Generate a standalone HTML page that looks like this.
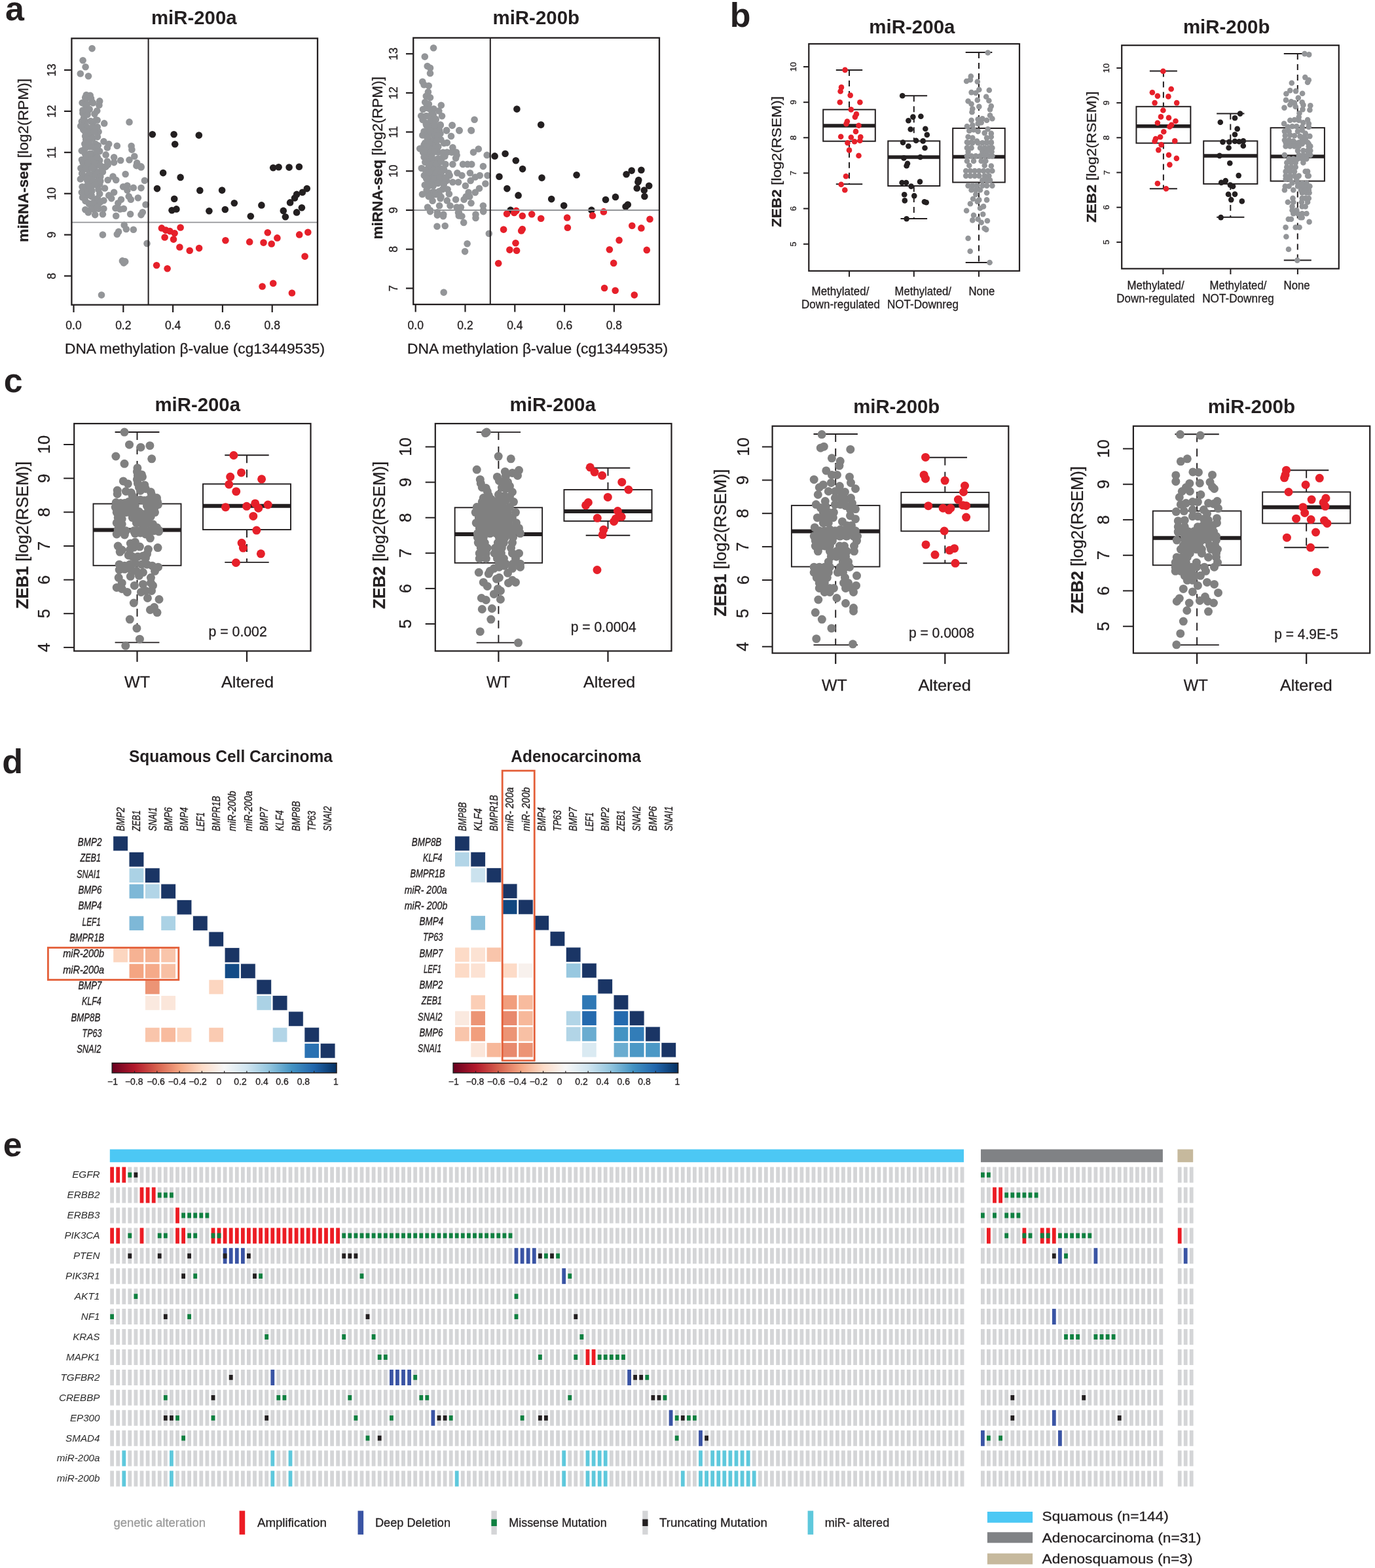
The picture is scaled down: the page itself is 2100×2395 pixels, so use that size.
<!DOCTYPE html>
<html><head><meta charset="utf-8"><title>Figure</title>
<style>html,body{margin:0;padding:0;background:#fff;}svg{display:block;}text{font-family:"Liberation Sans", Arial, Helvetica, sans-serif;}</style>
</head><body>
<svg width="2100" height="2395" viewBox="0 0 2100 2395" fill="#231f20">
<defs><linearGradient id="rdbu" x1="0" x2="1" y1="0" y2="0"><stop offset="0.00" stop-color="#67001f"/><stop offset="0.10" stop-color="#b2182b"/><stop offset="0.20" stop-color="#d6604d"/><stop offset="0.30" stop-color="#f4a582"/><stop offset="0.40" stop-color="#fddbc7"/><stop offset="0.50" stop-color="#f7f7f7"/><stop offset="0.60" stop-color="#d1e5f0"/><stop offset="0.70" stop-color="#92c5de"/><stop offset="0.80" stop-color="#4393c3"/><stop offset="0.90" stop-color="#2166ac"/><stop offset="1.00" stop-color="#053061"/></linearGradient></defs>
<rect width="2100" height="2395" fill="#fff"/>
<text x="8.0" y="31.0" font-size="52" font-weight="bold">a</text>
<text x="231.0" y="36.8" font-size="29.5" font-weight="bold" textLength="130.6" lengthAdjust="spacingAndGlyphs">miR-200a</text>
<g fill="#939598"><circle cx="140.6" cy="74.1" r="5.3"/><circle cx="126.6" cy="92.2" r="5.3"/><circle cx="130.6" cy="102.2" r="5.3"/><circle cx="122.8" cy="112.5" r="5.3"/><circle cx="135.0" cy="116.2" r="5.3"/><circle cx="137.7" cy="145.8" r="5.3"/><circle cx="131.1" cy="150.9" r="5.3"/><circle cx="125.6" cy="157.1" r="5.3"/><circle cx="130.3" cy="159.8" r="5.3"/><circle cx="140.5" cy="155.5" r="5.3"/><circle cx="152.2" cy="154.4" r="5.3"/><circle cx="151.4" cy="160.6" r="5.3"/><circle cx="130.3" cy="168.4" r="5.3"/><circle cx="126.4" cy="173.1" r="5.3"/><circle cx="133.4" cy="171.6" r="5.3"/><circle cx="128.0" cy="180.2" r="5.3"/><circle cx="129.5" cy="184.8" r="5.3"/><circle cx="146.7" cy="183.3" r="5.3"/><circle cx="142.0" cy="187.2" r="5.3"/><circle cx="159.2" cy="188.4" r="5.3"/><circle cx="197.5" cy="186.4" r="5.3"/><circle cx="131.1" cy="191.9" r="5.3"/><circle cx="127.2" cy="198.1" r="5.3"/><circle cx="133.4" cy="196.6" r="5.3"/><circle cx="139.7" cy="195.0" r="5.3"/><circle cx="144.4" cy="196.6" r="5.3"/><circle cx="150.6" cy="201.2" r="5.3"/><circle cx="133.4" cy="205.9" r="5.3"/><circle cx="139.7" cy="204.4" r="5.3"/><circle cx="131.1" cy="213.0" r="5.3"/><circle cx="141.2" cy="211.4" r="5.3"/><circle cx="158.4" cy="216.1" r="5.3"/><circle cx="166.2" cy="220.0" r="5.3"/><circle cx="163.9" cy="225.5" r="5.3"/><circle cx="178.8" cy="222.7" r="5.3"/><circle cx="200.6" cy="223.1" r="5.3"/><circle cx="201.4" cy="228.6" r="5.3"/><circle cx="124.8" cy="230.2" r="5.3"/><circle cx="130.3" cy="226.2" r="5.3"/><circle cx="136.6" cy="223.9" r="5.3"/><circle cx="142.8" cy="223.1" r="5.3"/><circle cx="149.8" cy="222.3" r="5.3"/><circle cx="161.6" cy="236.4" r="5.3"/><circle cx="174.1" cy="240.3" r="5.3"/><circle cx="184.2" cy="245.0" r="5.3"/><circle cx="197.5" cy="244.2" r="5.3"/><circle cx="205.3" cy="238.8" r="5.3"/><circle cx="209.2" cy="248.9" r="5.3"/><circle cx="215.5" cy="254.4" r="5.3"/><circle cx="132.7" cy="235.6" r="5.3"/><circle cx="139.7" cy="234.8" r="5.3"/><circle cx="147.5" cy="234.1" r="5.3"/><circle cx="152.2" cy="230.9" r="5.3"/><circle cx="130.3" cy="241.9" r="5.3"/><circle cx="138.1" cy="241.9" r="5.3"/><circle cx="145.9" cy="241.9" r="5.3"/><circle cx="152.2" cy="245.0" r="5.3"/><circle cx="163.9" cy="246.6" r="5.3"/><circle cx="174.1" cy="248.1" r="5.3"/><circle cx="131.9" cy="249.7" r="5.3"/><circle cx="139.7" cy="249.7" r="5.3"/><circle cx="146.7" cy="248.9" r="5.3"/><circle cx="125.6" cy="255.9" r="5.3"/><circle cx="135.0" cy="257.5" r="5.3"/><circle cx="144.4" cy="257.5" r="5.3"/><circle cx="161.6" cy="254.4" r="5.3"/><circle cx="156.1" cy="259.1" r="5.3"/><circle cx="124.8" cy="257.0" r="5.3"/><circle cx="131.9" cy="254.7" r="5.3"/><circle cx="139.7" cy="253.1" r="5.3"/><circle cx="146.7" cy="252.3" r="5.3"/><circle cx="151.4" cy="251.6" r="5.3"/><circle cx="160.8" cy="254.7" r="5.3"/><circle cx="164.7" cy="251.6" r="5.3"/><circle cx="156.9" cy="262.5" r="5.3"/><circle cx="144.4" cy="260.9" r="5.3"/><circle cx="130.3" cy="269.5" r="5.3"/><circle cx="138.1" cy="268.8" r="5.3"/><circle cx="145.9" cy="267.2" r="5.3"/><circle cx="133.4" cy="275.8" r="5.3"/><circle cx="141.2" cy="275.0" r="5.3"/><circle cx="150.6" cy="274.2" r="5.3"/><circle cx="191.6" cy="266.0" r="5.3"/><circle cx="208.4" cy="253.1" r="5.3"/><circle cx="215.5" cy="255.5" r="5.3"/><circle cx="220.9" cy="275.8" r="5.3"/><circle cx="164.7" cy="275.0" r="5.3"/><circle cx="172.5" cy="269.5" r="5.3"/><circle cx="177.2" cy="275.0" r="5.3"/><circle cx="131.9" cy="284.4" r="5.3"/><circle cx="139.7" cy="282.8" r="5.3"/><circle cx="152.2" cy="281.2" r="5.3"/><circle cx="160.0" cy="287.5" r="5.3"/><circle cx="188.1" cy="285.2" r="5.3"/><circle cx="194.4" cy="283.6" r="5.3"/><circle cx="203.8" cy="286.7" r="5.3"/><circle cx="215.5" cy="287.1" r="5.3"/><circle cx="194.4" cy="290.6" r="5.3"/><circle cx="131.9" cy="290.6" r="5.3"/><circle cx="139.7" cy="290.6" r="5.3"/><circle cx="152.2" cy="296.1" r="5.3"/><circle cx="174.1" cy="293.8" r="5.3"/><circle cx="166.2" cy="298.4" r="5.3"/><circle cx="170.2" cy="303.1" r="5.3"/><circle cx="196.7" cy="300.0" r="5.3"/><circle cx="199.8" cy="304.7" r="5.3"/><circle cx="210.8" cy="302.3" r="5.3"/><circle cx="185.0" cy="304.7" r="5.3"/><circle cx="180.3" cy="310.2" r="5.3"/><circle cx="222.5" cy="312.5" r="5.3"/><circle cx="131.9" cy="298.4" r="5.3"/><circle cx="139.7" cy="298.4" r="5.3"/><circle cx="147.5" cy="304.7" r="5.3"/><circle cx="158.4" cy="306.2" r="5.3"/><circle cx="135.8" cy="310.9" r="5.3"/><circle cx="142.8" cy="309.4" r="5.3"/><circle cx="150.6" cy="310.9" r="5.3"/><circle cx="130.3" cy="320.3" r="5.3"/><circle cx="143.6" cy="320.3" r="5.3"/><circle cx="150.6" cy="318.8" r="5.3"/><circle cx="158.4" cy="318.8" r="5.3"/><circle cx="145.2" cy="328.1" r="5.3"/><circle cx="156.9" cy="327.3" r="5.3"/><circle cx="176.4" cy="318.0" r="5.3"/><circle cx="183.4" cy="319.5" r="5.3"/><circle cx="188.9" cy="318.8" r="5.3"/><circle cx="177.2" cy="329.7" r="5.3"/><circle cx="199.1" cy="327.0" r="5.3"/><circle cx="215.5" cy="328.1" r="5.3"/><circle cx="217.8" cy="324.2" r="5.3"/><circle cx="189.7" cy="343.8" r="5.3"/><circle cx="192.8" cy="350.0" r="5.3"/><circle cx="181.1" cy="353.9" r="5.3"/><circle cx="178.8" cy="357.8" r="5.3"/><circle cx="203.8" cy="350.8" r="5.3"/><circle cx="156.9" cy="358.6" r="5.3"/><circle cx="224.5" cy="371.9" r="5.3"/><circle cx="186.9" cy="398.4" r="5.3"/><circle cx="189.0" cy="401.6" r="5.3"/><circle cx="191.2" cy="399.4" r="5.3"/><circle cx="155.0" cy="450.6" r="5.3"/></g>
<g fill="#939598"><circle cx="131.8" cy="145.1" r="5.3"/><circle cx="130.2" cy="148.9" r="5.3"/><circle cx="139.0" cy="150.3" r="5.3"/><circle cx="133.0" cy="159.1" r="5.3"/><circle cx="142.0" cy="157.3" r="5.3"/><circle cx="126.4" cy="168.5" r="5.3"/><circle cx="136.7" cy="166.9" r="5.3"/><circle cx="148.2" cy="169.2" r="5.3"/><circle cx="133.6" cy="175.1" r="5.3"/><circle cx="144.5" cy="174.1" r="5.3"/><circle cx="124.9" cy="185.5" r="5.3"/><circle cx="138.5" cy="185.0" r="5.3"/><circle cx="148.6" cy="183.5" r="5.3"/><circle cx="123.2" cy="192.6" r="5.3"/><circle cx="134.2" cy="195.4" r="5.3"/><circle cx="141.6" cy="193.8" r="5.3"/><circle cx="148.7" cy="194.0" r="5.3"/><circle cx="129.3" cy="199.9" r="5.3"/><circle cx="136.3" cy="202.1" r="5.3"/><circle cx="143.8" cy="200.9" r="5.3"/><circle cx="130.1" cy="207.9" r="5.3"/><circle cx="141.1" cy="211.5" r="5.3"/><circle cx="148.9" cy="209.1" r="5.3"/><circle cx="129.3" cy="219.7" r="5.3"/><circle cx="135.7" cy="217.2" r="5.3"/><circle cx="145.7" cy="219.8" r="5.3"/><circle cx="130.7" cy="225.8" r="5.3"/><circle cx="142.3" cy="224.6" r="5.3"/><circle cx="148.4" cy="225.5" r="5.3"/><circle cx="130.1" cy="235.3" r="5.3"/><circle cx="137.1" cy="234.9" r="5.3"/><circle cx="147.5" cy="231.6" r="5.3"/><circle cx="124.9" cy="244.1" r="5.3"/><circle cx="131.6" cy="241.9" r="5.3"/><circle cx="139.5" cy="243.2" r="5.3"/><circle cx="148.8" cy="240.0" r="5.3"/><circle cx="126.6" cy="248.2" r="5.3"/><circle cx="134.2" cy="248.7" r="5.3"/><circle cx="144.2" cy="249.9" r="5.3"/><circle cx="153.3" cy="252.8" r="5.3"/><circle cx="123.4" cy="257.0" r="5.3"/><circle cx="130.8" cy="258.1" r="5.3"/><circle cx="141.0" cy="256.8" r="5.3"/><circle cx="153.2" cy="261.8" r="5.3"/><circle cx="125.1" cy="265.0" r="5.3"/><circle cx="136.1" cy="265.9" r="5.3"/><circle cx="148.4" cy="265.3" r="5.3"/><circle cx="153.3" cy="269.8" r="5.3"/><circle cx="122.9" cy="273.5" r="5.3"/><circle cx="132.5" cy="272.8" r="5.3"/><circle cx="141.9" cy="278.2" r="5.3"/><circle cx="153.3" cy="276.6" r="5.3"/><circle cx="125.6" cy="285.3" r="5.3"/><circle cx="137.2" cy="285.4" r="5.3"/><circle cx="145.5" cy="282.2" r="5.3"/><circle cx="124.8" cy="293.8" r="5.3"/><circle cx="134.1" cy="293.4" r="5.3"/><circle cx="140.2" cy="292.1" r="5.3"/><circle cx="150.4" cy="289.4" r="5.3"/><circle cx="126.1" cy="301.4" r="5.3"/><circle cx="139.6" cy="300.0" r="5.3"/><circle cx="149.0" cy="303.1" r="5.3"/><circle cx="130.5" cy="306.9" r="5.3"/><circle cx="142.5" cy="310.8" r="5.3"/><circle cx="153.2" cy="308.4" r="5.3"/><circle cx="139.3" cy="318.4" r="5.3"/><circle cx="147.9" cy="316.7" r="5.3"/><circle cx="134.9" cy="324.5" r="5.3"/></g>
<g fill="#231f20"><circle cx="232.8" cy="205.3" r="5.3"/><circle cx="265.6" cy="205.3" r="5.3"/><circle cx="303.8" cy="206.6" r="5.3"/><circle cx="267.2" cy="220.3" r="5.3"/><circle cx="249.1" cy="264.1" r="5.3"/><circle cx="275.6" cy="270.9" r="5.3"/><circle cx="240.0" cy="288.1" r="5.3"/><circle cx="305.3" cy="290.9" r="5.3"/><circle cx="339.1" cy="290.6" r="5.3"/><circle cx="266.2" cy="303.8" r="5.3"/><circle cx="262.5" cy="321.2" r="5.3"/><circle cx="269.4" cy="319.4" r="5.3"/><circle cx="319.4" cy="322.2" r="5.3"/><circle cx="343.8" cy="320.0" r="5.3"/><circle cx="357.8" cy="310.3" r="5.3"/><circle cx="382.8" cy="330.3" r="5.3"/><circle cx="399.4" cy="313.4" r="5.3"/><circle cx="417.2" cy="256.2" r="5.3"/><circle cx="425.6" cy="255.3" r="5.3"/><circle cx="441.6" cy="255.6" r="5.3"/><circle cx="456.9" cy="254.7" r="5.3"/><circle cx="432.8" cy="321.9" r="5.3"/><circle cx="435.9" cy="331.2" r="5.3"/><circle cx="443.1" cy="309.4" r="5.3"/><circle cx="450.0" cy="302.5" r="5.3"/><circle cx="453.1" cy="296.9" r="5.3"/><circle cx="461.9" cy="293.8" r="5.3"/><circle cx="468.8" cy="288.1" r="5.3"/><circle cx="460.9" cy="317.2" r="5.3"/><circle cx="453.1" cy="324.4" r="5.3"/></g>
<g fill="#e6202a"><circle cx="246.9" cy="348.4" r="5.3"/><circle cx="253.1" cy="351.6" r="5.3"/><circle cx="259.4" cy="353.1" r="5.3"/><circle cx="251.6" cy="362.5" r="5.3"/><circle cx="266.6" cy="356.2" r="5.3"/><circle cx="265.0" cy="365.6" r="5.3"/><circle cx="275.6" cy="347.5" r="5.3"/><circle cx="274.4" cy="377.5" r="5.3"/><circle cx="289.7" cy="382.8" r="5.3"/><circle cx="304.1" cy="379.1" r="5.3"/><circle cx="239.1" cy="405.3" r="5.3"/><circle cx="255.6" cy="410.3" r="5.3"/><circle cx="344.4" cy="367.2" r="5.3"/><circle cx="381.2" cy="369.4" r="5.3"/><circle cx="402.5" cy="370.6" r="5.3"/><circle cx="408.8" cy="355.3" r="5.3"/><circle cx="414.7" cy="372.5" r="5.3"/><circle cx="423.4" cy="363.4" r="5.3"/><circle cx="457.2" cy="358.4" r="5.3"/><circle cx="470.3" cy="354.7" r="5.3"/><circle cx="465.6" cy="391.6" r="5.3"/><circle cx="400.6" cy="437.5" r="5.3"/><circle cx="417.2" cy="432.8" r="5.3"/><circle cx="445.9" cy="447.5" r="5.3"/></g>
<line x1="109.4" y1="339.7" x2="485.0" y2="339.7" stroke="#939598" stroke-width="1.8" stroke-linecap="butt"/>
<line x1="226.6" y1="58.6" x2="226.6" y2="465.6" stroke="#231f20" stroke-width="2.0" stroke-linecap="butt"/>
<rect x="109.40" y="58.60" width="375.60" height="407.00" fill="none" stroke="#231f20" stroke-width="2.3"/>
<line x1="98.0" y1="421.5" x2="109.4" y2="421.5" stroke="#231f20" stroke-width="2.2" stroke-linecap="butt"/>
<text x="84.8" y="421.5" font-size="17.5" text-anchor="middle" stroke="#231f20" stroke-width="0.3" transform="rotate(-90 84.8 421.5)">8</text>
<line x1="98.0" y1="358.6" x2="109.4" y2="358.6" stroke="#231f20" stroke-width="2.2" stroke-linecap="butt"/>
<text x="84.8" y="358.6" font-size="17.5" text-anchor="middle" stroke="#231f20" stroke-width="0.3" transform="rotate(-90 84.8 358.6)">9</text>
<line x1="98.0" y1="295.7" x2="109.4" y2="295.7" stroke="#231f20" stroke-width="2.2" stroke-linecap="butt"/>
<text x="84.8" y="295.7" font-size="17.5" text-anchor="middle" stroke="#231f20" stroke-width="0.3" transform="rotate(-90 84.8 295.7)">10</text>
<line x1="98.0" y1="232.8" x2="109.4" y2="232.8" stroke="#231f20" stroke-width="2.2" stroke-linecap="butt"/>
<text x="84.8" y="232.8" font-size="17.5" text-anchor="middle" stroke="#231f20" stroke-width="0.3" transform="rotate(-90 84.8 232.8)">11</text>
<line x1="98.0" y1="169.9" x2="109.4" y2="169.9" stroke="#231f20" stroke-width="2.2" stroke-linecap="butt"/>
<text x="84.8" y="169.9" font-size="17.5" text-anchor="middle" stroke="#231f20" stroke-width="0.3" transform="rotate(-90 84.8 169.9)">12</text>
<line x1="98.0" y1="107.0" x2="109.4" y2="107.0" stroke="#231f20" stroke-width="2.2" stroke-linecap="butt"/>
<text x="84.8" y="107.0" font-size="17.5" text-anchor="middle" stroke="#231f20" stroke-width="0.3" transform="rotate(-90 84.8 107.0)">13</text>
<line x1="112.5" y1="465.6" x2="112.5" y2="477.0" stroke="#231f20" stroke-width="2.2" stroke-linecap="butt"/>
<text x="112.5" y="503.0" font-size="17.5" text-anchor="middle" stroke="#231f20" stroke-width="0.3">0.0</text>
<line x1="188.3" y1="465.6" x2="188.3" y2="477.0" stroke="#231f20" stroke-width="2.2" stroke-linecap="butt"/>
<text x="188.3" y="503.0" font-size="17.5" text-anchor="middle" stroke="#231f20" stroke-width="0.3">0.2</text>
<line x1="264.1" y1="465.6" x2="264.1" y2="477.0" stroke="#231f20" stroke-width="2.2" stroke-linecap="butt"/>
<text x="264.1" y="503.0" font-size="17.5" text-anchor="middle" stroke="#231f20" stroke-width="0.3">0.4</text>
<line x1="339.9" y1="465.6" x2="339.9" y2="477.0" stroke="#231f20" stroke-width="2.2" stroke-linecap="butt"/>
<text x="339.9" y="503.0" font-size="17.5" text-anchor="middle" stroke="#231f20" stroke-width="0.3">0.6</text>
<line x1="415.7" y1="465.6" x2="415.7" y2="477.0" stroke="#231f20" stroke-width="2.2" stroke-linecap="butt"/>
<text x="415.7" y="503.0" font-size="17.5" text-anchor="middle" stroke="#231f20" stroke-width="0.3">0.8</text>
<text x="99.0" y="540.0" font-size="21.8" stroke="#231f20" stroke-width="0.3" textLength="397.0" lengthAdjust="spacingAndGlyphs">DNA methylation β-value (cg13449535)</text>
<text x="43.0" y="369.8" font-size="21.8" stroke="#231f20" stroke-width="0.3" textLength="249.8" lengthAdjust="spacingAndGlyphs" transform="rotate(-90 43.0 369.8)"><tspan font-weight="bold">miRNA-seq</tspan> [log2(RPM)]</text>
<text x="752.5" y="36.8" font-size="29.5" font-weight="bold" textLength="132.5" lengthAdjust="spacingAndGlyphs">miR-200b</text>
<g fill="#939598"><circle cx="662.1" cy="73.3" r="5.3"/><circle cx="648.8" cy="86.6" r="5.3"/><circle cx="652.7" cy="101.0" r="5.3"/><circle cx="657.0" cy="103.8" r="5.3"/><circle cx="657.0" cy="112.0" r="5.3"/><circle cx="645.3" cy="124.8" r="5.3"/><circle cx="647.6" cy="129.5" r="5.3"/><circle cx="654.7" cy="131.1" r="5.3"/><circle cx="653.9" cy="140.5" r="5.3"/><circle cx="650.8" cy="146.7" r="5.3"/><circle cx="657.0" cy="149.1" r="5.3"/><circle cx="649.2" cy="156.1" r="5.3"/><circle cx="650.8" cy="164.7" r="5.3"/><circle cx="673.8" cy="160.8" r="5.3"/><circle cx="662.5" cy="166.2" r="5.3"/><circle cx="670.3" cy="169.4" r="5.3"/><circle cx="659.3" cy="174.1" r="5.3"/><circle cx="675.0" cy="177.2" r="5.3"/><circle cx="650.4" cy="177.2" r="5.3"/><circle cx="665.6" cy="181.9" r="5.3"/><circle cx="650.8" cy="188.1" r="5.3"/><circle cx="672.6" cy="190.5" r="5.3"/><circle cx="690.6" cy="191.2" r="5.3"/><circle cx="724.6" cy="182.7" r="5.3"/><circle cx="701.5" cy="199.1" r="5.3"/><circle cx="682.0" cy="199.1" r="5.3"/><circle cx="719.5" cy="199.1" r="5.3"/><circle cx="655.4" cy="195.9" r="5.3"/><circle cx="663.2" cy="194.4" r="5.3"/><circle cx="671.1" cy="199.1" r="5.3"/><circle cx="651.5" cy="191.6" r="5.3"/><circle cx="657.8" cy="191.6" r="5.3"/><circle cx="664.8" cy="191.6" r="5.3"/><circle cx="672.6" cy="191.6" r="5.3"/><circle cx="690.6" cy="191.6" r="5.3"/><circle cx="701.5" cy="199.4" r="5.3"/><circle cx="719.9" cy="199.4" r="5.3"/><circle cx="682.0" cy="199.4" r="5.3"/><circle cx="653.1" cy="204.1" r="5.3"/><circle cx="659.3" cy="204.1" r="5.3"/><circle cx="665.6" cy="204.1" r="5.3"/><circle cx="672.6" cy="204.1" r="5.3"/><circle cx="689.0" cy="208.0" r="5.3"/><circle cx="655.4" cy="213.4" r="5.3"/><circle cx="661.7" cy="213.4" r="5.3"/><circle cx="667.9" cy="213.4" r="5.3"/><circle cx="673.4" cy="213.4" r="5.3"/><circle cx="682.8" cy="218.1" r="5.3"/><circle cx="647.6" cy="221.2" r="5.3"/><circle cx="653.9" cy="221.2" r="5.3"/><circle cx="660.1" cy="221.2" r="5.3"/><circle cx="666.4" cy="221.2" r="5.3"/><circle cx="691.4" cy="225.2" r="5.3"/><circle cx="647.6" cy="227.5" r="5.3"/><circle cx="657.0" cy="227.5" r="5.3"/><circle cx="663.2" cy="227.5" r="5.3"/><circle cx="730.8" cy="227.5" r="5.3"/><circle cx="646.1" cy="232.6" r="5.3"/><circle cx="652.3" cy="232.6" r="5.3"/><circle cx="669.5" cy="232.6" r="5.3"/><circle cx="682.8" cy="232.6" r="5.3"/><circle cx="689.8" cy="232.6" r="5.3"/><circle cx="696.8" cy="232.6" r="5.3"/><circle cx="723.0" cy="232.6" r="5.3"/><circle cx="697.6" cy="236.9" r="5.3"/><circle cx="743.7" cy="236.9" r="5.3"/><circle cx="647.6" cy="240.0" r="5.3"/><circle cx="655.4" cy="240.0" r="5.3"/><circle cx="675.0" cy="241.6" r="5.3"/><circle cx="696.1" cy="241.6" r="5.3"/><circle cx="657.0" cy="244.7" r="5.3"/><circle cx="663.2" cy="244.7" r="5.3"/><circle cx="655.4" cy="250.9" r="5.3"/><circle cx="661.7" cy="250.9" r="5.3"/><circle cx="667.9" cy="250.9" r="5.3"/><circle cx="680.4" cy="250.9" r="5.3"/><circle cx="691.4" cy="250.9" r="5.3"/><circle cx="707.0" cy="250.9" r="5.3"/><circle cx="714.0" cy="250.9" r="5.3"/><circle cx="720.3" cy="250.9" r="5.3"/><circle cx="737.9" cy="254.1" r="5.3"/><circle cx="653.9" cy="257.2" r="5.3"/><circle cx="660.1" cy="257.2" r="5.3"/><circle cx="666.4" cy="257.2" r="5.3"/><circle cx="672.6" cy="257.2" r="5.3"/><circle cx="654.7" cy="264.2" r="5.3"/><circle cx="660.9" cy="264.2" r="5.3"/><circle cx="672.6" cy="264.2" r="5.3"/><circle cx="685.1" cy="264.2" r="5.3"/><circle cx="698.4" cy="264.2" r="5.3"/><circle cx="717.9" cy="264.2" r="5.3"/><circle cx="686.7" cy="268.1" r="5.3"/><circle cx="705.4" cy="268.1" r="5.3"/><circle cx="732.8" cy="268.1" r="5.3"/><circle cx="744.5" cy="268.1" r="5.3"/><circle cx="653.9" cy="270.5" r="5.3"/><circle cx="660.1" cy="270.5" r="5.3"/><circle cx="666.4" cy="270.5" r="5.3"/><circle cx="672.6" cy="270.5" r="5.3"/><circle cx="725.8" cy="270.5" r="5.3"/><circle cx="682.0" cy="275.9" r="5.3"/><circle cx="718.7" cy="275.9" r="5.3"/><circle cx="653.9" cy="278.3" r="5.3"/><circle cx="660.1" cy="278.3" r="5.3"/><circle cx="666.4" cy="278.3" r="5.3"/><circle cx="675.8" cy="278.3" r="5.3"/><circle cx="691.4" cy="278.3" r="5.3"/><circle cx="700.0" cy="278.3" r="5.3"/><circle cx="741.4" cy="280.6" r="5.3"/><circle cx="655.4" cy="283.8" r="5.3"/><circle cx="661.7" cy="283.8" r="5.3"/><circle cx="710.9" cy="283.8" r="5.3"/><circle cx="732.0" cy="287.7" r="5.3"/><circle cx="675.8" cy="289.2" r="5.3"/><circle cx="683.6" cy="289.2" r="5.3"/><circle cx="653.1" cy="293.9" r="5.3"/><circle cx="660.1" cy="293.9" r="5.3"/><circle cx="669.5" cy="293.9" r="5.3"/><circle cx="715.6" cy="293.9" r="5.3"/><circle cx="725.8" cy="293.9" r="5.3"/><circle cx="685.9" cy="296.2" r="5.3"/><circle cx="660.9" cy="297.8" r="5.3"/><circle cx="671.1" cy="297.8" r="5.3"/><circle cx="711.7" cy="300.2" r="5.3"/><circle cx="717.2" cy="300.2" r="5.3"/><circle cx="672.6" cy="303.3" r="5.3"/><circle cx="696.1" cy="304.8" r="5.3"/><circle cx="708.6" cy="304.8" r="5.3"/><circle cx="682.8" cy="306.4" r="5.3"/><circle cx="719.5" cy="310.3" r="5.3"/><circle cx="671.1" cy="314.2" r="5.3"/><circle cx="687.5" cy="314.2" r="5.3"/><circle cx="737.9" cy="314.2" r="5.3"/><circle cx="653.1" cy="316.6" r="5.3"/><circle cx="697.6" cy="316.6" r="5.3"/><circle cx="703.9" cy="316.6" r="5.3"/><circle cx="657.0" cy="321.2" r="5.3"/><circle cx="738.2" cy="321.2" r="5.3"/><circle cx="667.9" cy="324.4" r="5.3"/><circle cx="700.8" cy="324.4" r="5.3"/><circle cx="677.3" cy="327.5" r="5.3"/><circle cx="726.5" cy="327.5" r="5.3"/><circle cx="657.0" cy="323.1" r="5.3"/><circle cx="667.9" cy="328.6" r="5.3"/><circle cx="676.9" cy="330.2" r="5.3"/><circle cx="700.0" cy="324.7" r="5.3"/><circle cx="700.8" cy="329.4" r="5.3"/><circle cx="705.4" cy="330.2" r="5.3"/><circle cx="726.5" cy="332.9" r="5.3"/><circle cx="738.2" cy="323.1" r="5.3"/><circle cx="708.2" cy="339.9" r="5.3"/><circle cx="667.5" cy="345.8" r="5.3"/><circle cx="679.7" cy="345.0" r="5.3"/><circle cx="746.8" cy="356.7" r="5.3"/><circle cx="713.6" cy="372.3" r="5.3"/><circle cx="710.1" cy="384.1" r="5.3"/><circle cx="677.7" cy="446.6" r="5.3"/></g>
<g fill="#939598"><circle cx="654.9" cy="159.1" r="5.3"/><circle cx="646.0" cy="167.0" r="5.3"/><circle cx="655.6" cy="166.1" r="5.3"/><circle cx="643.2" cy="177.1" r="5.3"/><circle cx="651.8" cy="177.2" r="5.3"/><circle cx="661.8" cy="175.0" r="5.3"/><circle cx="645.6" cy="182.9" r="5.3"/><circle cx="658.3" cy="183.4" r="5.3"/><circle cx="665.5" cy="183.2" r="5.3"/><circle cx="650.8" cy="190.1" r="5.3"/><circle cx="663.3" cy="191.4" r="5.3"/><circle cx="647.6" cy="200.7" r="5.3"/><circle cx="656.7" cy="199.8" r="5.3"/><circle cx="666.4" cy="202.1" r="5.3"/><circle cx="645.3" cy="206.5" r="5.3"/><circle cx="652.6" cy="210.4" r="5.3"/><circle cx="663.7" cy="205.8" r="5.3"/><circle cx="669.1" cy="207.5" r="5.3"/><circle cx="649.1" cy="218.4" r="5.3"/><circle cx="655.0" cy="217.4" r="5.3"/><circle cx="667.4" cy="214.1" r="5.3"/><circle cx="678.2" cy="218.8" r="5.3"/><circle cx="641.2" cy="227.0" r="5.3"/><circle cx="651.7" cy="224.3" r="5.3"/><circle cx="664.5" cy="226.3" r="5.3"/><circle cx="669.3" cy="224.0" r="5.3"/><circle cx="648.8" cy="229.9" r="5.3"/><circle cx="657.3" cy="232.3" r="5.3"/><circle cx="663.8" cy="231.7" r="5.3"/><circle cx="676.7" cy="232.7" r="5.3"/><circle cx="653.9" cy="243.6" r="5.3"/><circle cx="659.5" cy="239.6" r="5.3"/><circle cx="668.6" cy="242.5" r="5.3"/><circle cx="679.4" cy="238.8" r="5.3"/><circle cx="649.3" cy="247.8" r="5.3"/><circle cx="655.0" cy="251.6" r="5.3"/><circle cx="666.9" cy="250.3" r="5.3"/><circle cx="673.7" cy="246.7" r="5.3"/><circle cx="643.8" cy="257.0" r="5.3"/><circle cx="649.8" cy="259.9" r="5.3"/><circle cx="662.5" cy="259.2" r="5.3"/><circle cx="668.9" cy="259.5" r="5.3"/><circle cx="678.3" cy="259.5" r="5.3"/><circle cx="647.8" cy="268.1" r="5.3"/><circle cx="655.7" cy="263.6" r="5.3"/><circle cx="666.7" cy="264.2" r="5.3"/><circle cx="673.8" cy="263.8" r="5.3"/><circle cx="651.2" cy="272.9" r="5.3"/><circle cx="663.2" cy="272.8" r="5.3"/><circle cx="671.3" cy="272.1" r="5.3"/><circle cx="679.9" cy="271.2" r="5.3"/><circle cx="648.8" cy="282.5" r="5.3"/><circle cx="655.2" cy="282.1" r="5.3"/><circle cx="669.0" cy="280.0" r="5.3"/><circle cx="677.8" cy="281.9" r="5.3"/><circle cx="651.6" cy="290.5" r="5.3"/><circle cx="662.8" cy="293.3" r="5.3"/><circle cx="670.4" cy="292.4" r="5.3"/><circle cx="645.0" cy="296.7" r="5.3"/><circle cx="654.6" cy="300.1" r="5.3"/><circle cx="665.1" cy="296.9" r="5.3"/><circle cx="673.6" cy="300.7" r="5.3"/><circle cx="660.6" cy="306.8" r="5.3"/></g>
<g fill="#231f20"><circle cx="789.4" cy="166.6" r="5.3"/><circle cx="826.2" cy="190.6" r="5.3"/><circle cx="755.6" cy="238.4" r="5.3"/><circle cx="771.6" cy="234.7" r="5.3"/><circle cx="787.8" cy="245.3" r="5.3"/><circle cx="798.1" cy="258.1" r="5.3"/><circle cx="762.5" cy="269.7" r="5.3"/><circle cx="827.5" cy="271.6" r="5.3"/><circle cx="880.6" cy="267.2" r="5.3"/><circle cx="774.4" cy="288.1" r="5.3"/><circle cx="791.6" cy="298.4" r="5.3"/><circle cx="842.2" cy="304.1" r="5.3"/><circle cx="861.2" cy="314.1" r="5.3"/><circle cx="779.7" cy="320.9" r="5.3"/><circle cx="903.4" cy="320.9" r="5.3"/><circle cx="925.0" cy="305.0" r="5.3"/><circle cx="940.0" cy="300.9" r="5.3"/><circle cx="956.6" cy="266.2" r="5.3"/><circle cx="964.7" cy="260.6" r="5.3"/><circle cx="979.4" cy="259.7" r="5.3"/><circle cx="975.3" cy="275.0" r="5.3"/><circle cx="974.4" cy="278.1" r="5.3"/><circle cx="972.8" cy="287.5" r="5.3"/><circle cx="983.8" cy="290.6" r="5.3"/><circle cx="984.4" cy="300.0" r="5.3"/><circle cx="991.2" cy="283.8" r="5.3"/><circle cx="955.6" cy="315.6" r="5.3"/><circle cx="958.8" cy="312.5" r="5.3"/></g>
<g fill="#e6202a"><circle cx="774.1" cy="326.6" r="5.3"/><circle cx="788.4" cy="321.9" r="5.3"/><circle cx="785.3" cy="325.0" r="5.3"/><circle cx="797.8" cy="329.7" r="5.3"/><circle cx="812.2" cy="327.2" r="5.3"/><circle cx="826.2" cy="333.8" r="5.3"/><circle cx="769.1" cy="350.6" r="5.3"/><circle cx="797.8" cy="350.0" r="5.3"/><circle cx="796.2" cy="352.5" r="5.3"/><circle cx="787.5" cy="371.2" r="5.3"/><circle cx="778.4" cy="381.6" r="5.3"/><circle cx="789.1" cy="382.8" r="5.3"/><circle cx="761.2" cy="402.2" r="5.3"/><circle cx="866.2" cy="332.5" r="5.3"/><circle cx="866.9" cy="347.8" r="5.3"/><circle cx="905.0" cy="329.4" r="5.3"/><circle cx="921.9" cy="323.4" r="5.3"/><circle cx="992.5" cy="334.7" r="5.3"/><circle cx="965.3" cy="344.7" r="5.3"/><circle cx="979.4" cy="348.4" r="5.3"/><circle cx="945.6" cy="366.9" r="5.3"/><circle cx="930.9" cy="381.2" r="5.3"/><circle cx="987.8" cy="381.9" r="5.3"/><circle cx="937.2" cy="401.9" r="5.3"/><circle cx="923.1" cy="440.0" r="5.3"/><circle cx="939.7" cy="443.8" r="5.3"/><circle cx="968.8" cy="450.6" r="5.3"/></g>
<line x1="631.2" y1="321.0" x2="1007.0" y2="321.0" stroke="#939598" stroke-width="1.8" stroke-linecap="butt"/>
<line x1="748.8" y1="57.8" x2="748.8" y2="465.0" stroke="#231f20" stroke-width="2.0" stroke-linecap="butt"/>
<rect x="631.25" y="57.80" width="375.75" height="407.20" fill="none" stroke="#231f20" stroke-width="2.3"/>
<line x1="620.0" y1="440.4" x2="631.2" y2="440.4" stroke="#231f20" stroke-width="2.2" stroke-linecap="butt"/>
<text x="607.0" y="440.4" font-size="17.5" text-anchor="middle" stroke="#231f20" stroke-width="0.3" transform="rotate(-90 607.0 440.4)">7</text>
<line x1="620.0" y1="380.7" x2="631.2" y2="380.7" stroke="#231f20" stroke-width="2.2" stroke-linecap="butt"/>
<text x="607.0" y="380.7" font-size="17.5" text-anchor="middle" stroke="#231f20" stroke-width="0.3" transform="rotate(-90 607.0 380.7)">8</text>
<line x1="620.0" y1="321.0" x2="631.2" y2="321.0" stroke="#231f20" stroke-width="2.2" stroke-linecap="butt"/>
<text x="607.0" y="321.0" font-size="17.5" text-anchor="middle" stroke="#231f20" stroke-width="0.3" transform="rotate(-90 607.0 321.0)">9</text>
<line x1="620.0" y1="261.3" x2="631.2" y2="261.3" stroke="#231f20" stroke-width="2.2" stroke-linecap="butt"/>
<text x="607.0" y="261.3" font-size="17.5" text-anchor="middle" stroke="#231f20" stroke-width="0.3" transform="rotate(-90 607.0 261.3)">10</text>
<line x1="620.0" y1="201.6" x2="631.2" y2="201.6" stroke="#231f20" stroke-width="2.2" stroke-linecap="butt"/>
<text x="607.0" y="201.6" font-size="17.5" text-anchor="middle" stroke="#231f20" stroke-width="0.3" transform="rotate(-90 607.0 201.6)">11</text>
<line x1="620.0" y1="141.9" x2="631.2" y2="141.9" stroke="#231f20" stroke-width="2.2" stroke-linecap="butt"/>
<text x="607.0" y="141.9" font-size="17.5" text-anchor="middle" stroke="#231f20" stroke-width="0.3" transform="rotate(-90 607.0 141.9)">12</text>
<line x1="620.0" y1="82.2" x2="631.2" y2="82.2" stroke="#231f20" stroke-width="2.2" stroke-linecap="butt"/>
<text x="607.0" y="82.2" font-size="17.5" text-anchor="middle" stroke="#231f20" stroke-width="0.3" transform="rotate(-90 607.0 82.2)">13</text>
<line x1="634.7" y1="465.0" x2="634.7" y2="476.5" stroke="#231f20" stroke-width="2.2" stroke-linecap="butt"/>
<text x="634.7" y="503.0" font-size="17.5" text-anchor="middle" stroke="#231f20" stroke-width="0.3">0.0</text>
<line x1="710.5" y1="465.0" x2="710.5" y2="476.5" stroke="#231f20" stroke-width="2.2" stroke-linecap="butt"/>
<text x="710.5" y="503.0" font-size="17.5" text-anchor="middle" stroke="#231f20" stroke-width="0.3">0.2</text>
<line x1="786.3" y1="465.0" x2="786.3" y2="476.5" stroke="#231f20" stroke-width="2.2" stroke-linecap="butt"/>
<text x="786.3" y="503.0" font-size="17.5" text-anchor="middle" stroke="#231f20" stroke-width="0.3">0.4</text>
<line x1="862.1" y1="465.0" x2="862.1" y2="476.5" stroke="#231f20" stroke-width="2.2" stroke-linecap="butt"/>
<text x="862.1" y="503.0" font-size="17.5" text-anchor="middle" stroke="#231f20" stroke-width="0.3">0.6</text>
<line x1="937.9" y1="465.0" x2="937.9" y2="476.5" stroke="#231f20" stroke-width="2.2" stroke-linecap="butt"/>
<text x="937.9" y="503.0" font-size="17.5" text-anchor="middle" stroke="#231f20" stroke-width="0.3">0.8</text>
<text x="622.0" y="540.0" font-size="21.8" stroke="#231f20" stroke-width="0.3" textLength="398.0" lengthAdjust="spacingAndGlyphs">DNA methylation β-value (cg13449535)</text>
<text x="584.0" y="365.6" font-size="21.8" stroke="#231f20" stroke-width="0.3" textLength="248.6" lengthAdjust="spacingAndGlyphs" transform="rotate(-90 584.0 365.6)"><tspan font-weight="bold">miRNA-seq</tspan> [log2(RPM)]</text>
<text x="1114.8" y="40.5" font-size="52" font-weight="bold">b</text>
<text x="1327.3" y="50.7" font-size="29.5" font-weight="bold" textLength="131.2" lengthAdjust="spacingAndGlyphs">miR-200a</text>
<line x1="1297.0" y1="106.9" x2="1297.0" y2="167.4" stroke="#231f20" stroke-width="2.0" stroke-linecap="butt" stroke-dasharray="9,7"/>
<line x1="1297.0" y1="215.7" x2="1297.0" y2="281.3" stroke="#231f20" stroke-width="2.0" stroke-linecap="butt" stroke-dasharray="9,7"/>
<line x1="1276.8" y1="106.9" x2="1317.2" y2="106.9" stroke="#231f20" stroke-width="2.0" stroke-linecap="butt"/>
<line x1="1276.8" y1="281.3" x2="1317.2" y2="281.3" stroke="#231f20" stroke-width="2.0" stroke-linecap="butt"/>
<rect x="1257.20" y="167.40" width="79.60" height="48.30" fill="white" stroke="#231f20" stroke-width="2.0"/>
<line x1="1257.2" y1="192.0" x2="1336.8" y2="192.0" stroke="#231f20" stroke-width="5.5" stroke-linecap="butt"/>
<line x1="1395.8" y1="146.2" x2="1395.8" y2="215.4" stroke="#231f20" stroke-width="2.0" stroke-linecap="butt" stroke-dasharray="9,7"/>
<line x1="1395.8" y1="284.0" x2="1395.8" y2="334.0" stroke="#231f20" stroke-width="2.0" stroke-linecap="butt" stroke-dasharray="9,7"/>
<line x1="1375.5" y1="146.2" x2="1416.1" y2="146.2" stroke="#231f20" stroke-width="2.0" stroke-linecap="butt"/>
<line x1="1375.5" y1="334.0" x2="1416.1" y2="334.0" stroke="#231f20" stroke-width="2.0" stroke-linecap="butt"/>
<rect x="1356.30" y="215.40" width="79.00" height="68.60" fill="white" stroke="#231f20" stroke-width="2.0"/>
<line x1="1356.3" y1="240.0" x2="1435.3" y2="240.0" stroke="#231f20" stroke-width="5.5" stroke-linecap="butt"/>
<line x1="1495.0" y1="80.0" x2="1495.0" y2="195.9" stroke="#231f20" stroke-width="2.0" stroke-linecap="butt" stroke-dasharray="9,7"/>
<line x1="1495.0" y1="278.5" x2="1495.0" y2="401.0" stroke="#231f20" stroke-width="2.0" stroke-linecap="butt" stroke-dasharray="9,7"/>
<line x1="1474.7" y1="80.0" x2="1515.3" y2="80.0" stroke="#231f20" stroke-width="2.0" stroke-linecap="butt"/>
<line x1="1474.7" y1="401.0" x2="1515.3" y2="401.0" stroke="#231f20" stroke-width="2.0" stroke-linecap="butt"/>
<rect x="1455.20" y="195.90" width="79.60" height="82.60" fill="white" stroke="#231f20" stroke-width="2.0"/>
<line x1="1455.2" y1="239.4" x2="1534.8" y2="239.4" stroke="#231f20" stroke-width="5.5" stroke-linecap="butt"/>
<g fill="#939598"><circle cx="1508.7" cy="80.5" r="4.3"/><circle cx="1482.8" cy="116.5" r="4.3"/><circle cx="1476.1" cy="124.0" r="4.3"/><circle cx="1481.9" cy="121.9" r="4.3"/><circle cx="1492.8" cy="124.8" r="4.3"/><circle cx="1510.8" cy="137.8" r="4.3"/><circle cx="1495.3" cy="137.0" r="4.3"/><circle cx="1483.6" cy="141.1" r="4.3"/><circle cx="1490.3" cy="142.0" r="4.3"/><circle cx="1478.6" cy="154.5" r="4.3"/><circle cx="1483.6" cy="158.7" r="4.3"/><circle cx="1485.3" cy="166.3" r="4.3"/><circle cx="1484.5" cy="171.3" r="4.3"/><circle cx="1492.8" cy="152.9" r="4.3"/><circle cx="1495.3" cy="162.9" r="4.3"/><circle cx="1506.2" cy="147.8" r="4.3"/><circle cx="1510.4" cy="153.7" r="4.3"/><circle cx="1513.8" cy="162.1" r="4.3"/><circle cx="1512.1" cy="167.1" r="4.3"/><circle cx="1512.1" cy="176.3" r="4.3"/><circle cx="1515.4" cy="181.3" r="4.3"/><circle cx="1483.6" cy="183.8" r="4.3"/><circle cx="1493.7" cy="182.2" r="4.3"/><circle cx="1500.4" cy="181.3" r="4.3"/><circle cx="1507.1" cy="183.8" r="4.3"/><circle cx="1476.9" cy="193.0" r="4.3"/><circle cx="1485.3" cy="191.4" r="4.3"/><circle cx="1493.7" cy="188.9" r="4.3"/><circle cx="1498.7" cy="187.2" r="4.3"/><circle cx="1480.3" cy="199.7" r="4.3"/><circle cx="1487.0" cy="198.1" r="4.3"/><circle cx="1493.7" cy="200.6" r="4.3"/><circle cx="1508.7" cy="197.2" r="4.3"/><circle cx="1503.7" cy="203.1" r="4.3"/><circle cx="1513.8" cy="203.9" r="4.3"/><circle cx="1478.6" cy="209.0" r="4.3"/><circle cx="1485.3" cy="210.6" r="4.3"/><circle cx="1507.1" cy="210.6" r="4.3"/><circle cx="1513.8" cy="209.0" r="4.3"/><circle cx="1476.9" cy="217.3" r="4.3"/><circle cx="1483.6" cy="217.3" r="4.3"/><circle cx="1492.0" cy="215.6" r="4.3"/><circle cx="1507.1" cy="217.3" r="4.3"/><circle cx="1513.8" cy="217.3" r="4.3"/><circle cx="1478.6" cy="218.3" r="4.3"/><circle cx="1485.3" cy="218.3" r="4.3"/><circle cx="1493.7" cy="218.3" r="4.3"/><circle cx="1500.4" cy="218.3" r="4.3"/><circle cx="1507.1" cy="218.3" r="4.3"/><circle cx="1513.8" cy="218.3" r="4.3"/><circle cx="1476.9" cy="225.9" r="4.3"/><circle cx="1483.6" cy="225.9" r="4.3"/><circle cx="1497.0" cy="225.9" r="4.3"/><circle cx="1503.7" cy="225.9" r="4.3"/><circle cx="1510.4" cy="225.9" r="4.3"/><circle cx="1515.4" cy="225.9" r="4.3"/><circle cx="1478.6" cy="231.7" r="4.3"/><circle cx="1500.4" cy="231.7" r="4.3"/><circle cx="1507.1" cy="231.7" r="4.3"/><circle cx="1514.6" cy="231.7" r="4.3"/><circle cx="1476.9" cy="238.4" r="4.3"/><circle cx="1483.6" cy="238.4" r="4.3"/><circle cx="1490.3" cy="238.4" r="4.3"/><circle cx="1497.0" cy="238.4" r="4.3"/><circle cx="1503.7" cy="238.4" r="4.3"/><circle cx="1510.4" cy="238.4" r="4.3"/><circle cx="1515.4" cy="238.4" r="4.3"/><circle cx="1476.9" cy="246.0" r="4.3"/><circle cx="1487.0" cy="246.0" r="4.3"/><circle cx="1498.7" cy="246.0" r="4.3"/><circle cx="1505.4" cy="246.0" r="4.3"/><circle cx="1513.8" cy="253.5" r="4.3"/><circle cx="1480.3" cy="252.7" r="4.3"/><circle cx="1503.7" cy="252.7" r="4.3"/><circle cx="1475.2" cy="261.0" r="4.3"/><circle cx="1481.9" cy="261.0" r="4.3"/><circle cx="1488.6" cy="261.0" r="4.3"/><circle cx="1495.3" cy="261.0" r="4.3"/><circle cx="1502.0" cy="261.0" r="4.3"/><circle cx="1508.7" cy="261.0" r="4.3"/><circle cx="1515.4" cy="261.0" r="4.3"/><circle cx="1475.2" cy="268.6" r="4.3"/><circle cx="1481.9" cy="268.6" r="4.3"/><circle cx="1488.6" cy="268.6" r="4.3"/><circle cx="1495.3" cy="268.6" r="4.3"/><circle cx="1503.7" cy="268.6" r="4.3"/><circle cx="1510.4" cy="268.6" r="4.3"/><circle cx="1500.4" cy="275.3" r="4.3"/><circle cx="1507.1" cy="275.3" r="4.3"/><circle cx="1512.1" cy="275.3" r="4.3"/><circle cx="1478.6" cy="283.6" r="4.3"/><circle cx="1485.3" cy="283.6" r="4.3"/><circle cx="1492.0" cy="283.6" r="4.3"/><circle cx="1500.4" cy="283.6" r="4.3"/><circle cx="1507.1" cy="283.6" r="4.3"/><circle cx="1515.4" cy="283.6" r="4.3"/><circle cx="1483.6" cy="290.3" r="4.3"/><circle cx="1490.3" cy="290.3" r="4.3"/><circle cx="1497.0" cy="290.3" r="4.3"/><circle cx="1507.1" cy="294.5" r="4.3"/><circle cx="1490.3" cy="297.0" r="4.3"/><circle cx="1486.1" cy="303.7" r="4.3"/><circle cx="1492.8" cy="307.9" r="4.3"/><circle cx="1495.3" cy="305.4" r="4.3"/><circle cx="1507.1" cy="305.4" r="4.3"/><circle cx="1481.9" cy="311.3" r="4.3"/><circle cx="1502.0" cy="315.4" r="4.3"/><circle cx="1497.0" cy="318.0" r="4.3"/><circle cx="1476.1" cy="321.7" r="4.3"/><circle cx="1487.0" cy="328.8" r="4.3"/><circle cx="1501.2" cy="327.2" r="4.3"/><circle cx="1485.3" cy="336.4" r="4.3"/><circle cx="1493.7" cy="334.7" r="4.3"/><circle cx="1498.7" cy="339.7" r="4.3"/><circle cx="1507.9" cy="337.2" r="4.3"/><circle cx="1503.7" cy="348.9" r="4.3"/><circle cx="1506.2" cy="350.6" r="4.3"/><circle cx="1478.6" cy="364.0" r="4.3"/><circle cx="1481.7" cy="383.7" r="4.3"/><circle cx="1511.5" cy="401.0" r="4.3"/></g>
<g fill="#e6202a"><circle cx="1290.6" cy="106.9" r="4.3"/><circle cx="1285.0" cy="133.4" r="4.3"/><circle cx="1283.6" cy="139.5" r="4.3"/><circle cx="1298.7" cy="145.6" r="4.3"/><circle cx="1282.8" cy="156.2" r="4.3"/><circle cx="1313.4" cy="156.2" r="4.3"/><circle cx="1299.8" cy="167.4" r="4.3"/><circle cx="1307.9" cy="174.4" r="4.3"/><circle cx="1305.9" cy="178.6" r="4.3"/><circle cx="1293.9" cy="185.5" r="4.3"/><circle cx="1292.5" cy="189.2" r="4.3"/><circle cx="1311.5" cy="191.7" r="4.3"/><circle cx="1307.0" cy="200.9" r="4.3"/><circle cx="1284.2" cy="208.7" r="4.3"/><circle cx="1299.8" cy="209.8" r="4.3"/><circle cx="1314.3" cy="209.3" r="4.3"/><circle cx="1305.1" cy="216.2" r="4.3"/><circle cx="1294.5" cy="218.2" r="4.3"/><circle cx="1313.4" cy="214.8" r="4.3"/><circle cx="1297.0" cy="229.4" r="4.3"/><circle cx="1311.5" cy="237.7" r="4.3"/><circle cx="1292.0" cy="269.3" r="4.3"/><circle cx="1284.7" cy="281.8" r="4.3"/><circle cx="1290.3" cy="290.2" r="4.3"/></g>
<g fill="#231f20"><circle cx="1378.2" cy="146.2" r="4.3"/><circle cx="1394.4" cy="178.6" r="4.3"/><circle cx="1387.4" cy="184.2" r="4.3"/><circle cx="1406.4" cy="177.7" r="4.3"/><circle cx="1390.7" cy="197.5" r="4.3"/><circle cx="1413.3" cy="196.7" r="4.3"/><circle cx="1415.8" cy="205.9" r="4.3"/><circle cx="1379.0" cy="217.6" r="4.3"/><circle cx="1387.4" cy="223.2" r="4.3"/><circle cx="1399.1" cy="214.8" r="4.3"/><circle cx="1409.7" cy="215.4" r="4.3"/><circle cx="1412.5" cy="226.0" r="4.3"/><circle cx="1405.5" cy="240.0" r="4.3"/><circle cx="1380.4" cy="241.4" r="4.3"/><circle cx="1386.0" cy="249.7" r="4.3"/><circle cx="1384.6" cy="253.3" r="4.3"/><circle cx="1377.6" cy="279.0" r="4.3"/><circle cx="1384.0" cy="279.0" r="4.3"/><circle cx="1391.6" cy="284.6" r="4.3"/><circle cx="1405.0" cy="277.6" r="4.3"/><circle cx="1381.2" cy="297.2" r="4.3"/><circle cx="1396.3" cy="299.1" r="4.3"/><circle cx="1381.8" cy="306.4" r="4.3"/><circle cx="1411.9" cy="308.3" r="4.3"/><circle cx="1414.7" cy="309.2" r="4.3"/><circle cx="1384.6" cy="334.3" r="4.3"/></g>
<rect x="1235.30" y="67.00" width="321.70" height="346.80" fill="none" stroke="#231f20" stroke-width="2.2"/>
<line x1="1227.0" y1="372.8" x2="1235.3" y2="372.8" stroke="#231f20" stroke-width="2.0" stroke-linecap="butt"/>
<text x="1215.8" y="372.8" font-size="13" text-anchor="middle" stroke="#231f20" stroke-width="0.3" transform="rotate(-90 1215.8 372.8)">5</text>
<line x1="1227.0" y1="318.6" x2="1235.3" y2="318.6" stroke="#231f20" stroke-width="2.0" stroke-linecap="butt"/>
<text x="1215.8" y="318.6" font-size="13" text-anchor="middle" stroke="#231f20" stroke-width="0.3" transform="rotate(-90 1215.8 318.6)">6</text>
<line x1="1227.0" y1="264.4" x2="1235.3" y2="264.4" stroke="#231f20" stroke-width="2.0" stroke-linecap="butt"/>
<text x="1215.8" y="264.4" font-size="13" text-anchor="middle" stroke="#231f20" stroke-width="0.3" transform="rotate(-90 1215.8 264.4)">7</text>
<line x1="1227.0" y1="210.3" x2="1235.3" y2="210.3" stroke="#231f20" stroke-width="2.0" stroke-linecap="butt"/>
<text x="1215.8" y="210.3" font-size="13" text-anchor="middle" stroke="#231f20" stroke-width="0.3" transform="rotate(-90 1215.8 210.3)">8</text>
<line x1="1227.0" y1="156.2" x2="1235.3" y2="156.2" stroke="#231f20" stroke-width="2.0" stroke-linecap="butt"/>
<text x="1215.8" y="156.2" font-size="13" text-anchor="middle" stroke="#231f20" stroke-width="0.3" transform="rotate(-90 1215.8 156.2)">9</text>
<line x1="1227.0" y1="102.0" x2="1235.3" y2="102.0" stroke="#231f20" stroke-width="2.0" stroke-linecap="butt"/>
<text x="1215.8" y="102.0" font-size="13" text-anchor="middle" stroke="#231f20" stroke-width="0.3" transform="rotate(-90 1215.8 102.0)">10</text>
<line x1="1297.0" y1="413.8" x2="1297.0" y2="422.7" stroke="#231f20" stroke-width="2.0" stroke-linecap="butt"/>
<line x1="1395.8" y1="413.8" x2="1395.8" y2="422.7" stroke="#231f20" stroke-width="2.0" stroke-linecap="butt"/>
<line x1="1495.0" y1="413.8" x2="1495.0" y2="422.7" stroke="#231f20" stroke-width="2.0" stroke-linecap="butt"/>
<text x="1239.5" y="450.7" font-size="17.5" stroke="#231f20" stroke-width="0.3" textLength="87.9" lengthAdjust="spacingAndGlyphs">Methylated/</text>
<text x="1224.0" y="470.7" font-size="17.5" stroke="#231f20" stroke-width="0.3" textLength="120.0" lengthAdjust="spacingAndGlyphs">Down-regulated</text>
<text x="1366.5" y="450.7" font-size="17.5" stroke="#231f20" stroke-width="0.3" textLength="86.5" lengthAdjust="spacingAndGlyphs">Methylated/</text>
<text x="1355.0" y="470.7" font-size="17.5" stroke="#231f20" stroke-width="0.3" textLength="109.0" lengthAdjust="spacingAndGlyphs">NOT-Downreg</text>
<text x="1479.5" y="450.7" font-size="17.5" stroke="#231f20" stroke-width="0.3" textLength="39.9" lengthAdjust="spacingAndGlyphs">None</text>
<text x="1192.5" y="347.0" font-size="21" stroke="#231f20" stroke-width="0.3" textLength="200.0" lengthAdjust="spacingAndGlyphs" transform="rotate(-90 1192.5 347.0)"><tspan font-weight="bold">ZEB2</tspan> [log2(RSEM)]</text>
<text x="1806.9" y="50.7" font-size="29.5" font-weight="bold" textLength="132.6" lengthAdjust="spacingAndGlyphs">miR-200b</text>
<line x1="1776.9" y1="108.4" x2="1776.9" y2="162.8" stroke="#231f20" stroke-width="2.0" stroke-linecap="butt" stroke-dasharray="9,7"/>
<line x1="1776.9" y1="218.6" x2="1776.9" y2="288.3" stroke="#231f20" stroke-width="2.0" stroke-linecap="butt" stroke-dasharray="9,7"/>
<line x1="1755.9" y1="108.4" x2="1797.9" y2="108.4" stroke="#231f20" stroke-width="2.0" stroke-linecap="butt"/>
<line x1="1755.9" y1="288.3" x2="1797.9" y2="288.3" stroke="#231f20" stroke-width="2.0" stroke-linecap="butt"/>
<rect x="1735.45" y="162.80" width="82.90" height="55.80" fill="white" stroke="#231f20" stroke-width="2.0"/>
<line x1="1735.5" y1="192.7" x2="1818.4" y2="192.7" stroke="#231f20" stroke-width="5.5" stroke-linecap="butt"/>
<line x1="1879.3" y1="173.6" x2="1879.3" y2="215.4" stroke="#231f20" stroke-width="2.0" stroke-linecap="butt" stroke-dasharray="9,7"/>
<line x1="1879.3" y1="280.9" x2="1879.3" y2="331.8" stroke="#231f20" stroke-width="2.0" stroke-linecap="butt" stroke-dasharray="9,7"/>
<line x1="1858.2" y1="173.6" x2="1900.4" y2="173.6" stroke="#231f20" stroke-width="2.0" stroke-linecap="butt"/>
<line x1="1858.2" y1="331.8" x2="1900.4" y2="331.8" stroke="#231f20" stroke-width="2.0" stroke-linecap="butt"/>
<rect x="1838.20" y="215.40" width="82.20" height="65.50" fill="white" stroke="#231f20" stroke-width="2.0"/>
<line x1="1838.2" y1="237.9" x2="1920.4" y2="237.9" stroke="#231f20" stroke-width="5.5" stroke-linecap="butt"/>
<line x1="1981.8" y1="82.0" x2="1981.8" y2="195.2" stroke="#231f20" stroke-width="2.0" stroke-linecap="butt" stroke-dasharray="9,7"/>
<line x1="1981.8" y1="276.6" x2="1981.8" y2="397.6" stroke="#231f20" stroke-width="2.0" stroke-linecap="butt" stroke-dasharray="9,7"/>
<line x1="1960.8" y1="82.0" x2="2002.8" y2="82.0" stroke="#231f20" stroke-width="2.0" stroke-linecap="butt"/>
<line x1="1960.8" y1="397.6" x2="2002.8" y2="397.6" stroke="#231f20" stroke-width="2.0" stroke-linecap="butt"/>
<rect x="1940.60" y="195.20" width="82.30" height="81.40" fill="white" stroke="#231f20" stroke-width="2.0"/>
<line x1="1940.6" y1="239.0" x2="2022.9" y2="239.0" stroke="#231f20" stroke-width="5.5" stroke-linecap="butt"/>
<g fill="#939598"><circle cx="1992.5" cy="82.1" r="4.3"/><circle cx="1999.2" cy="83.4" r="4.3"/><circle cx="1993.3" cy="118.1" r="4.3"/><circle cx="1998.8" cy="122.3" r="4.3"/><circle cx="1997.1" cy="125.7" r="4.3"/><circle cx="1972.8" cy="126.8" r="4.3"/><circle cx="1970.3" cy="138.2" r="4.3"/><circle cx="1964.4" cy="143.2" r="4.3"/><circle cx="1979.1" cy="139.1" r="4.3"/><circle cx="1989.1" cy="142.8" r="4.3"/><circle cx="1964.0" cy="152.9" r="4.3"/><circle cx="1972.0" cy="155.4" r="4.3"/><circle cx="1970.3" cy="160.0" r="4.3"/><circle cx="1977.0" cy="157.1" r="4.3"/><circle cx="1982.8" cy="149.5" r="4.3"/><circle cx="1988.7" cy="156.2" r="4.3"/><circle cx="1990.4" cy="160.4" r="4.3"/><circle cx="1978.7" cy="162.9" r="4.3"/><circle cx="1961.5" cy="164.6" r="4.3"/><circle cx="2001.3" cy="161.2" r="4.3"/><circle cx="2000.4" cy="167.9" r="4.3"/><circle cx="1989.5" cy="167.1" r="4.3"/><circle cx="1984.5" cy="173.0" r="4.3"/><circle cx="1983.7" cy="178.8" r="4.3"/><circle cx="1970.3" cy="183.8" r="4.3"/><circle cx="1977.0" cy="183.0" r="4.3"/><circle cx="1983.7" cy="183.8" r="4.3"/><circle cx="1997.1" cy="183.0" r="4.3"/><circle cx="1998.8" cy="188.9" r="4.3"/><circle cx="1961.1" cy="188.9" r="4.3"/><circle cx="1990.4" cy="187.2" r="4.3"/><circle cx="1966.9" cy="193.9" r="4.3"/><circle cx="1973.6" cy="193.0" r="4.3"/><circle cx="1980.3" cy="193.0" r="4.3"/><circle cx="1988.7" cy="193.9" r="4.3"/><circle cx="1998.8" cy="193.9" r="4.3"/><circle cx="1961.9" cy="200.6" r="4.3"/><circle cx="1968.6" cy="200.6" r="4.3"/><circle cx="1982.0" cy="200.6" r="4.3"/><circle cx="1988.7" cy="198.9" r="4.3"/><circle cx="1993.7" cy="203.9" r="4.3"/><circle cx="2000.4" cy="208.1" r="4.3"/><circle cx="1962.8" cy="207.3" r="4.3"/><circle cx="1970.3" cy="206.4" r="4.3"/><circle cx="1977.0" cy="207.3" r="4.3"/><circle cx="1985.4" cy="208.1" r="4.3"/><circle cx="1992.1" cy="209.0" r="4.3"/><circle cx="1961.9" cy="214.0" r="4.3"/><circle cx="1968.6" cy="214.0" r="4.3"/><circle cx="1975.3" cy="215.6" r="4.3"/><circle cx="1988.7" cy="214.0" r="4.3"/><circle cx="1993.7" cy="212.3" r="4.3"/><circle cx="1965.3" cy="219.8" r="4.3"/><circle cx="1972.0" cy="219.8" r="4.3"/><circle cx="1980.3" cy="219.8" r="4.3"/><circle cx="1988.7" cy="219.8" r="4.3"/><circle cx="1998.8" cy="219.8" r="4.3"/><circle cx="1963.6" cy="217.5" r="4.3"/><circle cx="1970.3" cy="217.5" r="4.3"/><circle cx="1977.0" cy="217.5" r="4.3"/><circle cx="1983.7" cy="217.5" r="4.3"/><circle cx="1990.4" cy="217.5" r="4.3"/><circle cx="1997.1" cy="217.5" r="4.3"/><circle cx="1963.6" cy="223.4" r="4.3"/><circle cx="1970.3" cy="223.4" r="4.3"/><circle cx="1977.0" cy="223.4" r="4.3"/><circle cx="1983.7" cy="223.4" r="4.3"/><circle cx="1998.8" cy="223.4" r="4.3"/><circle cx="2001.3" cy="223.4" r="4.3"/><circle cx="1982.0" cy="230.1" r="4.3"/><circle cx="1990.4" cy="230.1" r="4.3"/><circle cx="1997.1" cy="230.1" r="4.3"/><circle cx="2001.3" cy="230.1" r="4.3"/><circle cx="1961.9" cy="236.8" r="4.3"/><circle cx="1983.7" cy="236.8" r="4.3"/><circle cx="1990.4" cy="236.8" r="4.3"/><circle cx="1997.1" cy="236.8" r="4.3"/><circle cx="2001.3" cy="236.8" r="4.3"/><circle cx="1968.6" cy="242.6" r="4.3"/><circle cx="1975.3" cy="242.6" r="4.3"/><circle cx="1982.0" cy="242.6" r="4.3"/><circle cx="1988.7" cy="242.6" r="4.3"/><circle cx="1995.4" cy="242.6" r="4.3"/><circle cx="1965.3" cy="248.5" r="4.3"/><circle cx="1972.0" cy="248.5" r="4.3"/><circle cx="1978.7" cy="248.5" r="4.3"/><circle cx="1990.4" cy="248.5" r="4.3"/><circle cx="1965.3" cy="255.2" r="4.3"/><circle cx="1972.0" cy="255.2" r="4.3"/><circle cx="1978.7" cy="255.2" r="4.3"/><circle cx="1963.6" cy="261.9" r="4.3"/><circle cx="1970.3" cy="261.9" r="4.3"/><circle cx="1977.0" cy="261.9" r="4.3"/><circle cx="1993.7" cy="261.9" r="4.3"/><circle cx="1997.1" cy="261.9" r="4.3"/><circle cx="1963.6" cy="268.6" r="4.3"/><circle cx="1970.3" cy="268.6" r="4.3"/><circle cx="1977.0" cy="268.6" r="4.3"/><circle cx="1983.7" cy="268.6" r="4.3"/><circle cx="1997.1" cy="268.6" r="4.3"/><circle cx="1998.8" cy="268.6" r="4.3"/><circle cx="1963.6" cy="273.6" r="4.3"/><circle cx="1970.3" cy="273.6" r="4.3"/><circle cx="1980.3" cy="273.6" r="4.3"/><circle cx="1973.6" cy="279.5" r="4.3"/><circle cx="1982.0" cy="279.5" r="4.3"/><circle cx="1988.7" cy="279.5" r="4.3"/><circle cx="1995.4" cy="279.5" r="4.3"/><circle cx="1962.8" cy="284.5" r="4.3"/><circle cx="1968.6" cy="284.5" r="4.3"/><circle cx="1982.0" cy="284.5" r="4.3"/><circle cx="1988.7" cy="284.5" r="4.3"/><circle cx="1995.4" cy="284.5" r="4.3"/><circle cx="2000.4" cy="284.5" r="4.3"/><circle cx="1961.9" cy="290.3" r="4.3"/><circle cx="1975.3" cy="290.3" r="4.3"/><circle cx="1987.0" cy="290.3" r="4.3"/><circle cx="1993.7" cy="290.3" r="4.3"/><circle cx="1998.8" cy="290.3" r="4.3"/><circle cx="1988.7" cy="294.5" r="4.3"/><circle cx="1995.4" cy="294.5" r="4.3"/><circle cx="1999.6" cy="294.5" r="4.3"/><circle cx="1974.5" cy="302.9" r="4.3"/><circle cx="1988.7" cy="302.9" r="4.3"/><circle cx="1993.7" cy="302.9" r="4.3"/><circle cx="1998.8" cy="302.9" r="4.3"/><circle cx="1966.9" cy="308.8" r="4.3"/><circle cx="1975.3" cy="308.8" r="4.3"/><circle cx="1987.9" cy="308.8" r="4.3"/><circle cx="1997.1" cy="308.8" r="4.3"/><circle cx="1973.6" cy="315.4" r="4.3"/><circle cx="1988.7" cy="315.4" r="4.3"/><circle cx="1993.7" cy="315.4" r="4.3"/><circle cx="1973.6" cy="321.3" r="4.3"/><circle cx="1980.3" cy="321.3" r="4.3"/><circle cx="1975.3" cy="326.3" r="4.3"/><circle cx="1982.0" cy="326.3" r="4.3"/><circle cx="1988.7" cy="326.3" r="4.3"/><circle cx="1995.4" cy="326.3" r="4.3"/><circle cx="1986.2" cy="332.2" r="4.3"/><circle cx="1988.7" cy="332.2" r="4.3"/><circle cx="1967.8" cy="334.7" r="4.3"/><circle cx="1972.0" cy="334.7" r="4.3"/><circle cx="1999.6" cy="338.9" r="4.3"/><circle cx="1963.6" cy="347.3" r="4.3"/><circle cx="1978.7" cy="347.3" r="4.3"/><circle cx="1984.5" cy="347.3" r="4.3"/><circle cx="1964.4" cy="361.5" r="4.3"/><circle cx="1968.0" cy="380.8" r="4.3"/><circle cx="1981.3" cy="397.6" r="4.3"/></g>
<g fill="#e6202a"><circle cx="1776.4" cy="108.7" r="4.3"/><circle cx="1759.9" cy="141.2" r="4.3"/><circle cx="1788.7" cy="136.0" r="4.3"/><circle cx="1767.9" cy="146.6" r="4.3"/><circle cx="1784.4" cy="147.4" r="4.3"/><circle cx="1763.6" cy="157.1" r="4.3"/><circle cx="1797.2" cy="157.1" r="4.3"/><circle cx="1776.4" cy="168.5" r="4.3"/><circle cx="1773.0" cy="178.4" r="4.3"/><circle cx="1785.0" cy="179.9" r="4.3"/><circle cx="1767.9" cy="187.8" r="4.3"/><circle cx="1795.5" cy="185.0" r="4.3"/><circle cx="1789.2" cy="190.7" r="4.3"/><circle cx="1786.4" cy="193.5" r="4.3"/><circle cx="1777.3" cy="201.2" r="4.3"/><circle cx="1765.0" cy="212.0" r="4.3"/><circle cx="1772.1" cy="209.2" r="4.3"/><circle cx="1763.6" cy="215.7" r="4.3"/><circle cx="1794.3" cy="215.4" r="4.3"/><circle cx="1773.6" cy="221.1" r="4.3"/><circle cx="1769.3" cy="229.1" r="4.3"/><circle cx="1785.0" cy="236.8" r="4.3"/><circle cx="1796.9" cy="241.9" r="4.3"/><circle cx="1786.4" cy="251.6" r="4.3"/><circle cx="1767.9" cy="280.3" r="4.3"/><circle cx="1781.0" cy="288.3" r="4.3"/></g>
<g fill="#231f20"><circle cx="1894.0" cy="173.6" r="4.3"/><circle cx="1886.0" cy="180.2" r="4.3"/><circle cx="1863.8" cy="186.7" r="4.3"/><circle cx="1889.7" cy="196.9" r="4.3"/><circle cx="1886.0" cy="205.5" r="4.3"/><circle cx="1867.5" cy="216.9" r="4.3"/><circle cx="1877.4" cy="216.9" r="4.3"/><circle cx="1886.0" cy="215.7" r="4.3"/><circle cx="1898.8" cy="215.4" r="4.3"/><circle cx="1892.5" cy="216.3" r="4.3"/><circle cx="1898.8" cy="222.8" r="4.3"/><circle cx="1876.6" cy="225.7" r="4.3"/><circle cx="1862.6" cy="237.9" r="4.3"/><circle cx="1878.3" cy="249.3" r="4.3"/><circle cx="1891.7" cy="268.1" r="4.3"/><circle cx="1865.2" cy="278.9" r="4.3"/><circle cx="1871.8" cy="276.1" r="4.3"/><circle cx="1878.9" cy="282.6" r="4.3"/><circle cx="1883.1" cy="284.6" r="4.3"/><circle cx="1876.0" cy="296.8" r="4.3"/><circle cx="1886.0" cy="296.6" r="4.3"/><circle cx="1880.3" cy="305.1" r="4.3"/><circle cx="1896.8" cy="307.4" r="4.3"/><circle cx="1864.6" cy="332.1" r="4.3"/></g>
<rect x="1713.20" y="69.20" width="331.60" height="341.20" fill="none" stroke="#231f20" stroke-width="2.2"/>
<line x1="1705.3" y1="369.9" x2="1713.2" y2="369.9" stroke="#231f20" stroke-width="2.0" stroke-linecap="butt"/>
<text x="1694.5" y="369.9" font-size="13" text-anchor="middle" stroke="#231f20" stroke-width="0.3" transform="rotate(-90 1694.5 369.9)">5</text>
<line x1="1705.3" y1="316.7" x2="1713.2" y2="316.7" stroke="#231f20" stroke-width="2.0" stroke-linecap="butt"/>
<text x="1694.5" y="316.7" font-size="13" text-anchor="middle" stroke="#231f20" stroke-width="0.3" transform="rotate(-90 1694.5 316.7)">6</text>
<line x1="1705.3" y1="263.5" x2="1713.2" y2="263.5" stroke="#231f20" stroke-width="2.0" stroke-linecap="butt"/>
<text x="1694.5" y="263.5" font-size="13" text-anchor="middle" stroke="#231f20" stroke-width="0.3" transform="rotate(-90 1694.5 263.5)">7</text>
<line x1="1705.3" y1="210.3" x2="1713.2" y2="210.3" stroke="#231f20" stroke-width="2.0" stroke-linecap="butt"/>
<text x="1694.5" y="210.3" font-size="13" text-anchor="middle" stroke="#231f20" stroke-width="0.3" transform="rotate(-90 1694.5 210.3)">8</text>
<line x1="1705.3" y1="157.1" x2="1713.2" y2="157.1" stroke="#231f20" stroke-width="2.0" stroke-linecap="butt"/>
<text x="1694.5" y="157.1" font-size="13" text-anchor="middle" stroke="#231f20" stroke-width="0.3" transform="rotate(-90 1694.5 157.1)">9</text>
<line x1="1705.3" y1="103.9" x2="1713.2" y2="103.9" stroke="#231f20" stroke-width="2.0" stroke-linecap="butt"/>
<text x="1694.5" y="103.9" font-size="13" text-anchor="middle" stroke="#231f20" stroke-width="0.3" transform="rotate(-90 1694.5 103.9)">10</text>
<line x1="1776.4" y1="410.4" x2="1776.4" y2="419.0" stroke="#231f20" stroke-width="2.0" stroke-linecap="butt"/>
<line x1="1879.4" y1="410.4" x2="1879.4" y2="419.0" stroke="#231f20" stroke-width="2.0" stroke-linecap="butt"/>
<line x1="1981.9" y1="410.4" x2="1981.9" y2="419.0" stroke="#231f20" stroke-width="2.0" stroke-linecap="butt"/>
<text x="1721.5" y="441.8" font-size="17.5" stroke="#231f20" stroke-width="0.3" textLength="87.1" lengthAdjust="spacingAndGlyphs">Methylated/</text>
<text x="1705.3" y="461.8" font-size="17.5" stroke="#231f20" stroke-width="0.3" textLength="119.5" lengthAdjust="spacingAndGlyphs">Down-regulated</text>
<text x="1847.6" y="441.8" font-size="17.5" stroke="#231f20" stroke-width="0.3" textLength="86.8" lengthAdjust="spacingAndGlyphs">Methylated/</text>
<text x="1836.2" y="461.8" font-size="17.5" stroke="#231f20" stroke-width="0.3" textLength="109.6" lengthAdjust="spacingAndGlyphs">NOT-Downreg</text>
<text x="1960.5" y="441.8" font-size="17.5" stroke="#231f20" stroke-width="0.3" textLength="40.2" lengthAdjust="spacingAndGlyphs">None</text>
<text x="1674.0" y="340.0" font-size="21" stroke="#231f20" stroke-width="0.3" textLength="200.5" lengthAdjust="spacingAndGlyphs" transform="rotate(-90 1674.0 340.0)"><tspan font-weight="bold">ZEB2</tspan> [log2(RSEM)]</text>
<text x="5.8" y="599.2" font-size="52" font-weight="bold">c</text>
<text x="236.5" y="627.7" font-size="29.5" font-weight="bold" textLength="130.5" lengthAdjust="spacingAndGlyphs">miR-200a</text>
<line x1="209.5" y1="660.0" x2="209.5" y2="769.5" stroke="#231f20" stroke-width="1.9" stroke-linecap="butt" stroke-dasharray="12,10"/>
<line x1="209.5" y1="863.8" x2="209.5" y2="981.4" stroke="#231f20" stroke-width="1.9" stroke-linecap="butt" stroke-dasharray="12,10"/>
<line x1="175.6" y1="660.0" x2="243.4" y2="660.0" stroke="#231f20" stroke-width="1.9" stroke-linecap="butt"/>
<line x1="175.6" y1="981.4" x2="243.4" y2="981.4" stroke="#231f20" stroke-width="1.9" stroke-linecap="butt"/>
<rect x="142.50" y="769.50" width="134.00" height="94.30" fill="white" stroke="#231f20" stroke-width="1.9"/>
<line x1="142.5" y1="809.6" x2="276.5" y2="809.6" stroke="#231f20" stroke-width="6" stroke-linecap="butt"/>
<line x1="377.0" y1="695.2" x2="377.0" y2="739.3" stroke="#231f20" stroke-width="1.9" stroke-linecap="butt" stroke-dasharray="12,10"/>
<line x1="377.0" y1="809.0" x2="377.0" y2="858.9" stroke="#231f20" stroke-width="1.9" stroke-linecap="butt" stroke-dasharray="12,10"/>
<line x1="343.3" y1="695.2" x2="410.7" y2="695.2" stroke="#231f20" stroke-width="1.9" stroke-linecap="butt"/>
<line x1="343.3" y1="858.9" x2="410.7" y2="858.9" stroke="#231f20" stroke-width="1.9" stroke-linecap="butt"/>
<rect x="310.00" y="739.30" width="134.00" height="69.70" fill="white" stroke="#231f20" stroke-width="1.9"/>
<line x1="310.0" y1="772.7" x2="444.0" y2="772.7" stroke="#231f20" stroke-width="6" stroke-linecap="butt"/>
<g fill="#808080"></g>
<g fill="#808080"><circle cx="190.0" cy="660.1" r="6.5"/><circle cx="197.5" cy="679.2" r="6.5"/><circle cx="214.9" cy="683.2" r="6.5"/><circle cx="228.9" cy="680.7" r="6.5"/><circle cx="176.9" cy="697.0" r="6.5"/><circle cx="231.7" cy="700.8" r="6.5"/><circle cx="190.0" cy="708.3" r="6.5"/><circle cx="209.9" cy="714.8" r="6.5"/><circle cx="209.4" cy="720.4" r="6.5"/><circle cx="210.4" cy="726.4" r="6.5"/><circle cx="216.4" cy="724.9" r="6.5"/><circle cx="217.4" cy="728.4" r="6.5"/><circle cx="209.4" cy="732.4" r="6.5"/><circle cx="210.4" cy="738.4" r="6.5"/><circle cx="212.4" cy="744.5" r="6.5"/><circle cx="214.4" cy="749.5" r="6.5"/><circle cx="188.3" cy="734.9" r="6.5"/><circle cx="195.3" cy="738.9" r="6.5"/><circle cx="192.3" cy="750.5" r="6.5"/><circle cx="200.3" cy="752.5" r="6.5"/><circle cx="202.3" cy="757.5" r="6.5"/><circle cx="179.2" cy="749.0" r="6.5"/><circle cx="179.2" cy="754.5" r="6.5"/><circle cx="220.9" cy="740.9" r="6.5"/><circle cx="222.4" cy="746.5" r="6.5"/><circle cx="230.4" cy="751.5" r="6.5"/><circle cx="231.5" cy="755.5" r="6.5"/><circle cx="239.5" cy="760.5" r="6.5"/><circle cx="240.5" cy="766.6" r="6.5"/><circle cx="230.4" cy="760.5" r="6.5"/><circle cx="177.2" cy="767.6" r="6.5"/><circle cx="184.2" cy="768.6" r="6.5"/><circle cx="190.3" cy="768.6" r="6.5"/><circle cx="196.3" cy="766.6" r="6.5"/><circle cx="202.3" cy="764.6" r="6.5"/><circle cx="208.3" cy="763.5" r="6.5"/><circle cx="214.4" cy="763.5" r="6.5"/><circle cx="220.4" cy="764.6" r="6.5"/><circle cx="226.4" cy="763.5" r="6.5"/><circle cx="234.5" cy="765.6" r="6.5"/><circle cx="241.5" cy="770.6" r="6.5"/><circle cx="176.2" cy="774.6" r="6.5"/><circle cx="182.2" cy="776.6" r="6.5"/><circle cx="188.3" cy="776.6" r="6.5"/><circle cx="194.3" cy="774.6" r="6.5"/><circle cx="200.3" cy="773.6" r="6.5"/><circle cx="206.3" cy="772.6" r="6.5"/><circle cx="224.4" cy="772.6" r="6.5"/><circle cx="230.4" cy="773.6" r="6.5"/><circle cx="236.5" cy="774.6" r="6.5"/><circle cx="178.2" cy="782.6" r="6.5"/><circle cx="184.2" cy="783.6" r="6.5"/><circle cx="192.3" cy="782.6" r="6.5"/><circle cx="198.3" cy="782.6" r="6.5"/><circle cx="204.3" cy="780.6" r="6.5"/><circle cx="212.4" cy="781.6" r="6.5"/><circle cx="218.4" cy="785.6" r="6.5"/><circle cx="226.4" cy="780.6" r="6.5"/><circle cx="232.5" cy="780.6" r="6.5"/><circle cx="236.5" cy="782.6" r="6.5"/><circle cx="180.2" cy="790.7" r="6.5"/><circle cx="186.2" cy="792.7" r="6.5"/><circle cx="202.3" cy="790.7" r="6.5"/><circle cx="210.4" cy="789.7" r="6.5"/><circle cx="216.4" cy="792.7" r="6.5"/><circle cx="224.4" cy="790.7" r="6.5"/><circle cx="230.4" cy="788.7" r="6.5"/><circle cx="178.2" cy="798.7" r="6.5"/><circle cx="186.2" cy="800.7" r="6.5"/><circle cx="208.3" cy="798.7" r="6.5"/><circle cx="214.4" cy="798.7" r="6.5"/><circle cx="220.4" cy="800.7" r="6.5"/><circle cx="226.4" cy="798.7" r="6.5"/><circle cx="233.5" cy="800.7" r="6.5"/><circle cx="239.5" cy="805.7" r="6.5"/><circle cx="242.5" cy="809.8" r="6.5"/><circle cx="180.2" cy="808.8" r="6.5"/><circle cx="186.2" cy="810.8" r="6.5"/><circle cx="192.3" cy="810.8" r="6.5"/><circle cx="204.3" cy="810.8" r="6.5"/><circle cx="210.4" cy="810.8" r="6.5"/><circle cx="216.4" cy="810.8" r="6.5"/><circle cx="222.4" cy="810.8" r="6.5"/><circle cx="228.4" cy="810.8" r="6.5"/><circle cx="234.5" cy="810.8" r="6.5"/><circle cx="178.2" cy="816.0" r="6.5"/><circle cx="190.3" cy="817.0" r="6.5"/><circle cx="206.3" cy="815.0" r="6.5"/><circle cx="214.4" cy="814.0" r="6.5"/><circle cx="222.4" cy="816.0" r="6.5"/><circle cx="229.4" cy="822.1" r="6.5"/><circle cx="242.5" cy="812.0" r="6.5"/><circle cx="180.2" cy="834.1" r="6.5"/><circle cx="186.2" cy="840.1" r="6.5"/><circle cx="183.2" cy="843.1" r="6.5"/><circle cx="199.3" cy="830.1" r="6.5"/><circle cx="206.3" cy="828.1" r="6.5"/><circle cx="213.4" cy="835.1" r="6.5"/><circle cx="198.3" cy="840.1" r="6.5"/><circle cx="204.3" cy="836.1" r="6.5"/><circle cx="226.4" cy="839.1" r="6.5"/><circle cx="224.4" cy="846.2" r="6.5"/><circle cx="241.0" cy="836.6" r="6.5"/><circle cx="196.3" cy="848.2" r="6.5"/><circle cx="202.3" cy="850.2" r="6.5"/><circle cx="210.4" cy="850.2" r="6.5"/><circle cx="218.4" cy="849.2" r="6.5"/><circle cx="222.4" cy="852.2" r="6.5"/><circle cx="182.2" cy="862.2" r="6.5"/><circle cx="190.3" cy="864.2" r="6.5"/><circle cx="198.3" cy="862.2" r="6.5"/><circle cx="206.3" cy="860.2" r="6.5"/><circle cx="216.4" cy="862.2" r="6.5"/><circle cx="224.4" cy="862.2" r="6.5"/><circle cx="232.5" cy="864.2" r="6.5"/><circle cx="241.5" cy="866.2" r="6.5"/><circle cx="182.2" cy="870.3" r="6.5"/><circle cx="190.3" cy="869.3" r="6.5"/><circle cx="200.3" cy="870.3" r="6.5"/><circle cx="208.3" cy="872.3" r="6.5"/><circle cx="218.4" cy="874.3" r="6.5"/><circle cx="236.5" cy="872.3" r="6.5"/><circle cx="199.3" cy="880.3" r="6.5"/><circle cx="212.4" cy="879.3" r="6.5"/><circle cx="181.2" cy="882.3" r="6.5"/><circle cx="230.4" cy="882.3" r="6.5"/><circle cx="186.2" cy="890.4" r="6.5"/><circle cx="205.3" cy="894.4" r="6.5"/><circle cx="218.4" cy="892.4" r="6.5"/><circle cx="230.4" cy="890.4" r="6.5"/><circle cx="233.5" cy="894.4" r="6.5"/><circle cx="178.2" cy="897.4" r="6.5"/><circle cx="186.2" cy="899.4" r="6.5"/><circle cx="194.3" cy="904.4" r="6.5"/><circle cx="215.4" cy="904.4" r="6.5"/><circle cx="222.4" cy="902.4" r="6.5"/><circle cx="231.5" cy="902.4" r="6.5"/><circle cx="225.4" cy="913.5" r="6.5"/><circle cx="243.0" cy="915.5" r="6.5"/><circle cx="204.3" cy="921.0" r="6.5"/><circle cx="229.4" cy="931.5" r="6.5"/><circle cx="235.5" cy="927.5" r="6.5"/><circle cx="240.0" cy="935.6" r="6.5"/><circle cx="198.3" cy="946.1" r="6.5"/><circle cx="208.9" cy="959.7" r="6.5"/><circle cx="213.4" cy="976.2" r="6.5"/><circle cx="191.8" cy="986.3" r="6.5"/></g>
<g fill="#e6202a"><circle cx="356.9" cy="695.5" r="6.5"/><circle cx="368.5" cy="721.9" r="6.5"/><circle cx="351.7" cy="728.3" r="6.5"/><circle cx="399.6" cy="731.8" r="6.5"/><circle cx="349.7" cy="739.9" r="6.5"/><circle cx="360.7" cy="750.7" r="6.5"/><circle cx="344.5" cy="774.7" r="6.5"/><circle cx="376.7" cy="773.3" r="6.5"/><circle cx="389.7" cy="768.9" r="6.5"/><circle cx="394.7" cy="776.2" r="6.5"/><circle cx="409.2" cy="771.0" r="6.5"/><circle cx="386.8" cy="788.4" r="6.5"/><circle cx="391.8" cy="810.1" r="6.5"/><circle cx="369.1" cy="829.3" r="6.5"/><circle cx="371.4" cy="837.1" r="6.5"/><circle cx="398.4" cy="845.8" r="6.5"/><circle cx="360.4" cy="859.5" r="6.5"/></g>
<rect x="113.20" y="647.00" width="361.30" height="347.40" fill="none" stroke="#231f20" stroke-width="2.2"/>
<line x1="97.2" y1="988.9" x2="113.2" y2="988.9" stroke="#231f20" stroke-width="2.0" stroke-linecap="butt"/>
<text x="76.4" y="988.9" font-size="25.5" text-anchor="middle" stroke="#231f20" stroke-width="0.3" transform="rotate(-90 76.4 988.9)">4</text>
<line x1="97.2" y1="937.2" x2="113.2" y2="937.2" stroke="#231f20" stroke-width="2.0" stroke-linecap="butt"/>
<text x="76.4" y="937.2" font-size="25.5" text-anchor="middle" stroke="#231f20" stroke-width="0.3" transform="rotate(-90 76.4 937.2)">5</text>
<line x1="97.2" y1="885.6" x2="113.2" y2="885.6" stroke="#231f20" stroke-width="2.0" stroke-linecap="butt"/>
<text x="76.4" y="885.6" font-size="25.5" text-anchor="middle" stroke="#231f20" stroke-width="0.3" transform="rotate(-90 76.4 885.6)">6</text>
<line x1="97.2" y1="834.0" x2="113.2" y2="834.0" stroke="#231f20" stroke-width="2.0" stroke-linecap="butt"/>
<text x="76.4" y="834.0" font-size="25.5" text-anchor="middle" stroke="#231f20" stroke-width="0.3" transform="rotate(-90 76.4 834.0)">7</text>
<line x1="97.2" y1="782.3" x2="113.2" y2="782.3" stroke="#231f20" stroke-width="2.0" stroke-linecap="butt"/>
<text x="76.4" y="782.3" font-size="25.5" text-anchor="middle" stroke="#231f20" stroke-width="0.3" transform="rotate(-90 76.4 782.3)">8</text>
<line x1="97.2" y1="730.6" x2="113.2" y2="730.6" stroke="#231f20" stroke-width="2.0" stroke-linecap="butt"/>
<text x="76.4" y="730.6" font-size="25.5" text-anchor="middle" stroke="#231f20" stroke-width="0.3" transform="rotate(-90 76.4 730.6)">9</text>
<line x1="97.2" y1="679.0" x2="113.2" y2="679.0" stroke="#231f20" stroke-width="2.0" stroke-linecap="butt"/>
<text x="76.4" y="679.0" font-size="25.5" text-anchor="middle" stroke="#231f20" stroke-width="0.3" transform="rotate(-90 76.4 679.0)">10</text>
<line x1="209.5" y1="994.4" x2="209.5" y2="1010.9" stroke="#231f20" stroke-width="2.2" stroke-linecap="butt"/>
<line x1="377.0" y1="994.4" x2="377.0" y2="1010.9" stroke="#231f20" stroke-width="2.2" stroke-linecap="butt"/>
<text x="318.6" y="971.5" font-size="21.5" stroke="#231f20" stroke-width="0.3" textLength="89.1" lengthAdjust="spacingAndGlyphs">p = 0.002</text>
<text x="190.0" y="1050.4" font-size="24.5" stroke="#231f20" stroke-width="0.3" textLength="39.0" lengthAdjust="spacingAndGlyphs">WT</text>
<text x="338.0" y="1050.4" font-size="24.5" stroke="#231f20" stroke-width="0.3" textLength="80.0" lengthAdjust="spacingAndGlyphs">Altered</text>
<text x="42.9" y="930.0" font-size="25" stroke="#231f20" stroke-width="0.3" textLength="225.0" lengthAdjust="spacingAndGlyphs" transform="rotate(-90 42.9 930.0)"><tspan font-weight="bold">ZEB1</tspan> [log2(RSEM)]</text>
<text x="778.5" y="627.7" font-size="29.5" font-weight="bold" textLength="131.5" lengthAdjust="spacingAndGlyphs">miR-200a</text>
<line x1="761.4" y1="660.1" x2="761.4" y2="775.3" stroke="#231f20" stroke-width="1.9" stroke-linecap="butt" stroke-dasharray="12,10"/>
<line x1="761.4" y1="859.8" x2="761.4" y2="981.6" stroke="#231f20" stroke-width="1.9" stroke-linecap="butt" stroke-dasharray="12,10"/>
<line x1="727.7" y1="660.1" x2="795.1" y2="660.1" stroke="#231f20" stroke-width="1.9" stroke-linecap="butt"/>
<line x1="727.7" y1="981.6" x2="795.1" y2="981.6" stroke="#231f20" stroke-width="1.9" stroke-linecap="butt"/>
<rect x="694.65" y="775.30" width="133.50" height="84.50" fill="white" stroke="#231f20" stroke-width="1.9"/>
<line x1="694.6" y1="816.0" x2="828.1" y2="816.0" stroke="#231f20" stroke-width="6" stroke-linecap="butt"/>
<line x1="928.5" y1="714.7" x2="928.5" y2="748.0" stroke="#231f20" stroke-width="1.9" stroke-linecap="butt" stroke-dasharray="12,10"/>
<line x1="928.5" y1="795.9" x2="928.5" y2="817.7" stroke="#231f20" stroke-width="1.9" stroke-linecap="butt" stroke-dasharray="12,10"/>
<line x1="894.7" y1="714.7" x2="962.3" y2="714.7" stroke="#231f20" stroke-width="1.9" stroke-linecap="butt"/>
<line x1="894.7" y1="817.7" x2="962.3" y2="817.7" stroke="#231f20" stroke-width="1.9" stroke-linecap="butt"/>
<rect x="861.45" y="748.00" width="134.10" height="47.90" fill="white" stroke="#231f20" stroke-width="1.9"/>
<line x1="861.5" y1="781.1" x2="995.5" y2="781.1" stroke="#231f20" stroke-width="6" stroke-linecap="butt"/>
<g fill="#808080"></g>
<g fill="#808080"><circle cx="741.3" cy="661.6" r="6.5"/><circle cx="743.3" cy="660.1" r="6.5"/><circle cx="761.2" cy="697.1" r="6.5"/><circle cx="780.3" cy="700.8" r="6.5"/><circle cx="728.2" cy="717.3" r="6.5"/><circle cx="792.5" cy="718.3" r="6.5"/><circle cx="733.3" cy="732.4" r="6.5"/><circle cx="734.3" cy="738.4" r="6.5"/><circle cx="736.3" cy="744.5" r="6.5"/><circle cx="742.3" cy="745.5" r="6.5"/><circle cx="744.3" cy="750.5" r="6.5"/><circle cx="759.4" cy="728.4" r="6.5"/><circle cx="762.4" cy="734.4" r="6.5"/><circle cx="771.4" cy="720.4" r="6.5"/><circle cx="772.4" cy="727.4" r="6.5"/><circle cx="782.5" cy="722.4" r="6.5"/><circle cx="790.5" cy="726.4" r="6.5"/><circle cx="768.4" cy="736.4" r="6.5"/><circle cx="775.5" cy="736.4" r="6.5"/><circle cx="766.4" cy="744.5" r="6.5"/><circle cx="772.4" cy="746.5" r="6.5"/><circle cx="778.5" cy="742.5" r="6.5"/><circle cx="782.5" cy="751.5" r="6.5"/><circle cx="761.4" cy="755.5" r="6.5"/><circle cx="770.4" cy="757.5" r="6.5"/><circle cx="778.5" cy="758.5" r="6.5"/><circle cx="784.5" cy="766.6" r="6.5"/><circle cx="738.3" cy="760.5" r="6.5"/><circle cx="746.3" cy="756.5" r="6.5"/><circle cx="750.3" cy="762.5" r="6.5"/><circle cx="736.3" cy="766.6" r="6.5"/><circle cx="744.3" cy="766.6" r="6.5"/><circle cx="752.4" cy="768.6" r="6.5"/><circle cx="758.4" cy="765.6" r="6.5"/><circle cx="766.4" cy="765.6" r="6.5"/><circle cx="772.4" cy="764.6" r="6.5"/><circle cx="728.2" cy="774.6" r="6.5"/><circle cx="738.3" cy="774.6" r="6.5"/><circle cx="748.3" cy="774.6" r="6.5"/><circle cx="758.4" cy="774.6" r="6.5"/><circle cx="768.4" cy="774.6" r="6.5"/><circle cx="778.5" cy="774.6" r="6.5"/><circle cx="726.2" cy="782.6" r="6.5"/><circle cx="735.3" cy="782.6" r="6.5"/><circle cx="745.3" cy="782.6" r="6.5"/><circle cx="755.4" cy="782.6" r="6.5"/><circle cx="765.4" cy="782.6" r="6.5"/><circle cx="775.5" cy="782.6" r="6.5"/><circle cx="787.5" cy="782.6" r="6.5"/><circle cx="731.3" cy="790.7" r="6.5"/><circle cx="741.3" cy="790.7" r="6.5"/><circle cx="751.4" cy="790.7" r="6.5"/><circle cx="761.4" cy="790.7" r="6.5"/><circle cx="771.4" cy="790.7" r="6.5"/><circle cx="782.5" cy="790.7" r="6.5"/><circle cx="727.2" cy="798.7" r="6.5"/><circle cx="736.3" cy="798.7" r="6.5"/><circle cx="746.3" cy="798.7" r="6.5"/><circle cx="756.4" cy="798.7" r="6.5"/><circle cx="766.4" cy="798.7" r="6.5"/><circle cx="776.5" cy="798.7" r="6.5"/><circle cx="788.5" cy="798.7" r="6.5"/><circle cx="732.3" cy="806.7" r="6.5"/><circle cx="742.3" cy="806.7" r="6.5"/><circle cx="752.4" cy="806.7" r="6.5"/><circle cx="762.4" cy="806.7" r="6.5"/><circle cx="772.4" cy="806.7" r="6.5"/><circle cx="782.5" cy="806.7" r="6.5"/><circle cx="792.5" cy="806.7" r="6.5"/><circle cx="729.3" cy="814.8" r="6.5"/><circle cx="738.3" cy="814.8" r="6.5"/><circle cx="748.3" cy="814.8" r="6.5"/><circle cx="758.4" cy="814.8" r="6.5"/><circle cx="768.4" cy="814.8" r="6.5"/><circle cx="778.5" cy="814.8" r="6.5"/><circle cx="794.5" cy="814.8" r="6.5"/><circle cx="732.3" cy="813.0" r="6.5"/><circle cx="742.3" cy="813.0" r="6.5"/><circle cx="752.4" cy="813.0" r="6.5"/><circle cx="762.4" cy="813.0" r="6.5"/><circle cx="772.4" cy="813.0" r="6.5"/><circle cx="782.5" cy="813.0" r="6.5"/><circle cx="793.5" cy="813.0" r="6.5"/><circle cx="729.3" cy="821.0" r="6.5"/><circle cx="738.3" cy="821.0" r="6.5"/><circle cx="762.4" cy="821.0" r="6.5"/><circle cx="771.4" cy="821.0" r="6.5"/><circle cx="783.5" cy="821.0" r="6.5"/><circle cx="730.3" cy="829.1" r="6.5"/><circle cx="740.3" cy="829.1" r="6.5"/><circle cx="760.4" cy="829.1" r="6.5"/><circle cx="769.4" cy="829.1" r="6.5"/><circle cx="782.5" cy="829.1" r="6.5"/><circle cx="734.3" cy="837.1" r="6.5"/><circle cx="744.3" cy="837.1" r="6.5"/><circle cx="756.4" cy="837.1" r="6.5"/><circle cx="766.4" cy="837.1" r="6.5"/><circle cx="780.5" cy="837.1" r="6.5"/><circle cx="732.3" cy="845.2" r="6.5"/><circle cx="742.3" cy="845.2" r="6.5"/><circle cx="755.4" cy="845.2" r="6.5"/><circle cx="765.4" cy="845.2" r="6.5"/><circle cx="782.5" cy="845.2" r="6.5"/><circle cx="792.5" cy="845.2" r="6.5"/><circle cx="732.3" cy="853.2" r="6.5"/><circle cx="742.3" cy="853.2" r="6.5"/><circle cx="759.4" cy="853.2" r="6.5"/><circle cx="769.4" cy="853.2" r="6.5"/><circle cx="787.5" cy="853.2" r="6.5"/><circle cx="762.4" cy="861.2" r="6.5"/><circle cx="772.4" cy="861.2" r="6.5"/><circle cx="783.5" cy="861.2" r="6.5"/><circle cx="794.5" cy="861.2" r="6.5"/><circle cx="731.3" cy="874.3" r="6.5"/><circle cx="748.3" cy="872.3" r="6.5"/><circle cx="754.4" cy="868.3" r="6.5"/><circle cx="762.4" cy="866.2" r="6.5"/><circle cx="770.4" cy="864.2" r="6.5"/><circle cx="775.5" cy="875.3" r="6.5"/><circle cx="782.5" cy="868.3" r="6.5"/><circle cx="794.5" cy="866.2" r="6.5"/><circle cx="746.3" cy="876.3" r="6.5"/><circle cx="758.4" cy="884.3" r="6.5"/><circle cx="762.4" cy="882.3" r="6.5"/><circle cx="738.3" cy="889.4" r="6.5"/><circle cx="744.3" cy="895.4" r="6.5"/><circle cx="776.5" cy="890.4" r="6.5"/><circle cx="782.5" cy="886.3" r="6.5"/><circle cx="787.5" cy="889.4" r="6.5"/><circle cx="760.4" cy="899.4" r="6.5"/><circle cx="764.4" cy="902.4" r="6.5"/><circle cx="754.4" cy="907.4" r="6.5"/><circle cx="735.3" cy="913.5" r="6.5"/><circle cx="742.3" cy="916.5" r="6.5"/><circle cx="764.4" cy="915.5" r="6.5"/><circle cx="736.3" cy="930.5" r="6.5"/><circle cx="751.4" cy="929.5" r="6.5"/><circle cx="749.8" cy="946.1" r="6.5"/><circle cx="733.3" cy="964.7" r="6.5"/><circle cx="791.5" cy="981.8" r="6.5"/></g>
<g fill="#e6202a"><circle cx="901.3" cy="713.8" r="6.5"/><circle cx="908.0" cy="721.1" r="6.5"/><circle cx="919.6" cy="726.3" r="6.5"/><circle cx="949.8" cy="736.4" r="6.5"/><circle cx="959.9" cy="748.0" r="6.5"/><circle cx="928.3" cy="759.4" r="6.5"/><circle cx="898.4" cy="767.5" r="6.5"/><circle cx="894.6" cy="771.8" r="6.5"/><circle cx="943.4" cy="780.5" r="6.5"/><circle cx="949.2" cy="789.3" r="6.5"/><circle cx="912.3" cy="791.3" r="6.5"/><circle cx="940.5" cy="792.2" r="6.5"/><circle cx="937.6" cy="796.5" r="6.5"/><circle cx="921.9" cy="809.0" r="6.5"/><circle cx="920.2" cy="816.8" r="6.5"/><circle cx="912.0" cy="870.5" r="6.5"/></g>
<rect x="664.80" y="647.00" width="360.70" height="347.40" fill="none" stroke="#231f20" stroke-width="2.2"/>
<line x1="649.7" y1="953.0" x2="664.8" y2="953.0" stroke="#231f20" stroke-width="2.0" stroke-linecap="butt"/>
<text x="628.0" y="953.0" font-size="25.5" text-anchor="middle" stroke="#231f20" stroke-width="0.3" transform="rotate(-90 628.0 953.0)">5</text>
<line x1="649.7" y1="898.9" x2="664.8" y2="898.9" stroke="#231f20" stroke-width="2.0" stroke-linecap="butt"/>
<text x="628.0" y="898.9" font-size="25.5" text-anchor="middle" stroke="#231f20" stroke-width="0.3" transform="rotate(-90 628.0 898.9)">6</text>
<line x1="649.7" y1="844.8" x2="664.8" y2="844.8" stroke="#231f20" stroke-width="2.0" stroke-linecap="butt"/>
<text x="628.0" y="844.8" font-size="25.5" text-anchor="middle" stroke="#231f20" stroke-width="0.3" transform="rotate(-90 628.0 844.8)">7</text>
<line x1="649.7" y1="790.7" x2="664.8" y2="790.7" stroke="#231f20" stroke-width="2.0" stroke-linecap="butt"/>
<text x="628.0" y="790.7" font-size="25.5" text-anchor="middle" stroke="#231f20" stroke-width="0.3" transform="rotate(-90 628.0 790.7)">8</text>
<line x1="649.7" y1="736.6" x2="664.8" y2="736.6" stroke="#231f20" stroke-width="2.0" stroke-linecap="butt"/>
<text x="628.0" y="736.6" font-size="25.5" text-anchor="middle" stroke="#231f20" stroke-width="0.3" transform="rotate(-90 628.0 736.6)">9</text>
<line x1="649.7" y1="682.5" x2="664.8" y2="682.5" stroke="#231f20" stroke-width="2.0" stroke-linecap="butt"/>
<text x="628.0" y="682.5" font-size="25.5" text-anchor="middle" stroke="#231f20" stroke-width="0.3" transform="rotate(-90 628.0 682.5)">10</text>
<line x1="761.4" y1="994.4" x2="761.4" y2="1010.9" stroke="#231f20" stroke-width="2.2" stroke-linecap="butt"/>
<line x1="928.5" y1="994.4" x2="928.5" y2="1010.9" stroke="#231f20" stroke-width="2.2" stroke-linecap="butt"/>
<text x="871.7" y="964.8" font-size="21.5" stroke="#231f20" stroke-width="0.3" textLength="100.1" lengthAdjust="spacingAndGlyphs">p = 0.0004</text>
<text x="743.0" y="1049.8" font-size="24.5" stroke="#231f20" stroke-width="0.3" textLength="36.4" lengthAdjust="spacingAndGlyphs">WT</text>
<text x="891.0" y="1049.8" font-size="24.5" stroke="#231f20" stroke-width="0.3" textLength="79.3" lengthAdjust="spacingAndGlyphs">Altered</text>
<text x="587.5" y="930.0" font-size="25" stroke="#231f20" stroke-width="0.3" textLength="225.0" lengthAdjust="spacingAndGlyphs" transform="rotate(-90 587.5 930.0)"><tspan font-weight="bold">ZEB2</tspan> [log2(RSEM)]</text>
<text x="1303.2" y="630.6" font-size="29.5" font-weight="bold" textLength="132.0" lengthAdjust="spacingAndGlyphs">miR-200b</text>
<line x1="1276.2" y1="663.0" x2="1276.2" y2="772.1" stroke="#231f20" stroke-width="1.9" stroke-linecap="butt" stroke-dasharray="12,10"/>
<line x1="1276.2" y1="865.6" x2="1276.2" y2="985.1" stroke="#231f20" stroke-width="1.9" stroke-linecap="butt" stroke-dasharray="12,10"/>
<line x1="1242.5" y1="663.0" x2="1309.9" y2="663.0" stroke="#231f20" stroke-width="1.9" stroke-linecap="butt"/>
<line x1="1242.5" y1="985.1" x2="1309.9" y2="985.1" stroke="#231f20" stroke-width="1.9" stroke-linecap="butt"/>
<rect x="1208.90" y="772.10" width="134.60" height="93.50" fill="white" stroke="#231f20" stroke-width="1.9"/>
<line x1="1208.9" y1="811.6" x2="1343.5" y2="811.6" stroke="#231f20" stroke-width="6" stroke-linecap="butt"/>
<line x1="1443.3" y1="698.7" x2="1443.3" y2="752.1" stroke="#231f20" stroke-width="1.9" stroke-linecap="butt" stroke-dasharray="12,10"/>
<line x1="1443.3" y1="811.3" x2="1443.3" y2="860.3" stroke="#231f20" stroke-width="1.9" stroke-linecap="butt" stroke-dasharray="12,10"/>
<line x1="1409.7" y1="698.7" x2="1477.0" y2="698.7" stroke="#231f20" stroke-width="1.9" stroke-linecap="butt"/>
<line x1="1409.7" y1="860.3" x2="1477.0" y2="860.3" stroke="#231f20" stroke-width="1.9" stroke-linecap="butt"/>
<rect x="1376.30" y="752.10" width="134.10" height="59.20" fill="white" stroke="#231f20" stroke-width="1.9"/>
<line x1="1376.3" y1="772.4" x2="1510.4" y2="772.4" stroke="#231f20" stroke-width="6" stroke-linecap="butt"/>
<g fill="#808080"></g>
<g fill="#808080"><circle cx="1255.1" cy="663.6" r="6.5"/><circle cx="1253.3" cy="684.2" r="6.5"/><circle cx="1258.3" cy="682.2" r="6.5"/><circle cx="1298.8" cy="686.4" r="6.5"/><circle cx="1270.4" cy="699.8" r="6.5"/><circle cx="1283.2" cy="704.3" r="6.5"/><circle cx="1281.9" cy="711.3" r="6.5"/><circle cx="1261.8" cy="718.9" r="6.5"/><circle cx="1270.4" cy="725.4" r="6.5"/><circle cx="1278.4" cy="725.4" r="6.5"/><circle cx="1297.5" cy="728.4" r="6.5"/><circle cx="1243.2" cy="732.4" r="6.5"/><circle cx="1299.5" cy="737.4" r="6.5"/><circle cx="1306.5" cy="746.5" r="6.5"/><circle cx="1251.3" cy="744.5" r="6.5"/><circle cx="1257.3" cy="740.4" r="6.5"/><circle cx="1269.4" cy="737.4" r="6.5"/><circle cx="1282.4" cy="742.5" r="6.5"/><circle cx="1265.3" cy="750.5" r="6.5"/><circle cx="1249.3" cy="755.5" r="6.5"/><circle cx="1275.4" cy="750.5" r="6.5"/><circle cx="1283.4" cy="750.5" r="6.5"/><circle cx="1290.5" cy="751.5" r="6.5"/><circle cx="1299.5" cy="760.5" r="6.5"/><circle cx="1246.3" cy="770.6" r="6.5"/><circle cx="1260.3" cy="765.6" r="6.5"/><circle cx="1275.4" cy="760.5" r="6.5"/><circle cx="1283.4" cy="760.5" r="6.5"/><circle cx="1291.5" cy="762.5" r="6.5"/><circle cx="1301.5" cy="768.6" r="6.5"/><circle cx="1306.5" cy="777.6" r="6.5"/><circle cx="1253.3" cy="775.6" r="6.5"/><circle cx="1261.3" cy="773.6" r="6.5"/><circle cx="1275.4" cy="770.6" r="6.5"/><circle cx="1283.4" cy="770.6" r="6.5"/><circle cx="1291.5" cy="772.6" r="6.5"/><circle cx="1298.5" cy="778.6" r="6.5"/><circle cx="1257.3" cy="782.6" r="6.5"/><circle cx="1265.3" cy="782.6" r="6.5"/><circle cx="1273.4" cy="782.6" r="6.5"/><circle cx="1248.3" cy="790.7" r="6.5"/><circle cx="1256.3" cy="790.7" r="6.5"/><circle cx="1264.3" cy="790.7" r="6.5"/><circle cx="1272.4" cy="790.7" r="6.5"/><circle cx="1298.5" cy="787.7" r="6.5"/><circle cx="1306.5" cy="792.7" r="6.5"/><circle cx="1257.3" cy="798.7" r="6.5"/><circle cx="1265.3" cy="798.7" r="6.5"/><circle cx="1286.4" cy="796.7" r="6.5"/><circle cx="1293.5" cy="802.7" r="6.5"/><circle cx="1300.5" cy="802.7" r="6.5"/><circle cx="1244.3" cy="805.7" r="6.5"/><circle cx="1251.3" cy="810.8" r="6.5"/><circle cx="1259.3" cy="810.8" r="6.5"/><circle cx="1267.4" cy="808.8" r="6.5"/><circle cx="1275.4" cy="810.8" r="6.5"/><circle cx="1283.4" cy="808.8" r="6.5"/><circle cx="1291.5" cy="810.8" r="6.5"/><circle cx="1299.5" cy="810.8" r="6.5"/><circle cx="1306.5" cy="810.8" r="6.5"/><circle cx="1243.2" cy="818.8" r="6.5"/><circle cx="1253.3" cy="818.8" r="6.5"/><circle cx="1263.3" cy="818.8" r="6.5"/><circle cx="1273.4" cy="818.8" r="6.5"/><circle cx="1283.4" cy="818.8" r="6.5"/><circle cx="1293.5" cy="818.8" r="6.5"/><circle cx="1303.5" cy="818.8" r="6.5"/><circle cx="1249.3" cy="812.0" r="6.5"/><circle cx="1257.3" cy="812.0" r="6.5"/><circle cx="1265.3" cy="812.0" r="6.5"/><circle cx="1273.4" cy="812.0" r="6.5"/><circle cx="1281.4" cy="812.0" r="6.5"/><circle cx="1289.5" cy="812.0" r="6.5"/><circle cx="1297.5" cy="812.0" r="6.5"/><circle cx="1305.5" cy="812.0" r="6.5"/><circle cx="1244.3" cy="819.0" r="6.5"/><circle cx="1267.4" cy="819.0" r="6.5"/><circle cx="1274.4" cy="819.0" r="6.5"/><circle cx="1282.4" cy="819.0" r="6.5"/><circle cx="1292.5" cy="819.0" r="6.5"/><circle cx="1305.5" cy="819.0" r="6.5"/><circle cx="1309.5" cy="819.0" r="6.5"/><circle cx="1245.3" cy="826.1" r="6.5"/><circle cx="1253.3" cy="826.1" r="6.5"/><circle cx="1263.3" cy="826.1" r="6.5"/><circle cx="1271.4" cy="826.1" r="6.5"/><circle cx="1308.5" cy="826.1" r="6.5"/><circle cx="1245.3" cy="834.1" r="6.5"/><circle cx="1253.3" cy="834.1" r="6.5"/><circle cx="1260.3" cy="834.1" r="6.5"/><circle cx="1267.4" cy="834.1" r="6.5"/><circle cx="1282.4" cy="834.1" r="6.5"/><circle cx="1289.5" cy="834.1" r="6.5"/><circle cx="1304.5" cy="834.1" r="6.5"/><circle cx="1249.3" cy="842.1" r="6.5"/><circle cx="1267.4" cy="842.1" r="6.5"/><circle cx="1277.4" cy="842.1" r="6.5"/><circle cx="1285.4" cy="842.1" r="6.5"/><circle cx="1293.5" cy="842.1" r="6.5"/><circle cx="1304.5" cy="842.1" r="6.5"/><circle cx="1269.4" cy="850.2" r="6.5"/><circle cx="1277.4" cy="850.2" r="6.5"/><circle cx="1285.4" cy="850.2" r="6.5"/><circle cx="1291.5" cy="850.2" r="6.5"/><circle cx="1265.3" cy="858.2" r="6.5"/><circle cx="1287.4" cy="858.2" r="6.5"/><circle cx="1295.5" cy="858.2" r="6.5"/><circle cx="1243.2" cy="866.2" r="6.5"/><circle cx="1251.3" cy="866.2" r="6.5"/><circle cx="1259.3" cy="866.2" r="6.5"/><circle cx="1267.4" cy="866.2" r="6.5"/><circle cx="1283.4" cy="866.2" r="6.5"/><circle cx="1291.5" cy="866.2" r="6.5"/><circle cx="1297.5" cy="866.2" r="6.5"/><circle cx="1243.2" cy="874.3" r="6.5"/><circle cx="1251.3" cy="874.3" r="6.5"/><circle cx="1259.3" cy="874.3" r="6.5"/><circle cx="1265.3" cy="874.3" r="6.5"/><circle cx="1279.4" cy="874.3" r="6.5"/><circle cx="1287.4" cy="874.3" r="6.5"/><circle cx="1247.3" cy="882.3" r="6.5"/><circle cx="1255.3" cy="882.3" r="6.5"/><circle cx="1263.3" cy="882.3" r="6.5"/><circle cx="1290.5" cy="882.3" r="6.5"/><circle cx="1251.3" cy="890.4" r="6.5"/><circle cx="1259.3" cy="890.4" r="6.5"/><circle cx="1288.5" cy="890.4" r="6.5"/><circle cx="1295.5" cy="890.4" r="6.5"/><circle cx="1251.3" cy="898.4" r="6.5"/><circle cx="1259.3" cy="898.4" r="6.5"/><circle cx="1267.4" cy="898.4" r="6.5"/><circle cx="1273.4" cy="898.4" r="6.5"/><circle cx="1291.5" cy="898.4" r="6.5"/><circle cx="1300.5" cy="898.4" r="6.5"/><circle cx="1259.3" cy="904.4" r="6.5"/><circle cx="1267.4" cy="904.4" r="6.5"/><circle cx="1303.5" cy="904.4" r="6.5"/><circle cx="1308.5" cy="879.3" r="6.5"/><circle cx="1307.5" cy="894.4" r="6.5"/><circle cx="1249.8" cy="916.0" r="6.5"/><circle cx="1277.9" cy="913.5" r="6.5"/><circle cx="1291.5" cy="921.5" r="6.5"/><circle cx="1303.5" cy="928.5" r="6.5"/><circle cx="1303.5" cy="933.5" r="6.5"/><circle cx="1245.3" cy="935.6" r="6.5"/><circle cx="1255.3" cy="946.1" r="6.5"/><circle cx="1269.9" cy="959.7" r="6.5"/><circle cx="1246.8" cy="975.7" r="6.5"/><circle cx="1302.5" cy="983.8" r="6.5"/></g>
<g fill="#e6202a"><circle cx="1413.5" cy="698.4" r="6.5"/><circle cx="1411.1" cy="725.4" r="6.5"/><circle cx="1413.5" cy="731.2" r="6.5"/><circle cx="1443.1" cy="734.1" r="6.5"/><circle cx="1473.5" cy="742.0" r="6.5"/><circle cx="1471.5" cy="751.5" r="6.5"/><circle cx="1463.4" cy="763.1" r="6.5"/><circle cx="1417.8" cy="772.7" r="6.5"/><circle cx="1440.2" cy="776.2" r="6.5"/><circle cx="1451.8" cy="776.2" r="6.5"/><circle cx="1448.9" cy="779.1" r="6.5"/><circle cx="1475.6" cy="772.4" r="6.5"/><circle cx="1470.6" cy="771.8" r="6.5"/><circle cx="1475.6" cy="790.1" r="6.5"/><circle cx="1442.2" cy="811.0" r="6.5"/><circle cx="1414.0" cy="831.9" r="6.5"/><circle cx="1428.0" cy="847.3" r="6.5"/><circle cx="1450.3" cy="840.6" r="6.5"/><circle cx="1457.6" cy="837.7" r="6.5"/><circle cx="1459.0" cy="860.3" r="6.5"/></g>
<rect x="1179.60" y="650.80" width="360.70" height="346.80" fill="none" stroke="#231f20" stroke-width="2.2"/>
<line x1="1163.9" y1="987.7" x2="1179.6" y2="987.7" stroke="#231f20" stroke-width="2.0" stroke-linecap="butt"/>
<text x="1143.5" y="987.7" font-size="25.5" text-anchor="middle" stroke="#231f20" stroke-width="0.3" transform="rotate(-90 1143.5 987.7)">4</text>
<line x1="1163.9" y1="936.9" x2="1179.6" y2="936.9" stroke="#231f20" stroke-width="2.0" stroke-linecap="butt"/>
<text x="1143.5" y="936.9" font-size="25.5" text-anchor="middle" stroke="#231f20" stroke-width="0.3" transform="rotate(-90 1143.5 936.9)">5</text>
<line x1="1163.9" y1="886.0" x2="1179.6" y2="886.0" stroke="#231f20" stroke-width="2.0" stroke-linecap="butt"/>
<text x="1143.5" y="886.0" font-size="25.5" text-anchor="middle" stroke="#231f20" stroke-width="0.3" transform="rotate(-90 1143.5 886.0)">6</text>
<line x1="1163.9" y1="835.1" x2="1179.6" y2="835.1" stroke="#231f20" stroke-width="2.0" stroke-linecap="butt"/>
<text x="1143.5" y="835.1" font-size="25.5" text-anchor="middle" stroke="#231f20" stroke-width="0.3" transform="rotate(-90 1143.5 835.1)">7</text>
<line x1="1163.9" y1="784.2" x2="1179.6" y2="784.2" stroke="#231f20" stroke-width="2.0" stroke-linecap="butt"/>
<text x="1143.5" y="784.2" font-size="25.5" text-anchor="middle" stroke="#231f20" stroke-width="0.3" transform="rotate(-90 1143.5 784.2)">8</text>
<line x1="1163.9" y1="733.4" x2="1179.6" y2="733.4" stroke="#231f20" stroke-width="2.0" stroke-linecap="butt"/>
<text x="1143.5" y="733.4" font-size="25.5" text-anchor="middle" stroke="#231f20" stroke-width="0.3" transform="rotate(-90 1143.5 733.4)">9</text>
<line x1="1163.9" y1="682.5" x2="1179.6" y2="682.5" stroke="#231f20" stroke-width="2.0" stroke-linecap="butt"/>
<text x="1143.5" y="682.5" font-size="25.5" text-anchor="middle" stroke="#231f20" stroke-width="0.3" transform="rotate(-90 1143.5 682.5)">10</text>
<line x1="1276.2" y1="997.6" x2="1276.2" y2="1014.1" stroke="#231f20" stroke-width="2.2" stroke-linecap="butt"/>
<line x1="1443.3" y1="997.6" x2="1443.3" y2="1014.1" stroke="#231f20" stroke-width="2.2" stroke-linecap="butt"/>
<text x="1387.9" y="973.5" font-size="21.5" stroke="#231f20" stroke-width="0.3" textLength="100.1" lengthAdjust="spacingAndGlyphs">p = 0.0008</text>
<text x="1255.0" y="1054.8" font-size="24.5" stroke="#231f20" stroke-width="0.3" textLength="38.6" lengthAdjust="spacingAndGlyphs">WT</text>
<text x="1402.4" y="1054.8" font-size="24.5" stroke="#231f20" stroke-width="0.3" textLength="80.4" lengthAdjust="spacingAndGlyphs">Altered</text>
<text x="1109.0" y="941.6" font-size="25" stroke="#231f20" stroke-width="0.3" textLength="225.0" lengthAdjust="spacingAndGlyphs" transform="rotate(-90 1109.0 941.6)"><tspan font-weight="bold">ZEB1</tspan> [log2(RSEM)]</text>
<text x="1844.7" y="630.6" font-size="29.5" font-weight="bold" textLength="133.4" lengthAdjust="spacingAndGlyphs">miR-200b</text>
<line x1="1828.1" y1="663.3" x2="1828.1" y2="780.5" stroke="#231f20" stroke-width="1.9" stroke-linecap="butt" stroke-dasharray="12,10"/>
<line x1="1828.1" y1="863.3" x2="1828.1" y2="985.1" stroke="#231f20" stroke-width="1.9" stroke-linecap="butt" stroke-dasharray="12,10"/>
<line x1="1794.4" y1="663.3" x2="1861.8" y2="663.3" stroke="#231f20" stroke-width="1.9" stroke-linecap="butt"/>
<line x1="1794.4" y1="985.1" x2="1861.8" y2="985.1" stroke="#231f20" stroke-width="1.9" stroke-linecap="butt"/>
<rect x="1760.80" y="780.50" width="134.60" height="82.80" fill="white" stroke="#231f20" stroke-width="1.9"/>
<line x1="1760.8" y1="821.8" x2="1895.4" y2="821.8" stroke="#231f20" stroke-width="6" stroke-linecap="butt"/>
<line x1="1995.2" y1="718.2" x2="1995.2" y2="751.5" stroke="#231f20" stroke-width="1.9" stroke-linecap="butt" stroke-dasharray="12,10"/>
<line x1="1995.2" y1="799.4" x2="1995.2" y2="836.3" stroke="#231f20" stroke-width="1.9" stroke-linecap="butt" stroke-dasharray="12,10"/>
<line x1="1961.2" y1="718.2" x2="2029.3" y2="718.2" stroke="#231f20" stroke-width="1.9" stroke-linecap="butt"/>
<line x1="1961.2" y1="836.3" x2="2029.3" y2="836.3" stroke="#231f20" stroke-width="1.9" stroke-linecap="butt"/>
<rect x="1928.20" y="751.50" width="134.10" height="47.90" fill="white" stroke="#231f20" stroke-width="1.9"/>
<line x1="1928.2" y1="774.7" x2="2062.3" y2="774.7" stroke="#231f20" stroke-width="6" stroke-linecap="butt"/>
<g fill="#808080"></g>
<g fill="#808080"><circle cx="1802.5" cy="663.6" r="6.5"/><circle cx="1833.2" cy="665.1" r="6.5"/><circle cx="1803.3" cy="704.8" r="6.5"/><circle cx="1813.3" cy="700.8" r="6.5"/><circle cx="1821.9" cy="720.9" r="6.5"/><circle cx="1830.4" cy="721.4" r="6.5"/><circle cx="1851.5" cy="725.4" r="6.5"/><circle cx="1795.8" cy="725.9" r="6.5"/><circle cx="1795.8" cy="735.4" r="6.5"/><circle cx="1816.8" cy="738.4" r="6.5"/><circle cx="1832.4" cy="737.9" r="6.5"/><circle cx="1848.0" cy="736.4" r="6.5"/><circle cx="1851.5" cy="743.5" r="6.5"/><circle cx="1854.5" cy="746.5" r="6.5"/><circle cx="1811.3" cy="744.5" r="6.5"/><circle cx="1805.3" cy="750.5" r="6.5"/><circle cx="1817.3" cy="750.5" r="6.5"/><circle cx="1833.9" cy="755.5" r="6.5"/><circle cx="1801.3" cy="759.5" r="6.5"/><circle cx="1803.3" cy="770.6" r="6.5"/><circle cx="1811.3" cy="768.6" r="6.5"/><circle cx="1821.4" cy="766.6" r="6.5"/><circle cx="1829.4" cy="766.6" r="6.5"/><circle cx="1845.5" cy="768.6" r="6.5"/><circle cx="1853.5" cy="769.6" r="6.5"/><circle cx="1859.0" cy="765.6" r="6.5"/><circle cx="1860.5" cy="776.6" r="6.5"/><circle cx="1796.3" cy="781.6" r="6.5"/><circle cx="1808.3" cy="780.6" r="6.5"/><circle cx="1821.4" cy="778.6" r="6.5"/><circle cx="1838.4" cy="778.6" r="6.5"/><circle cx="1843.5" cy="784.6" r="6.5"/><circle cx="1821.4" cy="788.7" r="6.5"/><circle cx="1829.4" cy="788.7" r="6.5"/><circle cx="1799.3" cy="795.7" r="6.5"/><circle cx="1809.3" cy="794.7" r="6.5"/><circle cx="1838.4" cy="792.7" r="6.5"/><circle cx="1845.5" cy="794.7" r="6.5"/><circle cx="1858.5" cy="791.7" r="6.5"/><circle cx="1858.5" cy="798.7" r="6.5"/><circle cx="1799.3" cy="804.7" r="6.5"/><circle cx="1809.3" cy="804.7" r="6.5"/><circle cx="1829.4" cy="804.7" r="6.5"/><circle cx="1837.4" cy="802.7" r="6.5"/><circle cx="1845.5" cy="804.7" r="6.5"/><circle cx="1852.5" cy="802.7" r="6.5"/><circle cx="1799.3" cy="812.8" r="6.5"/><circle cx="1807.3" cy="812.8" r="6.5"/><circle cx="1815.3" cy="812.8" r="6.5"/><circle cx="1823.4" cy="811.8" r="6.5"/><circle cx="1831.4" cy="810.8" r="6.5"/><circle cx="1839.4" cy="812.8" r="6.5"/><circle cx="1847.5" cy="812.8" r="6.5"/><circle cx="1854.5" cy="816.8" r="6.5"/><circle cx="1809.3" cy="819.8" r="6.5"/><circle cx="1819.4" cy="819.8" r="6.5"/><circle cx="1829.4" cy="819.8" r="6.5"/><circle cx="1839.4" cy="819.8" r="6.5"/><circle cx="1849.5" cy="819.8" r="6.5"/><circle cx="1799.3" cy="812.0" r="6.5"/><circle cx="1807.3" cy="812.0" r="6.5"/><circle cx="1815.3" cy="812.0" r="6.5"/><circle cx="1823.4" cy="812.0" r="6.5"/><circle cx="1831.4" cy="812.0" r="6.5"/><circle cx="1839.4" cy="812.0" r="6.5"/><circle cx="1847.5" cy="812.0" r="6.5"/><circle cx="1853.5" cy="812.0" r="6.5"/><circle cx="1815.3" cy="819.0" r="6.5"/><circle cx="1823.4" cy="819.0" r="6.5"/><circle cx="1835.4" cy="819.0" r="6.5"/><circle cx="1843.5" cy="819.0" r="6.5"/><circle cx="1851.5" cy="819.0" r="6.5"/><circle cx="1857.5" cy="819.0" r="6.5"/><circle cx="1797.3" cy="825.1" r="6.5"/><circle cx="1809.3" cy="825.1" r="6.5"/><circle cx="1817.3" cy="825.1" r="6.5"/><circle cx="1825.4" cy="825.1" r="6.5"/><circle cx="1835.4" cy="825.1" r="6.5"/><circle cx="1844.5" cy="825.1" r="6.5"/><circle cx="1857.5" cy="825.1" r="6.5"/><circle cx="1807.3" cy="833.1" r="6.5"/><circle cx="1815.3" cy="833.1" r="6.5"/><circle cx="1823.4" cy="833.1" r="6.5"/><circle cx="1831.4" cy="833.1" r="6.5"/><circle cx="1847.5" cy="833.1" r="6.5"/><circle cx="1855.5" cy="833.1" r="6.5"/><circle cx="1803.3" cy="839.1" r="6.5"/><circle cx="1811.3" cy="839.1" r="6.5"/><circle cx="1819.4" cy="839.1" r="6.5"/><circle cx="1827.4" cy="839.1" r="6.5"/><circle cx="1835.4" cy="839.1" r="6.5"/><circle cx="1849.5" cy="839.1" r="6.5"/><circle cx="1859.5" cy="839.1" r="6.5"/><circle cx="1809.3" cy="845.2" r="6.5"/><circle cx="1817.3" cy="845.2" r="6.5"/><circle cx="1835.4" cy="845.2" r="6.5"/><circle cx="1857.5" cy="845.2" r="6.5"/><circle cx="1797.3" cy="851.2" r="6.5"/><circle cx="1805.3" cy="851.2" r="6.5"/><circle cx="1813.3" cy="851.2" r="6.5"/><circle cx="1845.5" cy="851.2" r="6.5"/><circle cx="1857.5" cy="851.2" r="6.5"/><circle cx="1795.2" cy="859.2" r="6.5"/><circle cx="1803.3" cy="859.2" r="6.5"/><circle cx="1811.3" cy="859.2" r="6.5"/><circle cx="1827.4" cy="859.2" r="6.5"/><circle cx="1859.5" cy="859.2" r="6.5"/><circle cx="1795.2" cy="866.2" r="6.5"/><circle cx="1803.3" cy="866.2" r="6.5"/><circle cx="1811.3" cy="866.2" r="6.5"/><circle cx="1819.4" cy="866.2" r="6.5"/><circle cx="1827.4" cy="866.2" r="6.5"/><circle cx="1839.4" cy="866.2" r="6.5"/><circle cx="1854.5" cy="866.2" r="6.5"/><circle cx="1795.2" cy="872.3" r="6.5"/><circle cx="1803.3" cy="872.3" r="6.5"/><circle cx="1811.3" cy="872.3" r="6.5"/><circle cx="1819.4" cy="872.3" r="6.5"/><circle cx="1841.5" cy="872.3" r="6.5"/><circle cx="1809.3" cy="879.3" r="6.5"/><circle cx="1817.3" cy="879.3" r="6.5"/><circle cx="1825.4" cy="879.3" r="6.5"/><circle cx="1833.4" cy="879.3" r="6.5"/><circle cx="1813.3" cy="886.3" r="6.5"/><circle cx="1821.4" cy="886.3" r="6.5"/><circle cx="1843.5" cy="889.4" r="6.5"/><circle cx="1854.5" cy="892.4" r="6.5"/><circle cx="1829.4" cy="894.4" r="6.5"/><circle cx="1807.3" cy="899.4" r="6.5"/><circle cx="1821.4" cy="903.9" r="6.5"/><circle cx="1860.5" cy="905.4" r="6.5"/><circle cx="1801.3" cy="914.0" r="6.5"/><circle cx="1797.3" cy="918.5" r="6.5"/><circle cx="1816.3" cy="921.0" r="6.5"/><circle cx="1832.4" cy="917.5" r="6.5"/><circle cx="1840.5" cy="911.5" r="6.5"/><circle cx="1844.5" cy="918.5" r="6.5"/><circle cx="1853.5" cy="921.0" r="6.5"/><circle cx="1812.8" cy="932.5" r="6.5"/><circle cx="1845.5" cy="934.1" r="6.5"/><circle cx="1807.3" cy="949.1" r="6.5"/><circle cx="1802.8" cy="967.7" r="6.5"/><circle cx="1796.8" cy="984.8" r="6.5"/></g>
<g fill="#e6202a"><circle cx="1964.5" cy="718.2" r="6.5"/><circle cx="1963.1" cy="725.4" r="6.5"/><circle cx="1961.6" cy="729.8" r="6.5"/><circle cx="2015.3" cy="730.3" r="6.5"/><circle cx="1994.1" cy="740.5" r="6.5"/><circle cx="1968.0" cy="751.5" r="6.5"/><circle cx="2003.1" cy="763.1" r="6.5"/><circle cx="2024.9" cy="761.1" r="6.5"/><circle cx="2021.1" cy="767.5" r="6.5"/><circle cx="1990.0" cy="774.7" r="6.5"/><circle cx="1992.7" cy="783.4" r="6.5"/><circle cx="2024.0" cy="773.3" r="6.5"/><circle cx="1979.6" cy="792.2" r="6.5"/><circle cx="2002.2" cy="793.6" r="6.5"/><circle cx="2022.5" cy="795.1" r="6.5"/><circle cx="2026.9" cy="799.4" r="6.5"/><circle cx="2009.5" cy="813.0" r="6.5"/><circle cx="1965.4" cy="821.2" r="6.5"/><circle cx="2001.6" cy="836.3" r="6.5"/><circle cx="2010.4" cy="874.0" r="6.5"/></g>
<rect x="1730.90" y="650.80" width="361.30" height="346.80" fill="none" stroke="#231f20" stroke-width="2.2"/>
<line x1="1715.0" y1="956.7" x2="1730.9" y2="956.7" stroke="#231f20" stroke-width="2.0" stroke-linecap="butt"/>
<text x="1694.5" y="956.7" font-size="25.5" text-anchor="middle" stroke="#231f20" stroke-width="0.3" transform="rotate(-90 1694.5 956.7)">5</text>
<line x1="1715.0" y1="902.4" x2="1730.9" y2="902.4" stroke="#231f20" stroke-width="2.0" stroke-linecap="butt"/>
<text x="1694.5" y="902.4" font-size="25.5" text-anchor="middle" stroke="#231f20" stroke-width="0.3" transform="rotate(-90 1694.5 902.4)">6</text>
<line x1="1715.0" y1="848.2" x2="1730.9" y2="848.2" stroke="#231f20" stroke-width="2.0" stroke-linecap="butt"/>
<text x="1694.5" y="848.2" font-size="25.5" text-anchor="middle" stroke="#231f20" stroke-width="0.3" transform="rotate(-90 1694.5 848.2)">7</text>
<line x1="1715.0" y1="793.9" x2="1730.9" y2="793.9" stroke="#231f20" stroke-width="2.0" stroke-linecap="butt"/>
<text x="1694.5" y="793.9" font-size="25.5" text-anchor="middle" stroke="#231f20" stroke-width="0.3" transform="rotate(-90 1694.5 793.9)">8</text>
<line x1="1715.0" y1="739.7" x2="1730.9" y2="739.7" stroke="#231f20" stroke-width="2.0" stroke-linecap="butt"/>
<text x="1694.5" y="739.7" font-size="25.5" text-anchor="middle" stroke="#231f20" stroke-width="0.3" transform="rotate(-90 1694.5 739.7)">9</text>
<line x1="1715.0" y1="685.4" x2="1730.9" y2="685.4" stroke="#231f20" stroke-width="2.0" stroke-linecap="butt"/>
<text x="1694.5" y="685.4" font-size="25.5" text-anchor="middle" stroke="#231f20" stroke-width="0.3" transform="rotate(-90 1694.5 685.4)">10</text>
<line x1="1828.1" y1="997.6" x2="1828.1" y2="1014.1" stroke="#231f20" stroke-width="2.2" stroke-linecap="butt"/>
<line x1="1995.2" y1="997.6" x2="1995.2" y2="1014.1" stroke="#231f20" stroke-width="2.2" stroke-linecap="butt"/>
<text x="1946.2" y="976.4" font-size="21.5" stroke="#231f20" stroke-width="0.3" textLength="97.5" lengthAdjust="spacingAndGlyphs">p = 4.9E-5</text>
<text x="1807.8" y="1054.8" font-size="24.5" stroke="#231f20" stroke-width="0.3" textLength="36.9" lengthAdjust="spacingAndGlyphs">WT</text>
<text x="1954.9" y="1054.8" font-size="24.5" stroke="#231f20" stroke-width="0.3" textLength="79.8" lengthAdjust="spacingAndGlyphs">Altered</text>
<text x="1653.6" y="937.2" font-size="25" stroke="#231f20" stroke-width="0.3" textLength="225.0" lengthAdjust="spacingAndGlyphs" transform="rotate(-90 1653.6 937.2)"><tspan font-weight="bold">ZEB2</tspan> [log2(RSEM)]</text>
<text x="3.2" y="1181.0" font-size="52" font-weight="bold">d</text>
<g stroke="#231f20" stroke-width="0.35">
<text x="118.8" y="1291.8" font-size="16.5" font-style="italic" textLength="36.7" lengthAdjust="spacingAndGlyphs">BMP2</text>
<text x="122.5" y="1316.2" font-size="16.5" font-style="italic" textLength="31.4" lengthAdjust="spacingAndGlyphs">ZEB1</text>
<text x="117.2" y="1340.5" font-size="16.5" font-style="italic" textLength="36.1" lengthAdjust="spacingAndGlyphs">SNAI1</text>
<text x="119.4" y="1364.9" font-size="16.5" font-style="italic" textLength="36.1" lengthAdjust="spacingAndGlyphs">BMP6</text>
<text x="119.4" y="1389.2" font-size="16.5" font-style="italic" textLength="36.1" lengthAdjust="spacingAndGlyphs">BMP4</text>
<text x="125.6" y="1413.6" font-size="16.5" font-style="italic" textLength="28.3" lengthAdjust="spacingAndGlyphs">LEF1</text>
<text x="106.2" y="1437.9" font-size="16.5" font-style="italic" textLength="53.0" lengthAdjust="spacingAndGlyphs">BMPR1B</text>
<text x="96.2" y="1462.3" font-size="16.5" font-style="italic" textLength="63.0" lengthAdjust="spacingAndGlyphs">miR-200b</text>
<text x="96.2" y="1486.6" font-size="16.5" font-style="italic" textLength="63.0" lengthAdjust="spacingAndGlyphs">miR-200a</text>
<text x="119.4" y="1511.0" font-size="16.5" font-style="italic" textLength="36.1" lengthAdjust="spacingAndGlyphs">BMP7</text>
<text x="125.0" y="1535.3" font-size="16.5" font-style="italic" textLength="29.8" lengthAdjust="spacingAndGlyphs">KLF4</text>
<text x="108.4" y="1559.7" font-size="16.5" font-style="italic" textLength="44.8" lengthAdjust="spacingAndGlyphs">BMP8B</text>
<text x="125.6" y="1584.0" font-size="16.5" font-style="italic" textLength="29.8" lengthAdjust="spacingAndGlyphs">TP63</text>
<text x="117.2" y="1608.4" font-size="16.5" font-style="italic" textLength="37.3" lengthAdjust="spacingAndGlyphs">SNAI2</text>
<text x="189.9" y="1269.4" font-size="16.5" font-style="italic" textLength="36.4" lengthAdjust="spacingAndGlyphs" transform="rotate(-90 189.9 1269.4)">BMP2</text>
<text x="214.2" y="1269.4" font-size="16.5" font-style="italic" textLength="31.7" lengthAdjust="spacingAndGlyphs" transform="rotate(-90 214.2 1269.4)">ZEB1</text>
<text x="238.6" y="1269.4" font-size="16.5" font-style="italic" textLength="36.4" lengthAdjust="spacingAndGlyphs" transform="rotate(-90 238.6 1269.4)">SNAI1</text>
<text x="262.9" y="1269.4" font-size="16.5" font-style="italic" textLength="36.4" lengthAdjust="spacingAndGlyphs" transform="rotate(-90 262.9 1269.4)">BMP6</text>
<text x="287.3" y="1269.4" font-size="16.5" font-style="italic" textLength="36.4" lengthAdjust="spacingAndGlyphs" transform="rotate(-90 287.3 1269.4)">BMP4</text>
<text x="311.6" y="1269.4" font-size="16.5" font-style="italic" textLength="28.6" lengthAdjust="spacingAndGlyphs" transform="rotate(-90 311.6 1269.4)">LEF1</text>
<text x="336.0" y="1269.4" font-size="16.5" font-style="italic" textLength="53.6" lengthAdjust="spacingAndGlyphs" transform="rotate(-90 336.0 1269.4)">BMPR1B</text>
<text x="360.3" y="1269.4" font-size="16.5" font-style="italic" textLength="61.4" lengthAdjust="spacingAndGlyphs" transform="rotate(-90 360.3 1269.4)">miR-200b</text>
<text x="384.7" y="1269.4" font-size="16.5" font-style="italic" textLength="61.4" lengthAdjust="spacingAndGlyphs" transform="rotate(-90 384.7 1269.4)">miR-200a</text>
<text x="409.0" y="1269.4" font-size="16.5" font-style="italic" textLength="36.4" lengthAdjust="spacingAndGlyphs" transform="rotate(-90 409.0 1269.4)">BMP7</text>
<text x="433.4" y="1269.4" font-size="16.5" font-style="italic" textLength="31.7" lengthAdjust="spacingAndGlyphs" transform="rotate(-90 433.4 1269.4)">KLF4</text>
<text x="457.7" y="1269.4" font-size="16.5" font-style="italic" textLength="45.8" lengthAdjust="spacingAndGlyphs" transform="rotate(-90 457.7 1269.4)">BMP8B</text>
<text x="482.1" y="1269.4" font-size="16.5" font-style="italic" textLength="30.8" lengthAdjust="spacingAndGlyphs" transform="rotate(-90 482.1 1269.4)">TP63</text>
<text x="506.4" y="1269.4" font-size="16.5" font-style="italic" textLength="37.9" lengthAdjust="spacingAndGlyphs" transform="rotate(-90 506.4 1269.4)">SNAI2</text>
</g>
<rect x="172.50" y="1276.85" width="23.15" height="23.15" fill="#dfe3ea"/>
<rect x="173.20" y="1277.55" width="21.75" height="21.75" fill="#1a3565"/>
<rect x="196.85" y="1301.20" width="23.15" height="23.15" fill="#dfe3ea"/>
<rect x="197.55" y="1301.90" width="21.75" height="21.75" fill="#1a3565"/>
<rect x="197.55" y="1326.25" width="21.75" height="21.75" fill="#abd2e5"/>
<rect x="221.20" y="1325.55" width="23.15" height="23.15" fill="#dfe3ea"/>
<rect x="221.90" y="1326.25" width="21.75" height="21.75" fill="#1a3565"/>
<rect x="197.55" y="1350.60" width="21.75" height="21.75" fill="#7eb8d7"/>
<rect x="221.90" y="1350.60" width="21.75" height="21.75" fill="#b2d5e7"/>
<rect x="245.55" y="1349.90" width="23.15" height="23.15" fill="#dfe3ea"/>
<rect x="246.25" y="1350.60" width="21.75" height="21.75" fill="#1a3565"/>
<rect x="269.90" y="1374.25" width="23.15" height="23.15" fill="#dfe3ea"/>
<rect x="270.60" y="1374.95" width="21.75" height="21.75" fill="#1a3565"/>
<rect x="197.55" y="1399.30" width="21.75" height="21.75" fill="#7eb8d7"/>
<rect x="246.25" y="1399.30" width="21.75" height="21.75" fill="#abd2e5"/>
<rect x="294.25" y="1398.60" width="23.15" height="23.15" fill="#dfe3ea"/>
<rect x="294.95" y="1399.30" width="21.75" height="21.75" fill="#1a3565"/>
<rect x="318.60" y="1422.95" width="23.15" height="23.15" fill="#dfe3ea"/>
<rect x="319.30" y="1423.65" width="21.75" height="21.75" fill="#1a3565"/>
<rect x="173.20" y="1448.00" width="21.75" height="21.75" fill="#fcd6c0"/>
<rect x="197.55" y="1448.00" width="21.75" height="21.75" fill="#f6b293"/>
<rect x="221.90" y="1448.00" width="21.75" height="21.75" fill="#f6b293"/>
<rect x="246.25" y="1448.00" width="21.75" height="21.75" fill="#f9c5ab"/>
<rect x="342.95" y="1447.30" width="23.15" height="23.15" fill="#dfe3ea"/>
<rect x="343.65" y="1448.00" width="21.75" height="21.75" fill="#1a3565"/>
<rect x="197.55" y="1472.35" width="21.75" height="21.75" fill="#f4a582"/>
<rect x="221.90" y="1472.35" width="21.75" height="21.75" fill="#f5aa89"/>
<rect x="246.25" y="1472.35" width="21.75" height="21.75" fill="#f8c0a4"/>
<rect x="343.65" y="1472.35" width="21.75" height="21.75" fill="#134b86"/>
<rect x="367.30" y="1471.65" width="23.15" height="23.15" fill="#dfe3ea"/>
<rect x="368.00" y="1472.35" width="21.75" height="21.75" fill="#1a3565"/>
<rect x="221.90" y="1496.70" width="21.75" height="21.75" fill="#ec9475"/>
<rect x="319.30" y="1496.70" width="21.75" height="21.75" fill="#fcd6c0"/>
<rect x="391.65" y="1496.00" width="23.15" height="23.15" fill="#dfe3ea"/>
<rect x="392.35" y="1496.70" width="21.75" height="21.75" fill="#1a3565"/>
<rect x="221.90" y="1521.05" width="21.75" height="21.75" fill="#fae9df"/>
<rect x="246.25" y="1521.05" width="21.75" height="21.75" fill="#fbe6da"/>
<rect x="392.35" y="1521.05" width="21.75" height="21.75" fill="#abd2e5"/>
<rect x="416.00" y="1520.35" width="23.15" height="23.15" fill="#dfe3ea"/>
<rect x="416.70" y="1521.05" width="21.75" height="21.75" fill="#1a3565"/>
<rect x="440.35" y="1544.70" width="23.15" height="23.15" fill="#dfe3ea"/>
<rect x="441.05" y="1545.40" width="21.75" height="21.75" fill="#1a3565"/>
<rect x="221.90" y="1569.75" width="21.75" height="21.75" fill="#f9c5ab"/>
<rect x="246.25" y="1569.75" width="21.75" height="21.75" fill="#f8bb9e"/>
<rect x="270.60" y="1569.75" width="21.75" height="21.75" fill="#fcd6c0"/>
<rect x="319.30" y="1569.75" width="21.75" height="21.75" fill="#facbb2"/>
<rect x="416.70" y="1569.75" width="21.75" height="21.75" fill="#b2d5e7"/>
<rect x="464.70" y="1569.05" width="23.15" height="23.15" fill="#dfe3ea"/>
<rect x="465.40" y="1569.75" width="21.75" height="21.75" fill="#1a3565"/>
<rect x="465.40" y="1594.10" width="21.75" height="21.75" fill="#2a71b2"/>
<rect x="489.05" y="1593.40" width="23.15" height="23.15" fill="#dfe3ea"/>
<rect x="489.75" y="1594.10" width="21.75" height="21.75" fill="#1a3565"/>
<rect x="171.25" y="1623.75" width="342.75" height="15.0" fill="url(#rdbu)" stroke="#231f20" stroke-width="1.6"/>
<line x1="205.5" y1="1635.8" x2="205.5" y2="1638.8" stroke="#231f20" stroke-width="1.2" stroke-linecap="butt"/>
<line x1="239.8" y1="1635.8" x2="239.8" y2="1638.8" stroke="#231f20" stroke-width="1.2" stroke-linecap="butt"/>
<line x1="274.1" y1="1635.8" x2="274.1" y2="1638.8" stroke="#231f20" stroke-width="1.2" stroke-linecap="butt"/>
<line x1="308.4" y1="1635.8" x2="308.4" y2="1638.8" stroke="#231f20" stroke-width="1.2" stroke-linecap="butt"/>
<line x1="342.6" y1="1635.8" x2="342.6" y2="1638.8" stroke="#231f20" stroke-width="1.2" stroke-linecap="butt"/>
<line x1="376.9" y1="1635.8" x2="376.9" y2="1638.8" stroke="#231f20" stroke-width="1.2" stroke-linecap="butt"/>
<line x1="411.2" y1="1635.8" x2="411.2" y2="1638.8" stroke="#231f20" stroke-width="1.2" stroke-linecap="butt"/>
<line x1="445.4" y1="1635.8" x2="445.4" y2="1638.8" stroke="#231f20" stroke-width="1.2" stroke-linecap="butt"/>
<line x1="479.7" y1="1635.8" x2="479.7" y2="1638.8" stroke="#231f20" stroke-width="1.2" stroke-linecap="butt"/>
<text x="172.0" y="1656.9" font-size="14" text-anchor="middle" stroke="#231f20" stroke-width="0.3">−1</text>
<text x="204.7" y="1656.9" font-size="14" text-anchor="middle" stroke="#231f20" stroke-width="0.3">−0.8</text>
<text x="238.0" y="1656.9" font-size="14" text-anchor="middle" stroke="#231f20" stroke-width="0.3">−0.6</text>
<text x="270.5" y="1656.9" font-size="14" text-anchor="middle" stroke="#231f20" stroke-width="0.3">−0.4</text>
<text x="302.0" y="1656.9" font-size="14" text-anchor="middle" stroke="#231f20" stroke-width="0.3">−0.2</text>
<text x="334.4" y="1656.9" font-size="14" text-anchor="middle" stroke="#231f20" stroke-width="0.3">0</text>
<text x="367.0" y="1656.9" font-size="14" text-anchor="middle" stroke="#231f20" stroke-width="0.3">0.2</text>
<text x="400.0" y="1656.9" font-size="14" text-anchor="middle" stroke="#231f20" stroke-width="0.3">0.4</text>
<text x="431.0" y="1656.9" font-size="14" text-anchor="middle" stroke="#231f20" stroke-width="0.3">0.6</text>
<text x="463.4" y="1656.9" font-size="14" text-anchor="middle" stroke="#231f20" stroke-width="0.3">0.8</text>
<text x="512.8" y="1656.9" font-size="14" text-anchor="middle" stroke="#231f20" stroke-width="0.3">1</text>
<text x="196.9" y="1163.6" font-size="25" font-weight="bold" textLength="311.0" lengthAdjust="spacingAndGlyphs">Squamous Cell Carcinoma</text>
<rect x="73.40" y="1447.50" width="199.40" height="49.10" fill="none" stroke="#e4603a" stroke-width="2.8"/>
<g stroke="#231f20" stroke-width="0.35">
<text x="628.8" y="1291.8" font-size="16.5" font-style="italic" textLength="45.5" lengthAdjust="spacingAndGlyphs">BMP8B</text>
<text x="645.9" y="1316.0" font-size="16.5" font-style="italic" textLength="29.5" lengthAdjust="spacingAndGlyphs">KLF4</text>
<text x="626.6" y="1340.3" font-size="16.5" font-style="italic" textLength="53.0" lengthAdjust="spacingAndGlyphs">BMPR1B</text>
<text x="617.8" y="1364.6" font-size="16.5" font-style="italic" textLength="64.8" lengthAdjust="spacingAndGlyphs">miR- 200a</text>
<text x="617.8" y="1388.8" font-size="16.5" font-style="italic" textLength="65.5" lengthAdjust="spacingAndGlyphs">miR- 200b</text>
<text x="640.6" y="1413.1" font-size="16.5" font-style="italic" textLength="36.7" lengthAdjust="spacingAndGlyphs">BMP4</text>
<text x="645.9" y="1437.3" font-size="16.5" font-style="italic" textLength="30.4" lengthAdjust="spacingAndGlyphs">TP63</text>
<text x="640.6" y="1461.6" font-size="16.5" font-style="italic" textLength="35.8" lengthAdjust="spacingAndGlyphs">BMP7</text>
<text x="646.9" y="1485.9" font-size="16.5" font-style="italic" textLength="27.3" lengthAdjust="spacingAndGlyphs">LEF1</text>
<text x="640.6" y="1510.1" font-size="16.5" font-style="italic" textLength="35.8" lengthAdjust="spacingAndGlyphs">BMP2</text>
<text x="643.8" y="1534.4" font-size="16.5" font-style="italic" textLength="31.1" lengthAdjust="spacingAndGlyphs">ZEB1</text>
<text x="638.1" y="1558.6" font-size="16.5" font-style="italic" textLength="37.3" lengthAdjust="spacingAndGlyphs">SNAI2</text>
<text x="640.6" y="1582.9" font-size="16.5" font-style="italic" textLength="35.8" lengthAdjust="spacingAndGlyphs">BMP6</text>
<text x="638.1" y="1607.2" font-size="16.5" font-style="italic" textLength="36.1" lengthAdjust="spacingAndGlyphs">SNAI1</text>
<text x="711.7" y="1269.4" font-size="16.5" font-style="italic" textLength="44.2" lengthAdjust="spacingAndGlyphs" transform="rotate(-90 711.7 1269.4)">BMP8B</text>
<text x="735.9" y="1269.4" font-size="16.5" font-style="italic" textLength="34.8" lengthAdjust="spacingAndGlyphs" transform="rotate(-90 735.9 1269.4)">KLF4</text>
<text x="760.2" y="1269.4" font-size="16.5" font-style="italic" textLength="55.1" lengthAdjust="spacingAndGlyphs" transform="rotate(-90 760.2 1269.4)">BMPR1B</text>
<text x="784.5" y="1269.4" font-size="16.5" font-style="italic" textLength="67.0" lengthAdjust="spacingAndGlyphs" transform="rotate(-90 784.5 1269.4)">miR- 200a</text>
<text x="808.7" y="1269.4" font-size="16.5" font-style="italic" textLength="67.0" lengthAdjust="spacingAndGlyphs" transform="rotate(-90 808.7 1269.4)">miR- 200b</text>
<text x="833.0" y="1269.4" font-size="16.5" font-style="italic" textLength="36.4" lengthAdjust="spacingAndGlyphs" transform="rotate(-90 833.0 1269.4)">BMP4</text>
<text x="857.2" y="1269.4" font-size="16.5" font-style="italic" textLength="31.7" lengthAdjust="spacingAndGlyphs" transform="rotate(-90 857.2 1269.4)">TP63</text>
<text x="881.5" y="1269.4" font-size="16.5" font-style="italic" textLength="36.4" lengthAdjust="spacingAndGlyphs" transform="rotate(-90 881.5 1269.4)">BMP7</text>
<text x="905.8" y="1269.4" font-size="16.5" font-style="italic" textLength="28.6" lengthAdjust="spacingAndGlyphs" transform="rotate(-90 905.8 1269.4)">LEF1</text>
<text x="930.0" y="1269.4" font-size="16.5" font-style="italic" textLength="36.4" lengthAdjust="spacingAndGlyphs" transform="rotate(-90 930.0 1269.4)">BMP2</text>
<text x="954.3" y="1269.4" font-size="16.5" font-style="italic" textLength="31.7" lengthAdjust="spacingAndGlyphs" transform="rotate(-90 954.3 1269.4)">ZEB1</text>
<text x="978.5" y="1269.4" font-size="16.5" font-style="italic" textLength="37.9" lengthAdjust="spacingAndGlyphs" transform="rotate(-90 978.5 1269.4)">SNAI2</text>
<text x="1002.8" y="1269.4" font-size="16.5" font-style="italic" textLength="37.9" lengthAdjust="spacingAndGlyphs" transform="rotate(-90 1002.8 1269.4)">BMP6</text>
<text x="1027.1" y="1269.4" font-size="16.5" font-style="italic" textLength="37.9" lengthAdjust="spacingAndGlyphs" transform="rotate(-90 1027.1 1269.4)">SNAI1</text>
</g>
<rect x="694.35" y="1276.85" width="23.06" height="23.06" fill="#dfe3ea"/>
<rect x="695.05" y="1277.55" width="21.66" height="21.66" fill="#1a3565"/>
<rect x="695.05" y="1301.81" width="21.66" height="21.66" fill="#b2d5e7"/>
<rect x="718.61" y="1301.11" width="23.06" height="23.06" fill="#dfe3ea"/>
<rect x="719.31" y="1301.81" width="21.66" height="21.66" fill="#1a3565"/>
<rect x="719.31" y="1326.07" width="21.66" height="21.66" fill="#cbe2ee"/>
<rect x="742.87" y="1325.37" width="23.06" height="23.06" fill="#dfe3ea"/>
<rect x="743.57" y="1326.07" width="21.66" height="21.66" fill="#1a3565"/>
<rect x="767.13" y="1349.63" width="23.06" height="23.06" fill="#dfe3ea"/>
<rect x="767.83" y="1350.33" width="21.66" height="21.66" fill="#1a3565"/>
<rect x="767.83" y="1374.59" width="21.66" height="21.66" fill="#10467f"/>
<rect x="791.39" y="1373.89" width="23.06" height="23.06" fill="#dfe3ea"/>
<rect x="792.09" y="1374.59" width="21.66" height="21.66" fill="#1a3565"/>
<rect x="719.31" y="1398.85" width="21.66" height="21.66" fill="#8ac0db"/>
<rect x="815.65" y="1398.15" width="23.06" height="23.06" fill="#dfe3ea"/>
<rect x="816.35" y="1398.85" width="21.66" height="21.66" fill="#1a3565"/>
<rect x="839.91" y="1422.41" width="23.06" height="23.06" fill="#dfe3ea"/>
<rect x="840.61" y="1423.11" width="21.66" height="21.66" fill="#1a3565"/>
<rect x="695.05" y="1447.37" width="21.66" height="21.66" fill="#fddbc7"/>
<rect x="719.31" y="1447.37" width="21.66" height="21.66" fill="#fce2d3"/>
<rect x="743.57" y="1447.37" width="21.66" height="21.66" fill="#f9c5ab"/>
<rect x="864.17" y="1446.67" width="23.06" height="23.06" fill="#dfe3ea"/>
<rect x="864.87" y="1447.37" width="21.66" height="21.66" fill="#1a3565"/>
<rect x="695.05" y="1471.63" width="21.66" height="21.66" fill="#fddbc7"/>
<rect x="719.31" y="1471.63" width="21.66" height="21.66" fill="#fce2d3"/>
<rect x="767.83" y="1471.63" width="21.66" height="21.66" fill="#fddbc7"/>
<rect x="792.09" y="1471.63" width="21.66" height="21.66" fill="#f8f1ed"/>
<rect x="864.87" y="1471.63" width="21.66" height="21.66" fill="#98c8e0"/>
<rect x="888.43" y="1470.93" width="23.06" height="23.06" fill="#dfe3ea"/>
<rect x="889.13" y="1471.63" width="21.66" height="21.66" fill="#1a3565"/>
<rect x="912.69" y="1495.19" width="23.06" height="23.06" fill="#dfe3ea"/>
<rect x="913.39" y="1495.89" width="21.66" height="21.66" fill="#1a3565"/>
<rect x="719.31" y="1520.15" width="21.66" height="21.66" fill="#fbceb6"/>
<rect x="767.83" y="1520.15" width="21.66" height="21.66" fill="#f19e7d"/>
<rect x="792.09" y="1520.15" width="21.66" height="21.66" fill="#f8bb9e"/>
<rect x="889.13" y="1520.15" width="21.66" height="21.66" fill="#2f78b5"/>
<rect x="936.95" y="1519.45" width="23.06" height="23.06" fill="#dfe3ea"/>
<rect x="937.65" y="1520.15" width="21.66" height="21.66" fill="#1a3565"/>
<rect x="695.05" y="1544.41" width="21.66" height="21.66" fill="#fae9df"/>
<rect x="719.31" y="1544.41" width="21.66" height="21.66" fill="#ec9475"/>
<rect x="767.83" y="1544.41" width="21.66" height="21.66" fill="#e8896d"/>
<rect x="792.09" y="1544.41" width="21.66" height="21.66" fill="#f7b89a"/>
<rect x="864.87" y="1544.41" width="21.66" height="21.66" fill="#b2d5e7"/>
<rect x="889.13" y="1544.41" width="21.66" height="21.66" fill="#246aae"/>
<rect x="937.65" y="1544.41" width="21.66" height="21.66" fill="#246aae"/>
<rect x="961.21" y="1543.71" width="23.06" height="23.06" fill="#dfe3ea"/>
<rect x="961.91" y="1544.41" width="21.66" height="21.66" fill="#1a3565"/>
<rect x="695.05" y="1568.67" width="21.66" height="21.66" fill="#f9c5ab"/>
<rect x="719.31" y="1568.67" width="21.66" height="21.66" fill="#f19e7d"/>
<rect x="767.83" y="1568.67" width="21.66" height="21.66" fill="#ec9475"/>
<rect x="792.09" y="1568.67" width="21.66" height="21.66" fill="#f8c0a4"/>
<rect x="864.87" y="1568.67" width="21.66" height="21.66" fill="#b2d5e7"/>
<rect x="889.13" y="1568.67" width="21.66" height="21.66" fill="#6aacd0"/>
<rect x="937.65" y="1568.67" width="21.66" height="21.66" fill="#4393c3"/>
<rect x="961.91" y="1568.67" width="21.66" height="21.66" fill="#327db8"/>
<rect x="985.47" y="1567.97" width="23.06" height="23.06" fill="#dfe3ea"/>
<rect x="986.17" y="1568.67" width="21.66" height="21.66" fill="#1a3565"/>
<rect x="719.31" y="1592.93" width="21.66" height="21.66" fill="#fbe6da"/>
<rect x="743.57" y="1592.93" width="21.66" height="21.66" fill="#f7b89a"/>
<rect x="767.83" y="1592.93" width="21.66" height="21.66" fill="#e8896d"/>
<rect x="792.09" y="1592.93" width="21.66" height="21.66" fill="#ec9475"/>
<rect x="889.13" y="1592.93" width="21.66" height="21.66" fill="#daeaf2"/>
<rect x="937.65" y="1592.93" width="21.66" height="21.66" fill="#6aacd0"/>
<rect x="961.91" y="1592.93" width="21.66" height="21.66" fill="#4b98c6"/>
<rect x="986.17" y="1592.93" width="21.66" height="21.66" fill="#4b98c6"/>
<rect x="1009.73" y="1592.23" width="23.06" height="23.06" fill="#dfe3ea"/>
<rect x="1010.43" y="1592.93" width="21.66" height="21.66" fill="#1a3565"/>
<rect x="692.2" y="1623.75" width="343.39999999999986" height="15.0" fill="url(#rdbu)" stroke="#231f20" stroke-width="1.6"/>
<line x1="726.5" y1="1635.8" x2="726.5" y2="1638.8" stroke="#231f20" stroke-width="1.2" stroke-linecap="butt"/>
<line x1="760.9" y1="1635.8" x2="760.9" y2="1638.8" stroke="#231f20" stroke-width="1.2" stroke-linecap="butt"/>
<line x1="795.2" y1="1635.8" x2="795.2" y2="1638.8" stroke="#231f20" stroke-width="1.2" stroke-linecap="butt"/>
<line x1="829.6" y1="1635.8" x2="829.6" y2="1638.8" stroke="#231f20" stroke-width="1.2" stroke-linecap="butt"/>
<line x1="863.9" y1="1635.8" x2="863.9" y2="1638.8" stroke="#231f20" stroke-width="1.2" stroke-linecap="butt"/>
<line x1="898.2" y1="1635.8" x2="898.2" y2="1638.8" stroke="#231f20" stroke-width="1.2" stroke-linecap="butt"/>
<line x1="932.6" y1="1635.8" x2="932.6" y2="1638.8" stroke="#231f20" stroke-width="1.2" stroke-linecap="butt"/>
<line x1="966.9" y1="1635.8" x2="966.9" y2="1638.8" stroke="#231f20" stroke-width="1.2" stroke-linecap="butt"/>
<line x1="1001.3" y1="1635.8" x2="1001.3" y2="1638.8" stroke="#231f20" stroke-width="1.2" stroke-linecap="butt"/>
<text x="692.8" y="1656.9" font-size="14" text-anchor="middle" stroke="#231f20" stroke-width="0.3">−1</text>
<text x="725.6" y="1656.9" font-size="14" text-anchor="middle" stroke="#231f20" stroke-width="0.3">−0.8</text>
<text x="757.8" y="1656.9" font-size="14" text-anchor="middle" stroke="#231f20" stroke-width="0.3">−0.6</text>
<text x="790.3" y="1656.9" font-size="14" text-anchor="middle" stroke="#231f20" stroke-width="0.3">−0.4</text>
<text x="822.5" y="1656.9" font-size="14" text-anchor="middle" stroke="#231f20" stroke-width="0.3">−0.2</text>
<text x="854.7" y="1656.9" font-size="14" text-anchor="middle" stroke="#231f20" stroke-width="0.3">0</text>
<text x="888.0" y="1656.9" font-size="14" text-anchor="middle" stroke="#231f20" stroke-width="0.3">0.2</text>
<text x="920.3" y="1656.9" font-size="14" text-anchor="middle" stroke="#231f20" stroke-width="0.3">0.4</text>
<text x="952.2" y="1656.9" font-size="14" text-anchor="middle" stroke="#231f20" stroke-width="0.3">0.6</text>
<text x="984.0" y="1656.9" font-size="14" text-anchor="middle" stroke="#231f20" stroke-width="0.3">0.8</text>
<text x="1034.4" y="1656.9" font-size="14" text-anchor="middle" stroke="#231f20" stroke-width="0.3">1</text>
<text x="780.3" y="1163.6" font-size="25" font-weight="bold" textLength="198.5" lengthAdjust="spacingAndGlyphs">Adenocarcinoma</text>
<rect x="767.20" y="1177.20" width="49.05" height="442.80" fill="none" stroke="#e4603a" stroke-width="2.8"/>
<text x="4.7" y="1766.2" font-size="52" font-weight="bold">e</text>
<rect x="167.80" y="1755.50" width="1304.20" height="19.70" fill="#4cc8f4"/>
<rect x="1498.00" y="1755.50" width="277.90" height="19.70" fill="#808285"/>
<rect x="1798.40" y="1755.50" width="23.80" height="19.70" fill="#c6b99d"/>
<text x="152.5" y="1799.4" font-size="15.5" text-anchor="end" font-style="italic" fill="#2b2b2b" textLength="42.3" lengthAdjust="spacingAndGlyphs">EGFR</text>
<path fill="#d4d5d7" d="M195.4 1782.6h5.8v24.0h-5.8zM204.5 1782.6h5.8v24.0h-5.8zM213.6 1782.6h5.8v24.0h-5.8zM222.7 1782.6h5.8v24.0h-5.8zM231.8 1782.6h5.8v24.0h-5.8zM240.8 1782.6h5.8v24.0h-5.8zM249.9 1782.6h5.8v24.0h-5.8zM259.0 1782.6h5.8v24.0h-5.8zM268.1 1782.6h5.8v24.0h-5.8zM277.2 1782.6h5.8v24.0h-5.8zM286.2 1782.6h5.8v24.0h-5.8zM295.3 1782.6h5.8v24.0h-5.8zM304.4 1782.6h5.8v24.0h-5.8zM313.5 1782.6h5.8v24.0h-5.8zM322.6 1782.6h5.8v24.0h-5.8zM331.6 1782.6h5.8v24.0h-5.8zM340.7 1782.6h5.8v24.0h-5.8zM349.8 1782.6h5.8v24.0h-5.8zM358.9 1782.6h5.8v24.0h-5.8zM368.0 1782.6h5.8v24.0h-5.8zM377.0 1782.6h5.8v24.0h-5.8zM386.1 1782.6h5.8v24.0h-5.8zM395.2 1782.6h5.8v24.0h-5.8zM404.3 1782.6h5.8v24.0h-5.8zM413.4 1782.6h5.8v24.0h-5.8zM422.4 1782.6h5.8v24.0h-5.8zM431.5 1782.6h5.8v24.0h-5.8zM440.6 1782.6h5.8v24.0h-5.8zM449.7 1782.6h5.8v24.0h-5.8zM458.8 1782.6h5.8v24.0h-5.8zM467.8 1782.6h5.8v24.0h-5.8zM476.9 1782.6h5.8v24.0h-5.8zM486.0 1782.6h5.8v24.0h-5.8zM495.1 1782.6h5.8v24.0h-5.8zM504.2 1782.6h5.8v24.0h-5.8zM513.2 1782.6h5.8v24.0h-5.8zM522.3 1782.6h5.8v24.0h-5.8zM531.4 1782.6h5.8v24.0h-5.8zM540.5 1782.6h5.8v24.0h-5.8zM549.6 1782.6h5.8v24.0h-5.8zM558.6 1782.6h5.8v24.0h-5.8zM567.7 1782.6h5.8v24.0h-5.8zM576.8 1782.6h5.8v24.0h-5.8zM585.9 1782.6h5.8v24.0h-5.8zM595.0 1782.6h5.8v24.0h-5.8zM604.0 1782.6h5.8v24.0h-5.8zM613.1 1782.6h5.8v24.0h-5.8zM622.2 1782.6h5.8v24.0h-5.8zM631.3 1782.6h5.8v24.0h-5.8zM640.4 1782.6h5.8v24.0h-5.8zM649.4 1782.6h5.8v24.0h-5.8zM658.5 1782.6h5.8v24.0h-5.8zM667.6 1782.6h5.8v24.0h-5.8zM676.7 1782.6h5.8v24.0h-5.8zM685.8 1782.6h5.8v24.0h-5.8zM694.8 1782.6h5.8v24.0h-5.8zM703.9 1782.6h5.8v24.0h-5.8zM713.0 1782.6h5.8v24.0h-5.8zM722.1 1782.6h5.8v24.0h-5.8zM731.2 1782.6h5.8v24.0h-5.8zM740.2 1782.6h5.8v24.0h-5.8zM749.3 1782.6h5.8v24.0h-5.8zM758.4 1782.6h5.8v24.0h-5.8zM767.5 1782.6h5.8v24.0h-5.8zM776.6 1782.6h5.8v24.0h-5.8zM785.6 1782.6h5.8v24.0h-5.8zM794.7 1782.6h5.8v24.0h-5.8zM803.8 1782.6h5.8v24.0h-5.8zM812.9 1782.6h5.8v24.0h-5.8zM822.0 1782.6h5.8v24.0h-5.8zM831.0 1782.6h5.8v24.0h-5.8zM840.1 1782.6h5.8v24.0h-5.8zM849.2 1782.6h5.8v24.0h-5.8zM858.3 1782.6h5.8v24.0h-5.8zM867.4 1782.6h5.8v24.0h-5.8zM876.4 1782.6h5.8v24.0h-5.8zM885.5 1782.6h5.8v24.0h-5.8zM894.6 1782.6h5.8v24.0h-5.8zM903.7 1782.6h5.8v24.0h-5.8zM912.8 1782.6h5.8v24.0h-5.8zM921.8 1782.6h5.8v24.0h-5.8zM930.9 1782.6h5.8v24.0h-5.8zM940.0 1782.6h5.8v24.0h-5.8zM949.1 1782.6h5.8v24.0h-5.8zM958.2 1782.6h5.8v24.0h-5.8zM967.2 1782.6h5.8v24.0h-5.8zM976.3 1782.6h5.8v24.0h-5.8zM985.4 1782.6h5.8v24.0h-5.8zM994.5 1782.6h5.8v24.0h-5.8zM1003.6 1782.6h5.8v24.0h-5.8zM1012.6 1782.6h5.8v24.0h-5.8zM1021.7 1782.6h5.8v24.0h-5.8zM1030.8 1782.6h5.8v24.0h-5.8zM1039.9 1782.6h5.8v24.0h-5.8zM1049.0 1782.6h5.8v24.0h-5.8zM1058.0 1782.6h5.8v24.0h-5.8zM1067.1 1782.6h5.8v24.0h-5.8zM1076.2 1782.6h5.8v24.0h-5.8zM1085.3 1782.6h5.8v24.0h-5.8zM1094.4 1782.6h5.8v24.0h-5.8zM1103.4 1782.6h5.8v24.0h-5.8zM1112.5 1782.6h5.8v24.0h-5.8zM1121.6 1782.6h5.8v24.0h-5.8zM1130.7 1782.6h5.8v24.0h-5.8zM1139.8 1782.6h5.8v24.0h-5.8zM1148.8 1782.6h5.8v24.0h-5.8zM1157.9 1782.6h5.8v24.0h-5.8zM1167.0 1782.6h5.8v24.0h-5.8zM1176.1 1782.6h5.8v24.0h-5.8zM1185.2 1782.6h5.8v24.0h-5.8zM1194.2 1782.6h5.8v24.0h-5.8zM1203.3 1782.6h5.8v24.0h-5.8zM1212.4 1782.6h5.8v24.0h-5.8zM1221.5 1782.6h5.8v24.0h-5.8zM1230.6 1782.6h5.8v24.0h-5.8zM1239.6 1782.6h5.8v24.0h-5.8zM1248.7 1782.6h5.8v24.0h-5.8zM1257.8 1782.6h5.8v24.0h-5.8zM1266.9 1782.6h5.8v24.0h-5.8zM1276.0 1782.6h5.8v24.0h-5.8zM1285.0 1782.6h5.8v24.0h-5.8zM1294.1 1782.6h5.8v24.0h-5.8zM1303.2 1782.6h5.8v24.0h-5.8zM1312.3 1782.6h5.8v24.0h-5.8zM1321.4 1782.6h5.8v24.0h-5.8zM1330.4 1782.6h5.8v24.0h-5.8zM1339.5 1782.6h5.8v24.0h-5.8zM1348.6 1782.6h5.8v24.0h-5.8zM1357.7 1782.6h5.8v24.0h-5.8zM1366.8 1782.6h5.8v24.0h-5.8zM1375.8 1782.6h5.8v24.0h-5.8zM1384.9 1782.6h5.8v24.0h-5.8zM1394.0 1782.6h5.8v24.0h-5.8zM1403.1 1782.6h5.8v24.0h-5.8zM1412.2 1782.6h5.8v24.0h-5.8zM1421.2 1782.6h5.8v24.0h-5.8zM1430.3 1782.6h5.8v24.0h-5.8zM1439.4 1782.6h5.8v24.0h-5.8zM1448.5 1782.6h5.8v24.0h-5.8zM1457.6 1782.6h5.8v24.0h-5.8zM1466.6 1782.6h5.8v24.0h-5.8zM1498.0 1782.6h5.8v24.0h-5.8zM1507.0 1782.6h5.8v24.0h-5.8zM1516.1 1782.6h5.8v24.0h-5.8zM1525.2 1782.6h5.8v24.0h-5.8zM1534.3 1782.6h5.8v24.0h-5.8zM1543.4 1782.6h5.8v24.0h-5.8zM1552.5 1782.6h5.8v24.0h-5.8zM1561.5 1782.6h5.8v24.0h-5.8zM1570.6 1782.6h5.8v24.0h-5.8zM1579.7 1782.6h5.8v24.0h-5.8zM1588.8 1782.6h5.8v24.0h-5.8zM1597.8 1782.6h5.8v24.0h-5.8zM1606.9 1782.6h5.8v24.0h-5.8zM1616.0 1782.6h5.8v24.0h-5.8zM1625.1 1782.6h5.8v24.0h-5.8zM1634.2 1782.6h5.8v24.0h-5.8zM1643.2 1782.6h5.8v24.0h-5.8zM1652.3 1782.6h5.8v24.0h-5.8zM1661.4 1782.6h5.8v24.0h-5.8zM1670.5 1782.6h5.8v24.0h-5.8zM1679.6 1782.6h5.8v24.0h-5.8zM1688.7 1782.6h5.8v24.0h-5.8zM1697.7 1782.6h5.8v24.0h-5.8zM1706.8 1782.6h5.8v24.0h-5.8zM1715.9 1782.6h5.8v24.0h-5.8zM1725.0 1782.6h5.8v24.0h-5.8zM1734.0 1782.6h5.8v24.0h-5.8zM1743.1 1782.6h5.8v24.0h-5.8zM1752.2 1782.6h5.8v24.0h-5.8zM1761.3 1782.6h5.8v24.0h-5.8zM1770.4 1782.6h5.8v24.0h-5.8zM1798.8 1782.6h5.8v24.0h-5.8zM1807.8 1782.6h5.8v24.0h-5.8zM1816.8 1782.6h5.8v24.0h-5.8z"/>
<path fill="#ec1c24" d="M168.2 1782.6h5.8v24.0h-5.8zM177.3 1782.6h5.8v24.0h-5.8zM186.4 1782.6h5.8v24.0h-5.8z"/>
<path fill="#0f8040" d="M195.4 1790.7h5.8v7.8h-5.8zM1498.0 1790.7h5.8v7.8h-5.8zM1507.0 1790.7h5.8v7.8h-5.8z"/>
<path fill="#231f20" d="M204.5 1790.7h5.8v7.8h-5.8z"/>
<text x="152.5" y="1830.3" font-size="15.5" text-anchor="end" font-style="italic" fill="#2b2b2b" textLength="49.9" lengthAdjust="spacingAndGlyphs">ERBB2</text>
<path fill="#d4d5d7" d="M168.2 1813.5h5.8v24.0h-5.8zM177.3 1813.5h5.8v24.0h-5.8zM186.4 1813.5h5.8v24.0h-5.8zM195.4 1813.5h5.8v24.0h-5.8zM204.5 1813.5h5.8v24.0h-5.8zM240.8 1813.5h5.8v24.0h-5.8zM249.9 1813.5h5.8v24.0h-5.8zM259.0 1813.5h5.8v24.0h-5.8zM268.1 1813.5h5.8v24.0h-5.8zM277.2 1813.5h5.8v24.0h-5.8zM286.2 1813.5h5.8v24.0h-5.8zM295.3 1813.5h5.8v24.0h-5.8zM304.4 1813.5h5.8v24.0h-5.8zM313.5 1813.5h5.8v24.0h-5.8zM322.6 1813.5h5.8v24.0h-5.8zM331.6 1813.5h5.8v24.0h-5.8zM340.7 1813.5h5.8v24.0h-5.8zM349.8 1813.5h5.8v24.0h-5.8zM358.9 1813.5h5.8v24.0h-5.8zM368.0 1813.5h5.8v24.0h-5.8zM377.0 1813.5h5.8v24.0h-5.8zM386.1 1813.5h5.8v24.0h-5.8zM395.2 1813.5h5.8v24.0h-5.8zM404.3 1813.5h5.8v24.0h-5.8zM413.4 1813.5h5.8v24.0h-5.8zM422.4 1813.5h5.8v24.0h-5.8zM431.5 1813.5h5.8v24.0h-5.8zM440.6 1813.5h5.8v24.0h-5.8zM449.7 1813.5h5.8v24.0h-5.8zM458.8 1813.5h5.8v24.0h-5.8zM467.8 1813.5h5.8v24.0h-5.8zM476.9 1813.5h5.8v24.0h-5.8zM486.0 1813.5h5.8v24.0h-5.8zM495.1 1813.5h5.8v24.0h-5.8zM504.2 1813.5h5.8v24.0h-5.8zM513.2 1813.5h5.8v24.0h-5.8zM522.3 1813.5h5.8v24.0h-5.8zM531.4 1813.5h5.8v24.0h-5.8zM540.5 1813.5h5.8v24.0h-5.8zM549.6 1813.5h5.8v24.0h-5.8zM558.6 1813.5h5.8v24.0h-5.8zM567.7 1813.5h5.8v24.0h-5.8zM576.8 1813.5h5.8v24.0h-5.8zM585.9 1813.5h5.8v24.0h-5.8zM595.0 1813.5h5.8v24.0h-5.8zM604.0 1813.5h5.8v24.0h-5.8zM613.1 1813.5h5.8v24.0h-5.8zM622.2 1813.5h5.8v24.0h-5.8zM631.3 1813.5h5.8v24.0h-5.8zM640.4 1813.5h5.8v24.0h-5.8zM649.4 1813.5h5.8v24.0h-5.8zM658.5 1813.5h5.8v24.0h-5.8zM667.6 1813.5h5.8v24.0h-5.8zM676.7 1813.5h5.8v24.0h-5.8zM685.8 1813.5h5.8v24.0h-5.8zM694.8 1813.5h5.8v24.0h-5.8zM703.9 1813.5h5.8v24.0h-5.8zM713.0 1813.5h5.8v24.0h-5.8zM722.1 1813.5h5.8v24.0h-5.8zM731.2 1813.5h5.8v24.0h-5.8zM740.2 1813.5h5.8v24.0h-5.8zM749.3 1813.5h5.8v24.0h-5.8zM758.4 1813.5h5.8v24.0h-5.8zM767.5 1813.5h5.8v24.0h-5.8zM776.6 1813.5h5.8v24.0h-5.8zM785.6 1813.5h5.8v24.0h-5.8zM794.7 1813.5h5.8v24.0h-5.8zM803.8 1813.5h5.8v24.0h-5.8zM812.9 1813.5h5.8v24.0h-5.8zM822.0 1813.5h5.8v24.0h-5.8zM831.0 1813.5h5.8v24.0h-5.8zM840.1 1813.5h5.8v24.0h-5.8zM849.2 1813.5h5.8v24.0h-5.8zM858.3 1813.5h5.8v24.0h-5.8zM867.4 1813.5h5.8v24.0h-5.8zM876.4 1813.5h5.8v24.0h-5.8zM885.5 1813.5h5.8v24.0h-5.8zM894.6 1813.5h5.8v24.0h-5.8zM903.7 1813.5h5.8v24.0h-5.8zM912.8 1813.5h5.8v24.0h-5.8zM921.8 1813.5h5.8v24.0h-5.8zM930.9 1813.5h5.8v24.0h-5.8zM940.0 1813.5h5.8v24.0h-5.8zM949.1 1813.5h5.8v24.0h-5.8zM958.2 1813.5h5.8v24.0h-5.8zM967.2 1813.5h5.8v24.0h-5.8zM976.3 1813.5h5.8v24.0h-5.8zM985.4 1813.5h5.8v24.0h-5.8zM994.5 1813.5h5.8v24.0h-5.8zM1003.6 1813.5h5.8v24.0h-5.8zM1012.6 1813.5h5.8v24.0h-5.8zM1021.7 1813.5h5.8v24.0h-5.8zM1030.8 1813.5h5.8v24.0h-5.8zM1039.9 1813.5h5.8v24.0h-5.8zM1049.0 1813.5h5.8v24.0h-5.8zM1058.0 1813.5h5.8v24.0h-5.8zM1067.1 1813.5h5.8v24.0h-5.8zM1076.2 1813.5h5.8v24.0h-5.8zM1085.3 1813.5h5.8v24.0h-5.8zM1094.4 1813.5h5.8v24.0h-5.8zM1103.4 1813.5h5.8v24.0h-5.8zM1112.5 1813.5h5.8v24.0h-5.8zM1121.6 1813.5h5.8v24.0h-5.8zM1130.7 1813.5h5.8v24.0h-5.8zM1139.8 1813.5h5.8v24.0h-5.8zM1148.8 1813.5h5.8v24.0h-5.8zM1157.9 1813.5h5.8v24.0h-5.8zM1167.0 1813.5h5.8v24.0h-5.8zM1176.1 1813.5h5.8v24.0h-5.8zM1185.2 1813.5h5.8v24.0h-5.8zM1194.2 1813.5h5.8v24.0h-5.8zM1203.3 1813.5h5.8v24.0h-5.8zM1212.4 1813.5h5.8v24.0h-5.8zM1221.5 1813.5h5.8v24.0h-5.8zM1230.6 1813.5h5.8v24.0h-5.8zM1239.6 1813.5h5.8v24.0h-5.8zM1248.7 1813.5h5.8v24.0h-5.8zM1257.8 1813.5h5.8v24.0h-5.8zM1266.9 1813.5h5.8v24.0h-5.8zM1276.0 1813.5h5.8v24.0h-5.8zM1285.0 1813.5h5.8v24.0h-5.8zM1294.1 1813.5h5.8v24.0h-5.8zM1303.2 1813.5h5.8v24.0h-5.8zM1312.3 1813.5h5.8v24.0h-5.8zM1321.4 1813.5h5.8v24.0h-5.8zM1330.4 1813.5h5.8v24.0h-5.8zM1339.5 1813.5h5.8v24.0h-5.8zM1348.6 1813.5h5.8v24.0h-5.8zM1357.7 1813.5h5.8v24.0h-5.8zM1366.8 1813.5h5.8v24.0h-5.8zM1375.8 1813.5h5.8v24.0h-5.8zM1384.9 1813.5h5.8v24.0h-5.8zM1394.0 1813.5h5.8v24.0h-5.8zM1403.1 1813.5h5.8v24.0h-5.8zM1412.2 1813.5h5.8v24.0h-5.8zM1421.2 1813.5h5.8v24.0h-5.8zM1430.3 1813.5h5.8v24.0h-5.8zM1439.4 1813.5h5.8v24.0h-5.8zM1448.5 1813.5h5.8v24.0h-5.8zM1457.6 1813.5h5.8v24.0h-5.8zM1466.6 1813.5h5.8v24.0h-5.8zM1498.0 1813.5h5.8v24.0h-5.8zM1507.0 1813.5h5.8v24.0h-5.8zM1534.3 1813.5h5.8v24.0h-5.8zM1543.4 1813.5h5.8v24.0h-5.8zM1552.5 1813.5h5.8v24.0h-5.8zM1561.5 1813.5h5.8v24.0h-5.8zM1570.6 1813.5h5.8v24.0h-5.8zM1579.7 1813.5h5.8v24.0h-5.8zM1588.8 1813.5h5.8v24.0h-5.8zM1597.8 1813.5h5.8v24.0h-5.8zM1606.9 1813.5h5.8v24.0h-5.8zM1616.0 1813.5h5.8v24.0h-5.8zM1625.1 1813.5h5.8v24.0h-5.8zM1634.2 1813.5h5.8v24.0h-5.8zM1643.2 1813.5h5.8v24.0h-5.8zM1652.3 1813.5h5.8v24.0h-5.8zM1661.4 1813.5h5.8v24.0h-5.8zM1670.5 1813.5h5.8v24.0h-5.8zM1679.6 1813.5h5.8v24.0h-5.8zM1688.7 1813.5h5.8v24.0h-5.8zM1697.7 1813.5h5.8v24.0h-5.8zM1706.8 1813.5h5.8v24.0h-5.8zM1715.9 1813.5h5.8v24.0h-5.8zM1725.0 1813.5h5.8v24.0h-5.8zM1734.0 1813.5h5.8v24.0h-5.8zM1743.1 1813.5h5.8v24.0h-5.8zM1752.2 1813.5h5.8v24.0h-5.8zM1761.3 1813.5h5.8v24.0h-5.8zM1770.4 1813.5h5.8v24.0h-5.8zM1798.8 1813.5h5.8v24.0h-5.8zM1807.8 1813.5h5.8v24.0h-5.8zM1816.8 1813.5h5.8v24.0h-5.8z"/>
<path fill="#ec1c24" d="M213.6 1813.5h5.8v24.0h-5.8zM222.7 1813.5h5.8v24.0h-5.8zM231.8 1813.5h5.8v24.0h-5.8zM1516.1 1813.5h5.8v24.0h-5.8zM1525.2 1813.5h5.8v24.0h-5.8z"/>
<path fill="#0f8040" d="M240.8 1821.6h5.8v7.8h-5.8zM249.9 1821.6h5.8v7.8h-5.8zM259.0 1821.6h5.8v7.8h-5.8zM1534.3 1821.6h5.8v7.8h-5.8zM1543.4 1821.6h5.8v7.8h-5.8zM1552.5 1821.6h5.8v7.8h-5.8zM1561.5 1821.6h5.8v7.8h-5.8zM1570.6 1821.6h5.8v7.8h-5.8zM1579.7 1821.6h5.8v7.8h-5.8z"/>
<text x="152.5" y="1861.3" font-size="15.5" text-anchor="end" font-style="italic" fill="#2b2b2b" textLength="49.9" lengthAdjust="spacingAndGlyphs">ERBB3</text>
<path fill="#d4d5d7" d="M168.2 1844.5h5.8v24.0h-5.8zM177.3 1844.5h5.8v24.0h-5.8zM186.4 1844.5h5.8v24.0h-5.8zM195.4 1844.5h5.8v24.0h-5.8zM204.5 1844.5h5.8v24.0h-5.8zM213.6 1844.5h5.8v24.0h-5.8zM222.7 1844.5h5.8v24.0h-5.8zM231.8 1844.5h5.8v24.0h-5.8zM240.8 1844.5h5.8v24.0h-5.8zM249.9 1844.5h5.8v24.0h-5.8zM259.0 1844.5h5.8v24.0h-5.8zM277.2 1844.5h5.8v24.0h-5.8zM286.2 1844.5h5.8v24.0h-5.8zM295.3 1844.5h5.8v24.0h-5.8zM304.4 1844.5h5.8v24.0h-5.8zM313.5 1844.5h5.8v24.0h-5.8zM322.6 1844.5h5.8v24.0h-5.8zM331.6 1844.5h5.8v24.0h-5.8zM340.7 1844.5h5.8v24.0h-5.8zM349.8 1844.5h5.8v24.0h-5.8zM358.9 1844.5h5.8v24.0h-5.8zM368.0 1844.5h5.8v24.0h-5.8zM377.0 1844.5h5.8v24.0h-5.8zM386.1 1844.5h5.8v24.0h-5.8zM395.2 1844.5h5.8v24.0h-5.8zM404.3 1844.5h5.8v24.0h-5.8zM413.4 1844.5h5.8v24.0h-5.8zM422.4 1844.5h5.8v24.0h-5.8zM431.5 1844.5h5.8v24.0h-5.8zM440.6 1844.5h5.8v24.0h-5.8zM449.7 1844.5h5.8v24.0h-5.8zM458.8 1844.5h5.8v24.0h-5.8zM467.8 1844.5h5.8v24.0h-5.8zM476.9 1844.5h5.8v24.0h-5.8zM486.0 1844.5h5.8v24.0h-5.8zM495.1 1844.5h5.8v24.0h-5.8zM504.2 1844.5h5.8v24.0h-5.8zM513.2 1844.5h5.8v24.0h-5.8zM522.3 1844.5h5.8v24.0h-5.8zM531.4 1844.5h5.8v24.0h-5.8zM540.5 1844.5h5.8v24.0h-5.8zM549.6 1844.5h5.8v24.0h-5.8zM558.6 1844.5h5.8v24.0h-5.8zM567.7 1844.5h5.8v24.0h-5.8zM576.8 1844.5h5.8v24.0h-5.8zM585.9 1844.5h5.8v24.0h-5.8zM595.0 1844.5h5.8v24.0h-5.8zM604.0 1844.5h5.8v24.0h-5.8zM613.1 1844.5h5.8v24.0h-5.8zM622.2 1844.5h5.8v24.0h-5.8zM631.3 1844.5h5.8v24.0h-5.8zM640.4 1844.5h5.8v24.0h-5.8zM649.4 1844.5h5.8v24.0h-5.8zM658.5 1844.5h5.8v24.0h-5.8zM667.6 1844.5h5.8v24.0h-5.8zM676.7 1844.5h5.8v24.0h-5.8zM685.8 1844.5h5.8v24.0h-5.8zM694.8 1844.5h5.8v24.0h-5.8zM703.9 1844.5h5.8v24.0h-5.8zM713.0 1844.5h5.8v24.0h-5.8zM722.1 1844.5h5.8v24.0h-5.8zM731.2 1844.5h5.8v24.0h-5.8zM740.2 1844.5h5.8v24.0h-5.8zM749.3 1844.5h5.8v24.0h-5.8zM758.4 1844.5h5.8v24.0h-5.8zM767.5 1844.5h5.8v24.0h-5.8zM776.6 1844.5h5.8v24.0h-5.8zM785.6 1844.5h5.8v24.0h-5.8zM794.7 1844.5h5.8v24.0h-5.8zM803.8 1844.5h5.8v24.0h-5.8zM812.9 1844.5h5.8v24.0h-5.8zM822.0 1844.5h5.8v24.0h-5.8zM831.0 1844.5h5.8v24.0h-5.8zM840.1 1844.5h5.8v24.0h-5.8zM849.2 1844.5h5.8v24.0h-5.8zM858.3 1844.5h5.8v24.0h-5.8zM867.4 1844.5h5.8v24.0h-5.8zM876.4 1844.5h5.8v24.0h-5.8zM885.5 1844.5h5.8v24.0h-5.8zM894.6 1844.5h5.8v24.0h-5.8zM903.7 1844.5h5.8v24.0h-5.8zM912.8 1844.5h5.8v24.0h-5.8zM921.8 1844.5h5.8v24.0h-5.8zM930.9 1844.5h5.8v24.0h-5.8zM940.0 1844.5h5.8v24.0h-5.8zM949.1 1844.5h5.8v24.0h-5.8zM958.2 1844.5h5.8v24.0h-5.8zM967.2 1844.5h5.8v24.0h-5.8zM976.3 1844.5h5.8v24.0h-5.8zM985.4 1844.5h5.8v24.0h-5.8zM994.5 1844.5h5.8v24.0h-5.8zM1003.6 1844.5h5.8v24.0h-5.8zM1012.6 1844.5h5.8v24.0h-5.8zM1021.7 1844.5h5.8v24.0h-5.8zM1030.8 1844.5h5.8v24.0h-5.8zM1039.9 1844.5h5.8v24.0h-5.8zM1049.0 1844.5h5.8v24.0h-5.8zM1058.0 1844.5h5.8v24.0h-5.8zM1067.1 1844.5h5.8v24.0h-5.8zM1076.2 1844.5h5.8v24.0h-5.8zM1085.3 1844.5h5.8v24.0h-5.8zM1094.4 1844.5h5.8v24.0h-5.8zM1103.4 1844.5h5.8v24.0h-5.8zM1112.5 1844.5h5.8v24.0h-5.8zM1121.6 1844.5h5.8v24.0h-5.8zM1130.7 1844.5h5.8v24.0h-5.8zM1139.8 1844.5h5.8v24.0h-5.8zM1148.8 1844.5h5.8v24.0h-5.8zM1157.9 1844.5h5.8v24.0h-5.8zM1167.0 1844.5h5.8v24.0h-5.8zM1176.1 1844.5h5.8v24.0h-5.8zM1185.2 1844.5h5.8v24.0h-5.8zM1194.2 1844.5h5.8v24.0h-5.8zM1203.3 1844.5h5.8v24.0h-5.8zM1212.4 1844.5h5.8v24.0h-5.8zM1221.5 1844.5h5.8v24.0h-5.8zM1230.6 1844.5h5.8v24.0h-5.8zM1239.6 1844.5h5.8v24.0h-5.8zM1248.7 1844.5h5.8v24.0h-5.8zM1257.8 1844.5h5.8v24.0h-5.8zM1266.9 1844.5h5.8v24.0h-5.8zM1276.0 1844.5h5.8v24.0h-5.8zM1285.0 1844.5h5.8v24.0h-5.8zM1294.1 1844.5h5.8v24.0h-5.8zM1303.2 1844.5h5.8v24.0h-5.8zM1312.3 1844.5h5.8v24.0h-5.8zM1321.4 1844.5h5.8v24.0h-5.8zM1330.4 1844.5h5.8v24.0h-5.8zM1339.5 1844.5h5.8v24.0h-5.8zM1348.6 1844.5h5.8v24.0h-5.8zM1357.7 1844.5h5.8v24.0h-5.8zM1366.8 1844.5h5.8v24.0h-5.8zM1375.8 1844.5h5.8v24.0h-5.8zM1384.9 1844.5h5.8v24.0h-5.8zM1394.0 1844.5h5.8v24.0h-5.8zM1403.1 1844.5h5.8v24.0h-5.8zM1412.2 1844.5h5.8v24.0h-5.8zM1421.2 1844.5h5.8v24.0h-5.8zM1430.3 1844.5h5.8v24.0h-5.8zM1439.4 1844.5h5.8v24.0h-5.8zM1448.5 1844.5h5.8v24.0h-5.8zM1457.6 1844.5h5.8v24.0h-5.8zM1466.6 1844.5h5.8v24.0h-5.8zM1498.0 1844.5h5.8v24.0h-5.8zM1507.0 1844.5h5.8v24.0h-5.8zM1516.1 1844.5h5.8v24.0h-5.8zM1525.2 1844.5h5.8v24.0h-5.8zM1534.3 1844.5h5.8v24.0h-5.8zM1543.4 1844.5h5.8v24.0h-5.8zM1552.5 1844.5h5.8v24.0h-5.8zM1561.5 1844.5h5.8v24.0h-5.8zM1570.6 1844.5h5.8v24.0h-5.8zM1579.7 1844.5h5.8v24.0h-5.8zM1588.8 1844.5h5.8v24.0h-5.8zM1597.8 1844.5h5.8v24.0h-5.8zM1606.9 1844.5h5.8v24.0h-5.8zM1616.0 1844.5h5.8v24.0h-5.8zM1625.1 1844.5h5.8v24.0h-5.8zM1634.2 1844.5h5.8v24.0h-5.8zM1643.2 1844.5h5.8v24.0h-5.8zM1652.3 1844.5h5.8v24.0h-5.8zM1661.4 1844.5h5.8v24.0h-5.8zM1670.5 1844.5h5.8v24.0h-5.8zM1679.6 1844.5h5.8v24.0h-5.8zM1688.7 1844.5h5.8v24.0h-5.8zM1697.7 1844.5h5.8v24.0h-5.8zM1706.8 1844.5h5.8v24.0h-5.8zM1715.9 1844.5h5.8v24.0h-5.8zM1725.0 1844.5h5.8v24.0h-5.8zM1734.0 1844.5h5.8v24.0h-5.8zM1743.1 1844.5h5.8v24.0h-5.8zM1752.2 1844.5h5.8v24.0h-5.8zM1761.3 1844.5h5.8v24.0h-5.8zM1770.4 1844.5h5.8v24.0h-5.8zM1798.8 1844.5h5.8v24.0h-5.8zM1807.8 1844.5h5.8v24.0h-5.8zM1816.8 1844.5h5.8v24.0h-5.8z"/>
<path fill="#ec1c24" d="M268.1 1844.5h5.8v24.0h-5.8z"/>
<path fill="#0f8040" d="M277.2 1852.6h5.8v7.8h-5.8zM286.2 1852.6h5.8v7.8h-5.8zM295.3 1852.6h5.8v7.8h-5.8zM304.4 1852.6h5.8v7.8h-5.8zM313.5 1852.6h5.8v7.8h-5.8zM1498.0 1852.6h5.8v7.8h-5.8zM1516.1 1852.6h5.8v7.8h-5.8zM1534.3 1852.6h5.8v7.8h-5.8zM1543.4 1852.6h5.8v7.8h-5.8zM1552.5 1852.6h5.8v7.8h-5.8z"/>
<text x="152.5" y="1892.2" font-size="15.5" text-anchor="end" font-style="italic" fill="#2b2b2b" textLength="54.1" lengthAdjust="spacingAndGlyphs">PIK3CA</text>
<path fill="#d4d5d7" d="M186.4 1875.4h5.8v24.0h-5.8zM195.4 1875.4h5.8v24.0h-5.8zM204.5 1875.4h5.8v24.0h-5.8zM222.7 1875.4h5.8v24.0h-5.8zM231.8 1875.4h5.8v24.0h-5.8zM240.8 1875.4h5.8v24.0h-5.8zM249.9 1875.4h5.8v24.0h-5.8zM259.0 1875.4h5.8v24.0h-5.8zM286.2 1875.4h5.8v24.0h-5.8zM295.3 1875.4h5.8v24.0h-5.8zM304.4 1875.4h5.8v24.0h-5.8zM313.5 1875.4h5.8v24.0h-5.8zM522.3 1875.4h5.8v24.0h-5.8zM531.4 1875.4h5.8v24.0h-5.8zM540.5 1875.4h5.8v24.0h-5.8zM549.6 1875.4h5.8v24.0h-5.8zM558.6 1875.4h5.8v24.0h-5.8zM567.7 1875.4h5.8v24.0h-5.8zM576.8 1875.4h5.8v24.0h-5.8zM585.9 1875.4h5.8v24.0h-5.8zM595.0 1875.4h5.8v24.0h-5.8zM604.0 1875.4h5.8v24.0h-5.8zM613.1 1875.4h5.8v24.0h-5.8zM622.2 1875.4h5.8v24.0h-5.8zM631.3 1875.4h5.8v24.0h-5.8zM640.4 1875.4h5.8v24.0h-5.8zM649.4 1875.4h5.8v24.0h-5.8zM658.5 1875.4h5.8v24.0h-5.8zM667.6 1875.4h5.8v24.0h-5.8zM676.7 1875.4h5.8v24.0h-5.8zM685.8 1875.4h5.8v24.0h-5.8zM694.8 1875.4h5.8v24.0h-5.8zM703.9 1875.4h5.8v24.0h-5.8zM713.0 1875.4h5.8v24.0h-5.8zM722.1 1875.4h5.8v24.0h-5.8zM731.2 1875.4h5.8v24.0h-5.8zM740.2 1875.4h5.8v24.0h-5.8zM749.3 1875.4h5.8v24.0h-5.8zM758.4 1875.4h5.8v24.0h-5.8zM767.5 1875.4h5.8v24.0h-5.8zM776.6 1875.4h5.8v24.0h-5.8zM785.6 1875.4h5.8v24.0h-5.8zM794.7 1875.4h5.8v24.0h-5.8zM803.8 1875.4h5.8v24.0h-5.8zM812.9 1875.4h5.8v24.0h-5.8zM822.0 1875.4h5.8v24.0h-5.8zM831.0 1875.4h5.8v24.0h-5.8zM840.1 1875.4h5.8v24.0h-5.8zM849.2 1875.4h5.8v24.0h-5.8zM858.3 1875.4h5.8v24.0h-5.8zM867.4 1875.4h5.8v24.0h-5.8zM876.4 1875.4h5.8v24.0h-5.8zM885.5 1875.4h5.8v24.0h-5.8zM894.6 1875.4h5.8v24.0h-5.8zM903.7 1875.4h5.8v24.0h-5.8zM912.8 1875.4h5.8v24.0h-5.8zM921.8 1875.4h5.8v24.0h-5.8zM930.9 1875.4h5.8v24.0h-5.8zM940.0 1875.4h5.8v24.0h-5.8zM949.1 1875.4h5.8v24.0h-5.8zM958.2 1875.4h5.8v24.0h-5.8zM967.2 1875.4h5.8v24.0h-5.8zM976.3 1875.4h5.8v24.0h-5.8zM985.4 1875.4h5.8v24.0h-5.8zM994.5 1875.4h5.8v24.0h-5.8zM1003.6 1875.4h5.8v24.0h-5.8zM1012.6 1875.4h5.8v24.0h-5.8zM1021.7 1875.4h5.8v24.0h-5.8zM1030.8 1875.4h5.8v24.0h-5.8zM1039.9 1875.4h5.8v24.0h-5.8zM1049.0 1875.4h5.8v24.0h-5.8zM1058.0 1875.4h5.8v24.0h-5.8zM1067.1 1875.4h5.8v24.0h-5.8zM1076.2 1875.4h5.8v24.0h-5.8zM1085.3 1875.4h5.8v24.0h-5.8zM1094.4 1875.4h5.8v24.0h-5.8zM1103.4 1875.4h5.8v24.0h-5.8zM1112.5 1875.4h5.8v24.0h-5.8zM1121.6 1875.4h5.8v24.0h-5.8zM1130.7 1875.4h5.8v24.0h-5.8zM1139.8 1875.4h5.8v24.0h-5.8zM1148.8 1875.4h5.8v24.0h-5.8zM1157.9 1875.4h5.8v24.0h-5.8zM1167.0 1875.4h5.8v24.0h-5.8zM1176.1 1875.4h5.8v24.0h-5.8zM1185.2 1875.4h5.8v24.0h-5.8zM1194.2 1875.4h5.8v24.0h-5.8zM1203.3 1875.4h5.8v24.0h-5.8zM1212.4 1875.4h5.8v24.0h-5.8zM1221.5 1875.4h5.8v24.0h-5.8zM1230.6 1875.4h5.8v24.0h-5.8zM1239.6 1875.4h5.8v24.0h-5.8zM1248.7 1875.4h5.8v24.0h-5.8zM1257.8 1875.4h5.8v24.0h-5.8zM1266.9 1875.4h5.8v24.0h-5.8zM1276.0 1875.4h5.8v24.0h-5.8zM1285.0 1875.4h5.8v24.0h-5.8zM1294.1 1875.4h5.8v24.0h-5.8zM1303.2 1875.4h5.8v24.0h-5.8zM1312.3 1875.4h5.8v24.0h-5.8zM1321.4 1875.4h5.8v24.0h-5.8zM1330.4 1875.4h5.8v24.0h-5.8zM1339.5 1875.4h5.8v24.0h-5.8zM1348.6 1875.4h5.8v24.0h-5.8zM1357.7 1875.4h5.8v24.0h-5.8zM1366.8 1875.4h5.8v24.0h-5.8zM1375.8 1875.4h5.8v24.0h-5.8zM1384.9 1875.4h5.8v24.0h-5.8zM1394.0 1875.4h5.8v24.0h-5.8zM1403.1 1875.4h5.8v24.0h-5.8zM1412.2 1875.4h5.8v24.0h-5.8zM1421.2 1875.4h5.8v24.0h-5.8zM1430.3 1875.4h5.8v24.0h-5.8zM1439.4 1875.4h5.8v24.0h-5.8zM1448.5 1875.4h5.8v24.0h-5.8zM1457.6 1875.4h5.8v24.0h-5.8zM1466.6 1875.4h5.8v24.0h-5.8zM1498.0 1875.4h5.8v24.0h-5.8zM1516.1 1875.4h5.8v24.0h-5.8zM1525.2 1875.4h5.8v24.0h-5.8zM1534.3 1875.4h5.8v24.0h-5.8zM1543.4 1875.4h5.8v24.0h-5.8zM1552.5 1875.4h5.8v24.0h-5.8zM1570.6 1875.4h5.8v24.0h-5.8zM1579.7 1875.4h5.8v24.0h-5.8zM1616.0 1875.4h5.8v24.0h-5.8zM1625.1 1875.4h5.8v24.0h-5.8zM1634.2 1875.4h5.8v24.0h-5.8zM1643.2 1875.4h5.8v24.0h-5.8zM1652.3 1875.4h5.8v24.0h-5.8zM1661.4 1875.4h5.8v24.0h-5.8zM1670.5 1875.4h5.8v24.0h-5.8zM1679.6 1875.4h5.8v24.0h-5.8zM1688.7 1875.4h5.8v24.0h-5.8zM1697.7 1875.4h5.8v24.0h-5.8zM1706.8 1875.4h5.8v24.0h-5.8zM1715.9 1875.4h5.8v24.0h-5.8zM1725.0 1875.4h5.8v24.0h-5.8zM1734.0 1875.4h5.8v24.0h-5.8zM1743.1 1875.4h5.8v24.0h-5.8zM1752.2 1875.4h5.8v24.0h-5.8zM1761.3 1875.4h5.8v24.0h-5.8zM1770.4 1875.4h5.8v24.0h-5.8zM1807.8 1875.4h5.8v24.0h-5.8zM1816.8 1875.4h5.8v24.0h-5.8z"/>
<path fill="#ec1c24" d="M168.2 1875.4h5.8v24.0h-5.8zM177.3 1875.4h5.8v24.0h-5.8zM213.6 1875.4h5.8v24.0h-5.8zM268.1 1875.4h5.8v24.0h-5.8zM277.2 1875.4h5.8v24.0h-5.8zM322.6 1875.4h5.8v24.0h-5.8zM331.6 1875.4h5.8v24.0h-5.8zM340.7 1875.4h5.8v24.0h-5.8zM349.8 1875.4h5.8v24.0h-5.8zM358.9 1875.4h5.8v24.0h-5.8zM368.0 1875.4h5.8v24.0h-5.8zM377.0 1875.4h5.8v24.0h-5.8zM386.1 1875.4h5.8v24.0h-5.8zM395.2 1875.4h5.8v24.0h-5.8zM404.3 1875.4h5.8v24.0h-5.8zM413.4 1875.4h5.8v24.0h-5.8zM422.4 1875.4h5.8v24.0h-5.8zM431.5 1875.4h5.8v24.0h-5.8zM440.6 1875.4h5.8v24.0h-5.8zM449.7 1875.4h5.8v24.0h-5.8zM458.8 1875.4h5.8v24.0h-5.8zM467.8 1875.4h5.8v24.0h-5.8zM476.9 1875.4h5.8v24.0h-5.8zM486.0 1875.4h5.8v24.0h-5.8zM495.1 1875.4h5.8v24.0h-5.8zM504.2 1875.4h5.8v24.0h-5.8zM513.2 1875.4h5.8v24.0h-5.8zM1507.0 1875.4h5.8v24.0h-5.8zM1561.5 1875.4h5.8v24.0h-5.8zM1588.8 1875.4h5.8v24.0h-5.8zM1597.8 1875.4h5.8v24.0h-5.8zM1606.9 1875.4h5.8v24.0h-5.8zM1798.8 1875.4h5.8v24.0h-5.8z"/>
<path fill="#0f8040" d="M195.4 1883.5h5.8v7.8h-5.8zM240.8 1883.5h5.8v7.8h-5.8zM249.9 1883.5h5.8v7.8h-5.8zM286.2 1883.5h5.8v7.8h-5.8zM295.3 1883.5h5.8v7.8h-5.8zM322.6 1883.5h5.8v7.8h-5.8zM331.6 1883.5h5.8v7.8h-5.8zM522.3 1883.5h5.8v7.8h-5.8zM531.4 1883.5h5.8v7.8h-5.8zM540.5 1883.5h5.8v7.8h-5.8zM549.6 1883.5h5.8v7.8h-5.8zM558.6 1883.5h5.8v7.8h-5.8zM567.7 1883.5h5.8v7.8h-5.8zM576.8 1883.5h5.8v7.8h-5.8zM585.9 1883.5h5.8v7.8h-5.8zM595.0 1883.5h5.8v7.8h-5.8zM604.0 1883.5h5.8v7.8h-5.8zM613.1 1883.5h5.8v7.8h-5.8zM622.2 1883.5h5.8v7.8h-5.8zM631.3 1883.5h5.8v7.8h-5.8zM640.4 1883.5h5.8v7.8h-5.8zM649.4 1883.5h5.8v7.8h-5.8zM658.5 1883.5h5.8v7.8h-5.8zM667.6 1883.5h5.8v7.8h-5.8zM676.7 1883.5h5.8v7.8h-5.8zM685.8 1883.5h5.8v7.8h-5.8zM694.8 1883.5h5.8v7.8h-5.8zM703.9 1883.5h5.8v7.8h-5.8zM713.0 1883.5h5.8v7.8h-5.8zM722.1 1883.5h5.8v7.8h-5.8zM731.2 1883.5h5.8v7.8h-5.8zM740.2 1883.5h5.8v7.8h-5.8zM749.3 1883.5h5.8v7.8h-5.8zM758.4 1883.5h5.8v7.8h-5.8zM767.5 1883.5h5.8v7.8h-5.8zM776.6 1883.5h5.8v7.8h-5.8zM1534.3 1883.5h5.8v7.8h-5.8zM1561.5 1883.5h5.8v7.8h-5.8zM1570.6 1883.5h5.8v7.8h-5.8zM1588.8 1883.5h5.8v7.8h-5.8zM1597.8 1883.5h5.8v7.8h-5.8zM1616.0 1883.5h5.8v7.8h-5.8zM1625.1 1883.5h5.8v7.8h-5.8zM1634.2 1883.5h5.8v7.8h-5.8zM1643.2 1883.5h5.8v7.8h-5.8zM1652.3 1883.5h5.8v7.8h-5.8zM1661.4 1883.5h5.8v7.8h-5.8z"/>
<text x="152.5" y="1923.1" font-size="15.5" text-anchor="end" font-style="italic" fill="#2b2b2b" textLength="40.6" lengthAdjust="spacingAndGlyphs">PTEN</text>
<path fill="#d4d5d7" d="M168.2 1906.3h5.8v24.0h-5.8zM177.3 1906.3h5.8v24.0h-5.8zM186.4 1906.3h5.8v24.0h-5.8zM195.4 1906.3h5.8v24.0h-5.8zM204.5 1906.3h5.8v24.0h-5.8zM213.6 1906.3h5.8v24.0h-5.8zM222.7 1906.3h5.8v24.0h-5.8zM231.8 1906.3h5.8v24.0h-5.8zM240.8 1906.3h5.8v24.0h-5.8zM249.9 1906.3h5.8v24.0h-5.8zM259.0 1906.3h5.8v24.0h-5.8zM268.1 1906.3h5.8v24.0h-5.8zM277.2 1906.3h5.8v24.0h-5.8zM286.2 1906.3h5.8v24.0h-5.8zM295.3 1906.3h5.8v24.0h-5.8zM304.4 1906.3h5.8v24.0h-5.8zM313.5 1906.3h5.8v24.0h-5.8zM322.6 1906.3h5.8v24.0h-5.8zM331.6 1906.3h5.8v24.0h-5.8zM377.0 1906.3h5.8v24.0h-5.8zM386.1 1906.3h5.8v24.0h-5.8zM395.2 1906.3h5.8v24.0h-5.8zM404.3 1906.3h5.8v24.0h-5.8zM413.4 1906.3h5.8v24.0h-5.8zM422.4 1906.3h5.8v24.0h-5.8zM431.5 1906.3h5.8v24.0h-5.8zM440.6 1906.3h5.8v24.0h-5.8zM449.7 1906.3h5.8v24.0h-5.8zM458.8 1906.3h5.8v24.0h-5.8zM467.8 1906.3h5.8v24.0h-5.8zM476.9 1906.3h5.8v24.0h-5.8zM486.0 1906.3h5.8v24.0h-5.8zM495.1 1906.3h5.8v24.0h-5.8zM504.2 1906.3h5.8v24.0h-5.8zM513.2 1906.3h5.8v24.0h-5.8zM522.3 1906.3h5.8v24.0h-5.8zM531.4 1906.3h5.8v24.0h-5.8zM540.5 1906.3h5.8v24.0h-5.8zM549.6 1906.3h5.8v24.0h-5.8zM558.6 1906.3h5.8v24.0h-5.8zM567.7 1906.3h5.8v24.0h-5.8zM576.8 1906.3h5.8v24.0h-5.8zM585.9 1906.3h5.8v24.0h-5.8zM595.0 1906.3h5.8v24.0h-5.8zM604.0 1906.3h5.8v24.0h-5.8zM613.1 1906.3h5.8v24.0h-5.8zM622.2 1906.3h5.8v24.0h-5.8zM631.3 1906.3h5.8v24.0h-5.8zM640.4 1906.3h5.8v24.0h-5.8zM649.4 1906.3h5.8v24.0h-5.8zM658.5 1906.3h5.8v24.0h-5.8zM667.6 1906.3h5.8v24.0h-5.8zM676.7 1906.3h5.8v24.0h-5.8zM685.8 1906.3h5.8v24.0h-5.8zM694.8 1906.3h5.8v24.0h-5.8zM703.9 1906.3h5.8v24.0h-5.8zM713.0 1906.3h5.8v24.0h-5.8zM722.1 1906.3h5.8v24.0h-5.8zM731.2 1906.3h5.8v24.0h-5.8zM740.2 1906.3h5.8v24.0h-5.8zM749.3 1906.3h5.8v24.0h-5.8zM758.4 1906.3h5.8v24.0h-5.8zM767.5 1906.3h5.8v24.0h-5.8zM776.6 1906.3h5.8v24.0h-5.8zM822.0 1906.3h5.8v24.0h-5.8zM831.0 1906.3h5.8v24.0h-5.8zM840.1 1906.3h5.8v24.0h-5.8zM849.2 1906.3h5.8v24.0h-5.8zM858.3 1906.3h5.8v24.0h-5.8zM867.4 1906.3h5.8v24.0h-5.8zM876.4 1906.3h5.8v24.0h-5.8zM885.5 1906.3h5.8v24.0h-5.8zM894.6 1906.3h5.8v24.0h-5.8zM903.7 1906.3h5.8v24.0h-5.8zM912.8 1906.3h5.8v24.0h-5.8zM921.8 1906.3h5.8v24.0h-5.8zM930.9 1906.3h5.8v24.0h-5.8zM940.0 1906.3h5.8v24.0h-5.8zM949.1 1906.3h5.8v24.0h-5.8zM958.2 1906.3h5.8v24.0h-5.8zM967.2 1906.3h5.8v24.0h-5.8zM976.3 1906.3h5.8v24.0h-5.8zM985.4 1906.3h5.8v24.0h-5.8zM994.5 1906.3h5.8v24.0h-5.8zM1003.6 1906.3h5.8v24.0h-5.8zM1012.6 1906.3h5.8v24.0h-5.8zM1021.7 1906.3h5.8v24.0h-5.8zM1030.8 1906.3h5.8v24.0h-5.8zM1039.9 1906.3h5.8v24.0h-5.8zM1049.0 1906.3h5.8v24.0h-5.8zM1058.0 1906.3h5.8v24.0h-5.8zM1067.1 1906.3h5.8v24.0h-5.8zM1076.2 1906.3h5.8v24.0h-5.8zM1085.3 1906.3h5.8v24.0h-5.8zM1094.4 1906.3h5.8v24.0h-5.8zM1103.4 1906.3h5.8v24.0h-5.8zM1112.5 1906.3h5.8v24.0h-5.8zM1121.6 1906.3h5.8v24.0h-5.8zM1130.7 1906.3h5.8v24.0h-5.8zM1139.8 1906.3h5.8v24.0h-5.8zM1148.8 1906.3h5.8v24.0h-5.8zM1157.9 1906.3h5.8v24.0h-5.8zM1167.0 1906.3h5.8v24.0h-5.8zM1176.1 1906.3h5.8v24.0h-5.8zM1185.2 1906.3h5.8v24.0h-5.8zM1194.2 1906.3h5.8v24.0h-5.8zM1203.3 1906.3h5.8v24.0h-5.8zM1212.4 1906.3h5.8v24.0h-5.8zM1221.5 1906.3h5.8v24.0h-5.8zM1230.6 1906.3h5.8v24.0h-5.8zM1239.6 1906.3h5.8v24.0h-5.8zM1248.7 1906.3h5.8v24.0h-5.8zM1257.8 1906.3h5.8v24.0h-5.8zM1266.9 1906.3h5.8v24.0h-5.8zM1276.0 1906.3h5.8v24.0h-5.8zM1285.0 1906.3h5.8v24.0h-5.8zM1294.1 1906.3h5.8v24.0h-5.8zM1303.2 1906.3h5.8v24.0h-5.8zM1312.3 1906.3h5.8v24.0h-5.8zM1321.4 1906.3h5.8v24.0h-5.8zM1330.4 1906.3h5.8v24.0h-5.8zM1339.5 1906.3h5.8v24.0h-5.8zM1348.6 1906.3h5.8v24.0h-5.8zM1357.7 1906.3h5.8v24.0h-5.8zM1366.8 1906.3h5.8v24.0h-5.8zM1375.8 1906.3h5.8v24.0h-5.8zM1384.9 1906.3h5.8v24.0h-5.8zM1394.0 1906.3h5.8v24.0h-5.8zM1403.1 1906.3h5.8v24.0h-5.8zM1412.2 1906.3h5.8v24.0h-5.8zM1421.2 1906.3h5.8v24.0h-5.8zM1430.3 1906.3h5.8v24.0h-5.8zM1439.4 1906.3h5.8v24.0h-5.8zM1448.5 1906.3h5.8v24.0h-5.8zM1457.6 1906.3h5.8v24.0h-5.8zM1466.6 1906.3h5.8v24.0h-5.8zM1498.0 1906.3h5.8v24.0h-5.8zM1507.0 1906.3h5.8v24.0h-5.8zM1516.1 1906.3h5.8v24.0h-5.8zM1525.2 1906.3h5.8v24.0h-5.8zM1534.3 1906.3h5.8v24.0h-5.8zM1543.4 1906.3h5.8v24.0h-5.8zM1552.5 1906.3h5.8v24.0h-5.8zM1561.5 1906.3h5.8v24.0h-5.8zM1570.6 1906.3h5.8v24.0h-5.8zM1579.7 1906.3h5.8v24.0h-5.8zM1588.8 1906.3h5.8v24.0h-5.8zM1597.8 1906.3h5.8v24.0h-5.8zM1606.9 1906.3h5.8v24.0h-5.8zM1625.1 1906.3h5.8v24.0h-5.8zM1634.2 1906.3h5.8v24.0h-5.8zM1643.2 1906.3h5.8v24.0h-5.8zM1652.3 1906.3h5.8v24.0h-5.8zM1661.4 1906.3h5.8v24.0h-5.8zM1679.6 1906.3h5.8v24.0h-5.8zM1688.7 1906.3h5.8v24.0h-5.8zM1697.7 1906.3h5.8v24.0h-5.8zM1706.8 1906.3h5.8v24.0h-5.8zM1715.9 1906.3h5.8v24.0h-5.8zM1725.0 1906.3h5.8v24.0h-5.8zM1734.0 1906.3h5.8v24.0h-5.8zM1743.1 1906.3h5.8v24.0h-5.8zM1752.2 1906.3h5.8v24.0h-5.8zM1761.3 1906.3h5.8v24.0h-5.8zM1770.4 1906.3h5.8v24.0h-5.8zM1798.8 1906.3h5.8v24.0h-5.8zM1816.8 1906.3h5.8v24.0h-5.8z"/>
<path fill="#3a54a4" d="M340.7 1906.3h5.8v24.0h-5.8zM349.8 1906.3h5.8v24.0h-5.8zM358.9 1906.3h5.8v24.0h-5.8zM368.0 1906.3h5.8v24.0h-5.8zM785.6 1906.3h5.8v24.0h-5.8zM794.7 1906.3h5.8v24.0h-5.8zM803.8 1906.3h5.8v24.0h-5.8zM812.9 1906.3h5.8v24.0h-5.8zM1616.0 1906.3h5.8v24.0h-5.8zM1670.5 1906.3h5.8v24.0h-5.8zM1807.8 1906.3h5.8v24.0h-5.8z"/>
<path fill="#0f8040" d="M831.0 1914.4h5.8v7.8h-5.8zM849.2 1914.4h5.8v7.8h-5.8zM1625.1 1914.4h5.8v7.8h-5.8z"/>
<path fill="#231f20" d="M195.4 1914.4h5.8v7.8h-5.8zM240.8 1914.4h5.8v7.8h-5.8zM286.2 1914.4h5.8v7.8h-5.8zM340.7 1914.4h5.8v7.8h-5.8zM377.0 1914.4h5.8v7.8h-5.8zM522.3 1914.4h5.8v7.8h-5.8zM531.4 1914.4h5.8v7.8h-5.8zM540.5 1914.4h5.8v7.8h-5.8zM822.0 1914.4h5.8v7.8h-5.8zM840.1 1914.4h5.8v7.8h-5.8zM1606.9 1914.4h5.8v7.8h-5.8z"/>
<text x="152.5" y="1954.0" font-size="15.5" text-anchor="end" font-style="italic" fill="#2b2b2b" textLength="52.4" lengthAdjust="spacingAndGlyphs">PIK3R1</text>
<path fill="#d4d5d7" d="M168.2 1937.2h5.8v24.0h-5.8zM177.3 1937.2h5.8v24.0h-5.8zM186.4 1937.2h5.8v24.0h-5.8zM195.4 1937.2h5.8v24.0h-5.8zM204.5 1937.2h5.8v24.0h-5.8zM213.6 1937.2h5.8v24.0h-5.8zM222.7 1937.2h5.8v24.0h-5.8zM231.8 1937.2h5.8v24.0h-5.8zM240.8 1937.2h5.8v24.0h-5.8zM249.9 1937.2h5.8v24.0h-5.8zM259.0 1937.2h5.8v24.0h-5.8zM268.1 1937.2h5.8v24.0h-5.8zM277.2 1937.2h5.8v24.0h-5.8zM286.2 1937.2h5.8v24.0h-5.8zM295.3 1937.2h5.8v24.0h-5.8zM304.4 1937.2h5.8v24.0h-5.8zM313.5 1937.2h5.8v24.0h-5.8zM322.6 1937.2h5.8v24.0h-5.8zM331.6 1937.2h5.8v24.0h-5.8zM340.7 1937.2h5.8v24.0h-5.8zM349.8 1937.2h5.8v24.0h-5.8zM358.9 1937.2h5.8v24.0h-5.8zM368.0 1937.2h5.8v24.0h-5.8zM377.0 1937.2h5.8v24.0h-5.8zM386.1 1937.2h5.8v24.0h-5.8zM395.2 1937.2h5.8v24.0h-5.8zM404.3 1937.2h5.8v24.0h-5.8zM413.4 1937.2h5.8v24.0h-5.8zM422.4 1937.2h5.8v24.0h-5.8zM431.5 1937.2h5.8v24.0h-5.8zM440.6 1937.2h5.8v24.0h-5.8zM449.7 1937.2h5.8v24.0h-5.8zM458.8 1937.2h5.8v24.0h-5.8zM467.8 1937.2h5.8v24.0h-5.8zM476.9 1937.2h5.8v24.0h-5.8zM486.0 1937.2h5.8v24.0h-5.8zM495.1 1937.2h5.8v24.0h-5.8zM504.2 1937.2h5.8v24.0h-5.8zM513.2 1937.2h5.8v24.0h-5.8zM522.3 1937.2h5.8v24.0h-5.8zM531.4 1937.2h5.8v24.0h-5.8zM540.5 1937.2h5.8v24.0h-5.8zM549.6 1937.2h5.8v24.0h-5.8zM558.6 1937.2h5.8v24.0h-5.8zM567.7 1937.2h5.8v24.0h-5.8zM576.8 1937.2h5.8v24.0h-5.8zM585.9 1937.2h5.8v24.0h-5.8zM595.0 1937.2h5.8v24.0h-5.8zM604.0 1937.2h5.8v24.0h-5.8zM613.1 1937.2h5.8v24.0h-5.8zM622.2 1937.2h5.8v24.0h-5.8zM631.3 1937.2h5.8v24.0h-5.8zM640.4 1937.2h5.8v24.0h-5.8zM649.4 1937.2h5.8v24.0h-5.8zM658.5 1937.2h5.8v24.0h-5.8zM667.6 1937.2h5.8v24.0h-5.8zM676.7 1937.2h5.8v24.0h-5.8zM685.8 1937.2h5.8v24.0h-5.8zM694.8 1937.2h5.8v24.0h-5.8zM703.9 1937.2h5.8v24.0h-5.8zM713.0 1937.2h5.8v24.0h-5.8zM722.1 1937.2h5.8v24.0h-5.8zM731.2 1937.2h5.8v24.0h-5.8zM740.2 1937.2h5.8v24.0h-5.8zM749.3 1937.2h5.8v24.0h-5.8zM758.4 1937.2h5.8v24.0h-5.8zM767.5 1937.2h5.8v24.0h-5.8zM776.6 1937.2h5.8v24.0h-5.8zM785.6 1937.2h5.8v24.0h-5.8zM794.7 1937.2h5.8v24.0h-5.8zM803.8 1937.2h5.8v24.0h-5.8zM812.9 1937.2h5.8v24.0h-5.8zM822.0 1937.2h5.8v24.0h-5.8zM831.0 1937.2h5.8v24.0h-5.8zM840.1 1937.2h5.8v24.0h-5.8zM849.2 1937.2h5.8v24.0h-5.8zM867.4 1937.2h5.8v24.0h-5.8zM876.4 1937.2h5.8v24.0h-5.8zM885.5 1937.2h5.8v24.0h-5.8zM894.6 1937.2h5.8v24.0h-5.8zM903.7 1937.2h5.8v24.0h-5.8zM912.8 1937.2h5.8v24.0h-5.8zM921.8 1937.2h5.8v24.0h-5.8zM930.9 1937.2h5.8v24.0h-5.8zM940.0 1937.2h5.8v24.0h-5.8zM949.1 1937.2h5.8v24.0h-5.8zM958.2 1937.2h5.8v24.0h-5.8zM967.2 1937.2h5.8v24.0h-5.8zM976.3 1937.2h5.8v24.0h-5.8zM985.4 1937.2h5.8v24.0h-5.8zM994.5 1937.2h5.8v24.0h-5.8zM1003.6 1937.2h5.8v24.0h-5.8zM1012.6 1937.2h5.8v24.0h-5.8zM1021.7 1937.2h5.8v24.0h-5.8zM1030.8 1937.2h5.8v24.0h-5.8zM1039.9 1937.2h5.8v24.0h-5.8zM1049.0 1937.2h5.8v24.0h-5.8zM1058.0 1937.2h5.8v24.0h-5.8zM1067.1 1937.2h5.8v24.0h-5.8zM1076.2 1937.2h5.8v24.0h-5.8zM1085.3 1937.2h5.8v24.0h-5.8zM1094.4 1937.2h5.8v24.0h-5.8zM1103.4 1937.2h5.8v24.0h-5.8zM1112.5 1937.2h5.8v24.0h-5.8zM1121.6 1937.2h5.8v24.0h-5.8zM1130.7 1937.2h5.8v24.0h-5.8zM1139.8 1937.2h5.8v24.0h-5.8zM1148.8 1937.2h5.8v24.0h-5.8zM1157.9 1937.2h5.8v24.0h-5.8zM1167.0 1937.2h5.8v24.0h-5.8zM1176.1 1937.2h5.8v24.0h-5.8zM1185.2 1937.2h5.8v24.0h-5.8zM1194.2 1937.2h5.8v24.0h-5.8zM1203.3 1937.2h5.8v24.0h-5.8zM1212.4 1937.2h5.8v24.0h-5.8zM1221.5 1937.2h5.8v24.0h-5.8zM1230.6 1937.2h5.8v24.0h-5.8zM1239.6 1937.2h5.8v24.0h-5.8zM1248.7 1937.2h5.8v24.0h-5.8zM1257.8 1937.2h5.8v24.0h-5.8zM1266.9 1937.2h5.8v24.0h-5.8zM1276.0 1937.2h5.8v24.0h-5.8zM1285.0 1937.2h5.8v24.0h-5.8zM1294.1 1937.2h5.8v24.0h-5.8zM1303.2 1937.2h5.8v24.0h-5.8zM1312.3 1937.2h5.8v24.0h-5.8zM1321.4 1937.2h5.8v24.0h-5.8zM1330.4 1937.2h5.8v24.0h-5.8zM1339.5 1937.2h5.8v24.0h-5.8zM1348.6 1937.2h5.8v24.0h-5.8zM1357.7 1937.2h5.8v24.0h-5.8zM1366.8 1937.2h5.8v24.0h-5.8zM1375.8 1937.2h5.8v24.0h-5.8zM1384.9 1937.2h5.8v24.0h-5.8zM1394.0 1937.2h5.8v24.0h-5.8zM1403.1 1937.2h5.8v24.0h-5.8zM1412.2 1937.2h5.8v24.0h-5.8zM1421.2 1937.2h5.8v24.0h-5.8zM1430.3 1937.2h5.8v24.0h-5.8zM1439.4 1937.2h5.8v24.0h-5.8zM1448.5 1937.2h5.8v24.0h-5.8zM1457.6 1937.2h5.8v24.0h-5.8zM1466.6 1937.2h5.8v24.0h-5.8zM1498.0 1937.2h5.8v24.0h-5.8zM1507.0 1937.2h5.8v24.0h-5.8zM1516.1 1937.2h5.8v24.0h-5.8zM1525.2 1937.2h5.8v24.0h-5.8zM1534.3 1937.2h5.8v24.0h-5.8zM1543.4 1937.2h5.8v24.0h-5.8zM1552.5 1937.2h5.8v24.0h-5.8zM1561.5 1937.2h5.8v24.0h-5.8zM1570.6 1937.2h5.8v24.0h-5.8zM1579.7 1937.2h5.8v24.0h-5.8zM1588.8 1937.2h5.8v24.0h-5.8zM1597.8 1937.2h5.8v24.0h-5.8zM1606.9 1937.2h5.8v24.0h-5.8zM1616.0 1937.2h5.8v24.0h-5.8zM1625.1 1937.2h5.8v24.0h-5.8zM1634.2 1937.2h5.8v24.0h-5.8zM1643.2 1937.2h5.8v24.0h-5.8zM1652.3 1937.2h5.8v24.0h-5.8zM1661.4 1937.2h5.8v24.0h-5.8zM1670.5 1937.2h5.8v24.0h-5.8zM1679.6 1937.2h5.8v24.0h-5.8zM1688.7 1937.2h5.8v24.0h-5.8zM1697.7 1937.2h5.8v24.0h-5.8zM1706.8 1937.2h5.8v24.0h-5.8zM1715.9 1937.2h5.8v24.0h-5.8zM1725.0 1937.2h5.8v24.0h-5.8zM1734.0 1937.2h5.8v24.0h-5.8zM1743.1 1937.2h5.8v24.0h-5.8zM1752.2 1937.2h5.8v24.0h-5.8zM1761.3 1937.2h5.8v24.0h-5.8zM1770.4 1937.2h5.8v24.0h-5.8zM1798.8 1937.2h5.8v24.0h-5.8zM1807.8 1937.2h5.8v24.0h-5.8zM1816.8 1937.2h5.8v24.0h-5.8z"/>
<path fill="#3a54a4" d="M858.3 1937.2h5.8v24.0h-5.8z"/>
<path fill="#0f8040" d="M295.3 1945.3h5.8v7.8h-5.8zM395.2 1945.3h5.8v7.8h-5.8zM549.6 1945.3h5.8v7.8h-5.8zM867.4 1945.3h5.8v7.8h-5.8z"/>
<path fill="#231f20" d="M277.2 1945.3h5.8v7.8h-5.8zM386.1 1945.3h5.8v7.8h-5.8z"/>
<text x="152.5" y="1985.0" font-size="15.5" text-anchor="end" font-style="italic" fill="#2b2b2b" textLength="38.8" lengthAdjust="spacingAndGlyphs">AKT1</text>
<path fill="#d4d5d7" d="M168.2 1968.2h5.8v24.0h-5.8zM177.3 1968.2h5.8v24.0h-5.8zM186.4 1968.2h5.8v24.0h-5.8zM195.4 1968.2h5.8v24.0h-5.8zM204.5 1968.2h5.8v24.0h-5.8zM213.6 1968.2h5.8v24.0h-5.8zM222.7 1968.2h5.8v24.0h-5.8zM231.8 1968.2h5.8v24.0h-5.8zM240.8 1968.2h5.8v24.0h-5.8zM249.9 1968.2h5.8v24.0h-5.8zM259.0 1968.2h5.8v24.0h-5.8zM268.1 1968.2h5.8v24.0h-5.8zM277.2 1968.2h5.8v24.0h-5.8zM286.2 1968.2h5.8v24.0h-5.8zM295.3 1968.2h5.8v24.0h-5.8zM304.4 1968.2h5.8v24.0h-5.8zM313.5 1968.2h5.8v24.0h-5.8zM322.6 1968.2h5.8v24.0h-5.8zM331.6 1968.2h5.8v24.0h-5.8zM340.7 1968.2h5.8v24.0h-5.8zM349.8 1968.2h5.8v24.0h-5.8zM358.9 1968.2h5.8v24.0h-5.8zM368.0 1968.2h5.8v24.0h-5.8zM377.0 1968.2h5.8v24.0h-5.8zM386.1 1968.2h5.8v24.0h-5.8zM395.2 1968.2h5.8v24.0h-5.8zM404.3 1968.2h5.8v24.0h-5.8zM413.4 1968.2h5.8v24.0h-5.8zM422.4 1968.2h5.8v24.0h-5.8zM431.5 1968.2h5.8v24.0h-5.8zM440.6 1968.2h5.8v24.0h-5.8zM449.7 1968.2h5.8v24.0h-5.8zM458.8 1968.2h5.8v24.0h-5.8zM467.8 1968.2h5.8v24.0h-5.8zM476.9 1968.2h5.8v24.0h-5.8zM486.0 1968.2h5.8v24.0h-5.8zM495.1 1968.2h5.8v24.0h-5.8zM504.2 1968.2h5.8v24.0h-5.8zM513.2 1968.2h5.8v24.0h-5.8zM522.3 1968.2h5.8v24.0h-5.8zM531.4 1968.2h5.8v24.0h-5.8zM540.5 1968.2h5.8v24.0h-5.8zM549.6 1968.2h5.8v24.0h-5.8zM558.6 1968.2h5.8v24.0h-5.8zM567.7 1968.2h5.8v24.0h-5.8zM576.8 1968.2h5.8v24.0h-5.8zM585.9 1968.2h5.8v24.0h-5.8zM595.0 1968.2h5.8v24.0h-5.8zM604.0 1968.2h5.8v24.0h-5.8zM613.1 1968.2h5.8v24.0h-5.8zM622.2 1968.2h5.8v24.0h-5.8zM631.3 1968.2h5.8v24.0h-5.8zM640.4 1968.2h5.8v24.0h-5.8zM649.4 1968.2h5.8v24.0h-5.8zM658.5 1968.2h5.8v24.0h-5.8zM667.6 1968.2h5.8v24.0h-5.8zM676.7 1968.2h5.8v24.0h-5.8zM685.8 1968.2h5.8v24.0h-5.8zM694.8 1968.2h5.8v24.0h-5.8zM703.9 1968.2h5.8v24.0h-5.8zM713.0 1968.2h5.8v24.0h-5.8zM722.1 1968.2h5.8v24.0h-5.8zM731.2 1968.2h5.8v24.0h-5.8zM740.2 1968.2h5.8v24.0h-5.8zM749.3 1968.2h5.8v24.0h-5.8zM758.4 1968.2h5.8v24.0h-5.8zM767.5 1968.2h5.8v24.0h-5.8zM776.6 1968.2h5.8v24.0h-5.8zM785.6 1968.2h5.8v24.0h-5.8zM794.7 1968.2h5.8v24.0h-5.8zM803.8 1968.2h5.8v24.0h-5.8zM812.9 1968.2h5.8v24.0h-5.8zM822.0 1968.2h5.8v24.0h-5.8zM831.0 1968.2h5.8v24.0h-5.8zM840.1 1968.2h5.8v24.0h-5.8zM849.2 1968.2h5.8v24.0h-5.8zM858.3 1968.2h5.8v24.0h-5.8zM867.4 1968.2h5.8v24.0h-5.8zM876.4 1968.2h5.8v24.0h-5.8zM885.5 1968.2h5.8v24.0h-5.8zM894.6 1968.2h5.8v24.0h-5.8zM903.7 1968.2h5.8v24.0h-5.8zM912.8 1968.2h5.8v24.0h-5.8zM921.8 1968.2h5.8v24.0h-5.8zM930.9 1968.2h5.8v24.0h-5.8zM940.0 1968.2h5.8v24.0h-5.8zM949.1 1968.2h5.8v24.0h-5.8zM958.2 1968.2h5.8v24.0h-5.8zM967.2 1968.2h5.8v24.0h-5.8zM976.3 1968.2h5.8v24.0h-5.8zM985.4 1968.2h5.8v24.0h-5.8zM994.5 1968.2h5.8v24.0h-5.8zM1003.6 1968.2h5.8v24.0h-5.8zM1012.6 1968.2h5.8v24.0h-5.8zM1021.7 1968.2h5.8v24.0h-5.8zM1030.8 1968.2h5.8v24.0h-5.8zM1039.9 1968.2h5.8v24.0h-5.8zM1049.0 1968.2h5.8v24.0h-5.8zM1058.0 1968.2h5.8v24.0h-5.8zM1067.1 1968.2h5.8v24.0h-5.8zM1076.2 1968.2h5.8v24.0h-5.8zM1085.3 1968.2h5.8v24.0h-5.8zM1094.4 1968.2h5.8v24.0h-5.8zM1103.4 1968.2h5.8v24.0h-5.8zM1112.5 1968.2h5.8v24.0h-5.8zM1121.6 1968.2h5.8v24.0h-5.8zM1130.7 1968.2h5.8v24.0h-5.8zM1139.8 1968.2h5.8v24.0h-5.8zM1148.8 1968.2h5.8v24.0h-5.8zM1157.9 1968.2h5.8v24.0h-5.8zM1167.0 1968.2h5.8v24.0h-5.8zM1176.1 1968.2h5.8v24.0h-5.8zM1185.2 1968.2h5.8v24.0h-5.8zM1194.2 1968.2h5.8v24.0h-5.8zM1203.3 1968.2h5.8v24.0h-5.8zM1212.4 1968.2h5.8v24.0h-5.8zM1221.5 1968.2h5.8v24.0h-5.8zM1230.6 1968.2h5.8v24.0h-5.8zM1239.6 1968.2h5.8v24.0h-5.8zM1248.7 1968.2h5.8v24.0h-5.8zM1257.8 1968.2h5.8v24.0h-5.8zM1266.9 1968.2h5.8v24.0h-5.8zM1276.0 1968.2h5.8v24.0h-5.8zM1285.0 1968.2h5.8v24.0h-5.8zM1294.1 1968.2h5.8v24.0h-5.8zM1303.2 1968.2h5.8v24.0h-5.8zM1312.3 1968.2h5.8v24.0h-5.8zM1321.4 1968.2h5.8v24.0h-5.8zM1330.4 1968.2h5.8v24.0h-5.8zM1339.5 1968.2h5.8v24.0h-5.8zM1348.6 1968.2h5.8v24.0h-5.8zM1357.7 1968.2h5.8v24.0h-5.8zM1366.8 1968.2h5.8v24.0h-5.8zM1375.8 1968.2h5.8v24.0h-5.8zM1384.9 1968.2h5.8v24.0h-5.8zM1394.0 1968.2h5.8v24.0h-5.8zM1403.1 1968.2h5.8v24.0h-5.8zM1412.2 1968.2h5.8v24.0h-5.8zM1421.2 1968.2h5.8v24.0h-5.8zM1430.3 1968.2h5.8v24.0h-5.8zM1439.4 1968.2h5.8v24.0h-5.8zM1448.5 1968.2h5.8v24.0h-5.8zM1457.6 1968.2h5.8v24.0h-5.8zM1466.6 1968.2h5.8v24.0h-5.8zM1498.0 1968.2h5.8v24.0h-5.8zM1507.0 1968.2h5.8v24.0h-5.8zM1516.1 1968.2h5.8v24.0h-5.8zM1525.2 1968.2h5.8v24.0h-5.8zM1534.3 1968.2h5.8v24.0h-5.8zM1543.4 1968.2h5.8v24.0h-5.8zM1552.5 1968.2h5.8v24.0h-5.8zM1561.5 1968.2h5.8v24.0h-5.8zM1570.6 1968.2h5.8v24.0h-5.8zM1579.7 1968.2h5.8v24.0h-5.8zM1588.8 1968.2h5.8v24.0h-5.8zM1597.8 1968.2h5.8v24.0h-5.8zM1606.9 1968.2h5.8v24.0h-5.8zM1616.0 1968.2h5.8v24.0h-5.8zM1625.1 1968.2h5.8v24.0h-5.8zM1634.2 1968.2h5.8v24.0h-5.8zM1643.2 1968.2h5.8v24.0h-5.8zM1652.3 1968.2h5.8v24.0h-5.8zM1661.4 1968.2h5.8v24.0h-5.8zM1670.5 1968.2h5.8v24.0h-5.8zM1679.6 1968.2h5.8v24.0h-5.8zM1688.7 1968.2h5.8v24.0h-5.8zM1697.7 1968.2h5.8v24.0h-5.8zM1706.8 1968.2h5.8v24.0h-5.8zM1715.9 1968.2h5.8v24.0h-5.8zM1725.0 1968.2h5.8v24.0h-5.8zM1734.0 1968.2h5.8v24.0h-5.8zM1743.1 1968.2h5.8v24.0h-5.8zM1752.2 1968.2h5.8v24.0h-5.8zM1761.3 1968.2h5.8v24.0h-5.8zM1770.4 1968.2h5.8v24.0h-5.8zM1798.8 1968.2h5.8v24.0h-5.8zM1807.8 1968.2h5.8v24.0h-5.8zM1816.8 1968.2h5.8v24.0h-5.8z"/>
<path fill="#0f8040" d="M204.5 1976.3h5.8v7.8h-5.8zM785.6 1976.3h5.8v7.8h-5.8z"/>
<text x="152.5" y="2015.9" font-size="15.5" text-anchor="end" font-style="italic" fill="#2b2b2b" textLength="28.7" lengthAdjust="spacingAndGlyphs">NF1</text>
<path fill="#d4d5d7" d="M168.2 1999.1h5.8v24.0h-5.8zM177.3 1999.1h5.8v24.0h-5.8zM186.4 1999.1h5.8v24.0h-5.8zM195.4 1999.1h5.8v24.0h-5.8zM204.5 1999.1h5.8v24.0h-5.8zM213.6 1999.1h5.8v24.0h-5.8zM222.7 1999.1h5.8v24.0h-5.8zM231.8 1999.1h5.8v24.0h-5.8zM240.8 1999.1h5.8v24.0h-5.8zM249.9 1999.1h5.8v24.0h-5.8zM259.0 1999.1h5.8v24.0h-5.8zM268.1 1999.1h5.8v24.0h-5.8zM277.2 1999.1h5.8v24.0h-5.8zM286.2 1999.1h5.8v24.0h-5.8zM295.3 1999.1h5.8v24.0h-5.8zM304.4 1999.1h5.8v24.0h-5.8zM313.5 1999.1h5.8v24.0h-5.8zM322.6 1999.1h5.8v24.0h-5.8zM331.6 1999.1h5.8v24.0h-5.8zM340.7 1999.1h5.8v24.0h-5.8zM349.8 1999.1h5.8v24.0h-5.8zM358.9 1999.1h5.8v24.0h-5.8zM368.0 1999.1h5.8v24.0h-5.8zM377.0 1999.1h5.8v24.0h-5.8zM386.1 1999.1h5.8v24.0h-5.8zM395.2 1999.1h5.8v24.0h-5.8zM404.3 1999.1h5.8v24.0h-5.8zM413.4 1999.1h5.8v24.0h-5.8zM422.4 1999.1h5.8v24.0h-5.8zM431.5 1999.1h5.8v24.0h-5.8zM440.6 1999.1h5.8v24.0h-5.8zM449.7 1999.1h5.8v24.0h-5.8zM458.8 1999.1h5.8v24.0h-5.8zM467.8 1999.1h5.8v24.0h-5.8zM476.9 1999.1h5.8v24.0h-5.8zM486.0 1999.1h5.8v24.0h-5.8zM495.1 1999.1h5.8v24.0h-5.8zM504.2 1999.1h5.8v24.0h-5.8zM513.2 1999.1h5.8v24.0h-5.8zM522.3 1999.1h5.8v24.0h-5.8zM531.4 1999.1h5.8v24.0h-5.8zM540.5 1999.1h5.8v24.0h-5.8zM549.6 1999.1h5.8v24.0h-5.8zM558.6 1999.1h5.8v24.0h-5.8zM567.7 1999.1h5.8v24.0h-5.8zM576.8 1999.1h5.8v24.0h-5.8zM585.9 1999.1h5.8v24.0h-5.8zM595.0 1999.1h5.8v24.0h-5.8zM604.0 1999.1h5.8v24.0h-5.8zM613.1 1999.1h5.8v24.0h-5.8zM622.2 1999.1h5.8v24.0h-5.8zM631.3 1999.1h5.8v24.0h-5.8zM640.4 1999.1h5.8v24.0h-5.8zM649.4 1999.1h5.8v24.0h-5.8zM658.5 1999.1h5.8v24.0h-5.8zM667.6 1999.1h5.8v24.0h-5.8zM676.7 1999.1h5.8v24.0h-5.8zM685.8 1999.1h5.8v24.0h-5.8zM694.8 1999.1h5.8v24.0h-5.8zM703.9 1999.1h5.8v24.0h-5.8zM713.0 1999.1h5.8v24.0h-5.8zM722.1 1999.1h5.8v24.0h-5.8zM731.2 1999.1h5.8v24.0h-5.8zM740.2 1999.1h5.8v24.0h-5.8zM749.3 1999.1h5.8v24.0h-5.8zM758.4 1999.1h5.8v24.0h-5.8zM767.5 1999.1h5.8v24.0h-5.8zM776.6 1999.1h5.8v24.0h-5.8zM785.6 1999.1h5.8v24.0h-5.8zM794.7 1999.1h5.8v24.0h-5.8zM803.8 1999.1h5.8v24.0h-5.8zM812.9 1999.1h5.8v24.0h-5.8zM822.0 1999.1h5.8v24.0h-5.8zM831.0 1999.1h5.8v24.0h-5.8zM840.1 1999.1h5.8v24.0h-5.8zM849.2 1999.1h5.8v24.0h-5.8zM858.3 1999.1h5.8v24.0h-5.8zM867.4 1999.1h5.8v24.0h-5.8zM876.4 1999.1h5.8v24.0h-5.8zM885.5 1999.1h5.8v24.0h-5.8zM894.6 1999.1h5.8v24.0h-5.8zM903.7 1999.1h5.8v24.0h-5.8zM912.8 1999.1h5.8v24.0h-5.8zM921.8 1999.1h5.8v24.0h-5.8zM930.9 1999.1h5.8v24.0h-5.8zM940.0 1999.1h5.8v24.0h-5.8zM949.1 1999.1h5.8v24.0h-5.8zM958.2 1999.1h5.8v24.0h-5.8zM967.2 1999.1h5.8v24.0h-5.8zM976.3 1999.1h5.8v24.0h-5.8zM985.4 1999.1h5.8v24.0h-5.8zM994.5 1999.1h5.8v24.0h-5.8zM1003.6 1999.1h5.8v24.0h-5.8zM1012.6 1999.1h5.8v24.0h-5.8zM1021.7 1999.1h5.8v24.0h-5.8zM1030.8 1999.1h5.8v24.0h-5.8zM1039.9 1999.1h5.8v24.0h-5.8zM1049.0 1999.1h5.8v24.0h-5.8zM1058.0 1999.1h5.8v24.0h-5.8zM1067.1 1999.1h5.8v24.0h-5.8zM1076.2 1999.1h5.8v24.0h-5.8zM1085.3 1999.1h5.8v24.0h-5.8zM1094.4 1999.1h5.8v24.0h-5.8zM1103.4 1999.1h5.8v24.0h-5.8zM1112.5 1999.1h5.8v24.0h-5.8zM1121.6 1999.1h5.8v24.0h-5.8zM1130.7 1999.1h5.8v24.0h-5.8zM1139.8 1999.1h5.8v24.0h-5.8zM1148.8 1999.1h5.8v24.0h-5.8zM1157.9 1999.1h5.8v24.0h-5.8zM1167.0 1999.1h5.8v24.0h-5.8zM1176.1 1999.1h5.8v24.0h-5.8zM1185.2 1999.1h5.8v24.0h-5.8zM1194.2 1999.1h5.8v24.0h-5.8zM1203.3 1999.1h5.8v24.0h-5.8zM1212.4 1999.1h5.8v24.0h-5.8zM1221.5 1999.1h5.8v24.0h-5.8zM1230.6 1999.1h5.8v24.0h-5.8zM1239.6 1999.1h5.8v24.0h-5.8zM1248.7 1999.1h5.8v24.0h-5.8zM1257.8 1999.1h5.8v24.0h-5.8zM1266.9 1999.1h5.8v24.0h-5.8zM1276.0 1999.1h5.8v24.0h-5.8zM1285.0 1999.1h5.8v24.0h-5.8zM1294.1 1999.1h5.8v24.0h-5.8zM1303.2 1999.1h5.8v24.0h-5.8zM1312.3 1999.1h5.8v24.0h-5.8zM1321.4 1999.1h5.8v24.0h-5.8zM1330.4 1999.1h5.8v24.0h-5.8zM1339.5 1999.1h5.8v24.0h-5.8zM1348.6 1999.1h5.8v24.0h-5.8zM1357.7 1999.1h5.8v24.0h-5.8zM1366.8 1999.1h5.8v24.0h-5.8zM1375.8 1999.1h5.8v24.0h-5.8zM1384.9 1999.1h5.8v24.0h-5.8zM1394.0 1999.1h5.8v24.0h-5.8zM1403.1 1999.1h5.8v24.0h-5.8zM1412.2 1999.1h5.8v24.0h-5.8zM1421.2 1999.1h5.8v24.0h-5.8zM1430.3 1999.1h5.8v24.0h-5.8zM1439.4 1999.1h5.8v24.0h-5.8zM1448.5 1999.1h5.8v24.0h-5.8zM1457.6 1999.1h5.8v24.0h-5.8zM1466.6 1999.1h5.8v24.0h-5.8zM1498.0 1999.1h5.8v24.0h-5.8zM1507.0 1999.1h5.8v24.0h-5.8zM1516.1 1999.1h5.8v24.0h-5.8zM1525.2 1999.1h5.8v24.0h-5.8zM1534.3 1999.1h5.8v24.0h-5.8zM1543.4 1999.1h5.8v24.0h-5.8zM1552.5 1999.1h5.8v24.0h-5.8zM1561.5 1999.1h5.8v24.0h-5.8zM1570.6 1999.1h5.8v24.0h-5.8zM1579.7 1999.1h5.8v24.0h-5.8zM1588.8 1999.1h5.8v24.0h-5.8zM1597.8 1999.1h5.8v24.0h-5.8zM1616.0 1999.1h5.8v24.0h-5.8zM1625.1 1999.1h5.8v24.0h-5.8zM1634.2 1999.1h5.8v24.0h-5.8zM1643.2 1999.1h5.8v24.0h-5.8zM1652.3 1999.1h5.8v24.0h-5.8zM1661.4 1999.1h5.8v24.0h-5.8zM1670.5 1999.1h5.8v24.0h-5.8zM1679.6 1999.1h5.8v24.0h-5.8zM1688.7 1999.1h5.8v24.0h-5.8zM1697.7 1999.1h5.8v24.0h-5.8zM1706.8 1999.1h5.8v24.0h-5.8zM1715.9 1999.1h5.8v24.0h-5.8zM1725.0 1999.1h5.8v24.0h-5.8zM1734.0 1999.1h5.8v24.0h-5.8zM1743.1 1999.1h5.8v24.0h-5.8zM1752.2 1999.1h5.8v24.0h-5.8zM1761.3 1999.1h5.8v24.0h-5.8zM1770.4 1999.1h5.8v24.0h-5.8zM1798.8 1999.1h5.8v24.0h-5.8zM1807.8 1999.1h5.8v24.0h-5.8zM1816.8 1999.1h5.8v24.0h-5.8z"/>
<path fill="#3a54a4" d="M1606.9 1999.1h5.8v24.0h-5.8z"/>
<path fill="#0f8040" d="M168.2 2007.2h5.8v7.8h-5.8zM286.2 2007.2h5.8v7.8h-5.8zM785.6 2007.2h5.8v7.8h-5.8z"/>
<path fill="#231f20" d="M249.9 2007.2h5.8v7.8h-5.8zM558.6 2007.2h5.8v7.8h-5.8zM876.4 2007.2h5.8v7.8h-5.8z"/>
<text x="152.5" y="2046.8" font-size="15.5" text-anchor="end" font-style="italic" fill="#2b2b2b" textLength="41.3" lengthAdjust="spacingAndGlyphs">KRAS</text>
<path fill="#d4d5d7" d="M168.2 2030.0h5.8v24.0h-5.8zM177.3 2030.0h5.8v24.0h-5.8zM186.4 2030.0h5.8v24.0h-5.8zM195.4 2030.0h5.8v24.0h-5.8zM204.5 2030.0h5.8v24.0h-5.8zM213.6 2030.0h5.8v24.0h-5.8zM222.7 2030.0h5.8v24.0h-5.8zM231.8 2030.0h5.8v24.0h-5.8zM240.8 2030.0h5.8v24.0h-5.8zM249.9 2030.0h5.8v24.0h-5.8zM259.0 2030.0h5.8v24.0h-5.8zM268.1 2030.0h5.8v24.0h-5.8zM277.2 2030.0h5.8v24.0h-5.8zM286.2 2030.0h5.8v24.0h-5.8zM295.3 2030.0h5.8v24.0h-5.8zM304.4 2030.0h5.8v24.0h-5.8zM313.5 2030.0h5.8v24.0h-5.8zM322.6 2030.0h5.8v24.0h-5.8zM331.6 2030.0h5.8v24.0h-5.8zM340.7 2030.0h5.8v24.0h-5.8zM349.8 2030.0h5.8v24.0h-5.8zM358.9 2030.0h5.8v24.0h-5.8zM368.0 2030.0h5.8v24.0h-5.8zM377.0 2030.0h5.8v24.0h-5.8zM386.1 2030.0h5.8v24.0h-5.8zM395.2 2030.0h5.8v24.0h-5.8zM404.3 2030.0h5.8v24.0h-5.8zM413.4 2030.0h5.8v24.0h-5.8zM422.4 2030.0h5.8v24.0h-5.8zM431.5 2030.0h5.8v24.0h-5.8zM440.6 2030.0h5.8v24.0h-5.8zM449.7 2030.0h5.8v24.0h-5.8zM458.8 2030.0h5.8v24.0h-5.8zM467.8 2030.0h5.8v24.0h-5.8zM476.9 2030.0h5.8v24.0h-5.8zM486.0 2030.0h5.8v24.0h-5.8zM495.1 2030.0h5.8v24.0h-5.8zM504.2 2030.0h5.8v24.0h-5.8zM513.2 2030.0h5.8v24.0h-5.8zM522.3 2030.0h5.8v24.0h-5.8zM531.4 2030.0h5.8v24.0h-5.8zM540.5 2030.0h5.8v24.0h-5.8zM549.6 2030.0h5.8v24.0h-5.8zM558.6 2030.0h5.8v24.0h-5.8zM567.7 2030.0h5.8v24.0h-5.8zM576.8 2030.0h5.8v24.0h-5.8zM585.9 2030.0h5.8v24.0h-5.8zM595.0 2030.0h5.8v24.0h-5.8zM604.0 2030.0h5.8v24.0h-5.8zM613.1 2030.0h5.8v24.0h-5.8zM622.2 2030.0h5.8v24.0h-5.8zM631.3 2030.0h5.8v24.0h-5.8zM640.4 2030.0h5.8v24.0h-5.8zM649.4 2030.0h5.8v24.0h-5.8zM658.5 2030.0h5.8v24.0h-5.8zM667.6 2030.0h5.8v24.0h-5.8zM676.7 2030.0h5.8v24.0h-5.8zM685.8 2030.0h5.8v24.0h-5.8zM694.8 2030.0h5.8v24.0h-5.8zM703.9 2030.0h5.8v24.0h-5.8zM713.0 2030.0h5.8v24.0h-5.8zM722.1 2030.0h5.8v24.0h-5.8zM731.2 2030.0h5.8v24.0h-5.8zM740.2 2030.0h5.8v24.0h-5.8zM749.3 2030.0h5.8v24.0h-5.8zM758.4 2030.0h5.8v24.0h-5.8zM767.5 2030.0h5.8v24.0h-5.8zM776.6 2030.0h5.8v24.0h-5.8zM785.6 2030.0h5.8v24.0h-5.8zM794.7 2030.0h5.8v24.0h-5.8zM803.8 2030.0h5.8v24.0h-5.8zM812.9 2030.0h5.8v24.0h-5.8zM822.0 2030.0h5.8v24.0h-5.8zM831.0 2030.0h5.8v24.0h-5.8zM840.1 2030.0h5.8v24.0h-5.8zM849.2 2030.0h5.8v24.0h-5.8zM858.3 2030.0h5.8v24.0h-5.8zM867.4 2030.0h5.8v24.0h-5.8zM876.4 2030.0h5.8v24.0h-5.8zM885.5 2030.0h5.8v24.0h-5.8zM894.6 2030.0h5.8v24.0h-5.8zM903.7 2030.0h5.8v24.0h-5.8zM912.8 2030.0h5.8v24.0h-5.8zM921.8 2030.0h5.8v24.0h-5.8zM930.9 2030.0h5.8v24.0h-5.8zM940.0 2030.0h5.8v24.0h-5.8zM949.1 2030.0h5.8v24.0h-5.8zM958.2 2030.0h5.8v24.0h-5.8zM967.2 2030.0h5.8v24.0h-5.8zM976.3 2030.0h5.8v24.0h-5.8zM985.4 2030.0h5.8v24.0h-5.8zM994.5 2030.0h5.8v24.0h-5.8zM1003.6 2030.0h5.8v24.0h-5.8zM1012.6 2030.0h5.8v24.0h-5.8zM1021.7 2030.0h5.8v24.0h-5.8zM1030.8 2030.0h5.8v24.0h-5.8zM1039.9 2030.0h5.8v24.0h-5.8zM1049.0 2030.0h5.8v24.0h-5.8zM1058.0 2030.0h5.8v24.0h-5.8zM1067.1 2030.0h5.8v24.0h-5.8zM1076.2 2030.0h5.8v24.0h-5.8zM1085.3 2030.0h5.8v24.0h-5.8zM1094.4 2030.0h5.8v24.0h-5.8zM1103.4 2030.0h5.8v24.0h-5.8zM1112.5 2030.0h5.8v24.0h-5.8zM1121.6 2030.0h5.8v24.0h-5.8zM1130.7 2030.0h5.8v24.0h-5.8zM1139.8 2030.0h5.8v24.0h-5.8zM1148.8 2030.0h5.8v24.0h-5.8zM1157.9 2030.0h5.8v24.0h-5.8zM1167.0 2030.0h5.8v24.0h-5.8zM1176.1 2030.0h5.8v24.0h-5.8zM1185.2 2030.0h5.8v24.0h-5.8zM1194.2 2030.0h5.8v24.0h-5.8zM1203.3 2030.0h5.8v24.0h-5.8zM1212.4 2030.0h5.8v24.0h-5.8zM1221.5 2030.0h5.8v24.0h-5.8zM1230.6 2030.0h5.8v24.0h-5.8zM1239.6 2030.0h5.8v24.0h-5.8zM1248.7 2030.0h5.8v24.0h-5.8zM1257.8 2030.0h5.8v24.0h-5.8zM1266.9 2030.0h5.8v24.0h-5.8zM1276.0 2030.0h5.8v24.0h-5.8zM1285.0 2030.0h5.8v24.0h-5.8zM1294.1 2030.0h5.8v24.0h-5.8zM1303.2 2030.0h5.8v24.0h-5.8zM1312.3 2030.0h5.8v24.0h-5.8zM1321.4 2030.0h5.8v24.0h-5.8zM1330.4 2030.0h5.8v24.0h-5.8zM1339.5 2030.0h5.8v24.0h-5.8zM1348.6 2030.0h5.8v24.0h-5.8zM1357.7 2030.0h5.8v24.0h-5.8zM1366.8 2030.0h5.8v24.0h-5.8zM1375.8 2030.0h5.8v24.0h-5.8zM1384.9 2030.0h5.8v24.0h-5.8zM1394.0 2030.0h5.8v24.0h-5.8zM1403.1 2030.0h5.8v24.0h-5.8zM1412.2 2030.0h5.8v24.0h-5.8zM1421.2 2030.0h5.8v24.0h-5.8zM1430.3 2030.0h5.8v24.0h-5.8zM1439.4 2030.0h5.8v24.0h-5.8zM1448.5 2030.0h5.8v24.0h-5.8zM1457.6 2030.0h5.8v24.0h-5.8zM1466.6 2030.0h5.8v24.0h-5.8zM1498.0 2030.0h5.8v24.0h-5.8zM1507.0 2030.0h5.8v24.0h-5.8zM1516.1 2030.0h5.8v24.0h-5.8zM1525.2 2030.0h5.8v24.0h-5.8zM1534.3 2030.0h5.8v24.0h-5.8zM1543.4 2030.0h5.8v24.0h-5.8zM1552.5 2030.0h5.8v24.0h-5.8zM1561.5 2030.0h5.8v24.0h-5.8zM1570.6 2030.0h5.8v24.0h-5.8zM1579.7 2030.0h5.8v24.0h-5.8zM1588.8 2030.0h5.8v24.0h-5.8zM1597.8 2030.0h5.8v24.0h-5.8zM1606.9 2030.0h5.8v24.0h-5.8zM1616.0 2030.0h5.8v24.0h-5.8zM1625.1 2030.0h5.8v24.0h-5.8zM1634.2 2030.0h5.8v24.0h-5.8zM1643.2 2030.0h5.8v24.0h-5.8zM1652.3 2030.0h5.8v24.0h-5.8zM1661.4 2030.0h5.8v24.0h-5.8zM1670.5 2030.0h5.8v24.0h-5.8zM1679.6 2030.0h5.8v24.0h-5.8zM1688.7 2030.0h5.8v24.0h-5.8zM1697.7 2030.0h5.8v24.0h-5.8zM1706.8 2030.0h5.8v24.0h-5.8zM1715.9 2030.0h5.8v24.0h-5.8zM1725.0 2030.0h5.8v24.0h-5.8zM1734.0 2030.0h5.8v24.0h-5.8zM1743.1 2030.0h5.8v24.0h-5.8zM1752.2 2030.0h5.8v24.0h-5.8zM1761.3 2030.0h5.8v24.0h-5.8zM1770.4 2030.0h5.8v24.0h-5.8zM1798.8 2030.0h5.8v24.0h-5.8zM1807.8 2030.0h5.8v24.0h-5.8zM1816.8 2030.0h5.8v24.0h-5.8z"/>
<path fill="#0f8040" d="M404.3 2038.1h5.8v7.8h-5.8zM522.3 2038.1h5.8v7.8h-5.8zM567.7 2038.1h5.8v7.8h-5.8zM885.5 2038.1h5.8v7.8h-5.8zM1625.1 2038.1h5.8v7.8h-5.8zM1634.2 2038.1h5.8v7.8h-5.8zM1643.2 2038.1h5.8v7.8h-5.8zM1670.5 2038.1h5.8v7.8h-5.8zM1679.6 2038.1h5.8v7.8h-5.8zM1688.7 2038.1h5.8v7.8h-5.8zM1697.7 2038.1h5.8v7.8h-5.8z"/>
<text x="152.5" y="2077.8" font-size="15.5" text-anchor="end" font-style="italic" fill="#2b2b2b" textLength="51.5" lengthAdjust="spacingAndGlyphs">MAPK1</text>
<path fill="#d4d5d7" d="M168.2 2061.0h5.8v24.0h-5.8zM177.3 2061.0h5.8v24.0h-5.8zM186.4 2061.0h5.8v24.0h-5.8zM195.4 2061.0h5.8v24.0h-5.8zM204.5 2061.0h5.8v24.0h-5.8zM213.6 2061.0h5.8v24.0h-5.8zM222.7 2061.0h5.8v24.0h-5.8zM231.8 2061.0h5.8v24.0h-5.8zM240.8 2061.0h5.8v24.0h-5.8zM249.9 2061.0h5.8v24.0h-5.8zM259.0 2061.0h5.8v24.0h-5.8zM268.1 2061.0h5.8v24.0h-5.8zM277.2 2061.0h5.8v24.0h-5.8zM286.2 2061.0h5.8v24.0h-5.8zM295.3 2061.0h5.8v24.0h-5.8zM304.4 2061.0h5.8v24.0h-5.8zM313.5 2061.0h5.8v24.0h-5.8zM322.6 2061.0h5.8v24.0h-5.8zM331.6 2061.0h5.8v24.0h-5.8zM340.7 2061.0h5.8v24.0h-5.8zM349.8 2061.0h5.8v24.0h-5.8zM358.9 2061.0h5.8v24.0h-5.8zM368.0 2061.0h5.8v24.0h-5.8zM377.0 2061.0h5.8v24.0h-5.8zM386.1 2061.0h5.8v24.0h-5.8zM395.2 2061.0h5.8v24.0h-5.8zM404.3 2061.0h5.8v24.0h-5.8zM413.4 2061.0h5.8v24.0h-5.8zM422.4 2061.0h5.8v24.0h-5.8zM431.5 2061.0h5.8v24.0h-5.8zM440.6 2061.0h5.8v24.0h-5.8zM449.7 2061.0h5.8v24.0h-5.8zM458.8 2061.0h5.8v24.0h-5.8zM467.8 2061.0h5.8v24.0h-5.8zM476.9 2061.0h5.8v24.0h-5.8zM486.0 2061.0h5.8v24.0h-5.8zM495.1 2061.0h5.8v24.0h-5.8zM504.2 2061.0h5.8v24.0h-5.8zM513.2 2061.0h5.8v24.0h-5.8zM522.3 2061.0h5.8v24.0h-5.8zM531.4 2061.0h5.8v24.0h-5.8zM540.5 2061.0h5.8v24.0h-5.8zM549.6 2061.0h5.8v24.0h-5.8zM558.6 2061.0h5.8v24.0h-5.8zM567.7 2061.0h5.8v24.0h-5.8zM576.8 2061.0h5.8v24.0h-5.8zM585.9 2061.0h5.8v24.0h-5.8zM595.0 2061.0h5.8v24.0h-5.8zM604.0 2061.0h5.8v24.0h-5.8zM613.1 2061.0h5.8v24.0h-5.8zM622.2 2061.0h5.8v24.0h-5.8zM631.3 2061.0h5.8v24.0h-5.8zM640.4 2061.0h5.8v24.0h-5.8zM649.4 2061.0h5.8v24.0h-5.8zM658.5 2061.0h5.8v24.0h-5.8zM667.6 2061.0h5.8v24.0h-5.8zM676.7 2061.0h5.8v24.0h-5.8zM685.8 2061.0h5.8v24.0h-5.8zM694.8 2061.0h5.8v24.0h-5.8zM703.9 2061.0h5.8v24.0h-5.8zM713.0 2061.0h5.8v24.0h-5.8zM722.1 2061.0h5.8v24.0h-5.8zM731.2 2061.0h5.8v24.0h-5.8zM740.2 2061.0h5.8v24.0h-5.8zM749.3 2061.0h5.8v24.0h-5.8zM758.4 2061.0h5.8v24.0h-5.8zM767.5 2061.0h5.8v24.0h-5.8zM776.6 2061.0h5.8v24.0h-5.8zM785.6 2061.0h5.8v24.0h-5.8zM794.7 2061.0h5.8v24.0h-5.8zM803.8 2061.0h5.8v24.0h-5.8zM812.9 2061.0h5.8v24.0h-5.8zM822.0 2061.0h5.8v24.0h-5.8zM831.0 2061.0h5.8v24.0h-5.8zM840.1 2061.0h5.8v24.0h-5.8zM849.2 2061.0h5.8v24.0h-5.8zM858.3 2061.0h5.8v24.0h-5.8zM867.4 2061.0h5.8v24.0h-5.8zM876.4 2061.0h5.8v24.0h-5.8zM885.5 2061.0h5.8v24.0h-5.8zM912.8 2061.0h5.8v24.0h-5.8zM921.8 2061.0h5.8v24.0h-5.8zM930.9 2061.0h5.8v24.0h-5.8zM940.0 2061.0h5.8v24.0h-5.8zM949.1 2061.0h5.8v24.0h-5.8zM958.2 2061.0h5.8v24.0h-5.8zM967.2 2061.0h5.8v24.0h-5.8zM976.3 2061.0h5.8v24.0h-5.8zM985.4 2061.0h5.8v24.0h-5.8zM994.5 2061.0h5.8v24.0h-5.8zM1003.6 2061.0h5.8v24.0h-5.8zM1012.6 2061.0h5.8v24.0h-5.8zM1021.7 2061.0h5.8v24.0h-5.8zM1030.8 2061.0h5.8v24.0h-5.8zM1039.9 2061.0h5.8v24.0h-5.8zM1049.0 2061.0h5.8v24.0h-5.8zM1058.0 2061.0h5.8v24.0h-5.8zM1067.1 2061.0h5.8v24.0h-5.8zM1076.2 2061.0h5.8v24.0h-5.8zM1085.3 2061.0h5.8v24.0h-5.8zM1094.4 2061.0h5.8v24.0h-5.8zM1103.4 2061.0h5.8v24.0h-5.8zM1112.5 2061.0h5.8v24.0h-5.8zM1121.6 2061.0h5.8v24.0h-5.8zM1130.7 2061.0h5.8v24.0h-5.8zM1139.8 2061.0h5.8v24.0h-5.8zM1148.8 2061.0h5.8v24.0h-5.8zM1157.9 2061.0h5.8v24.0h-5.8zM1167.0 2061.0h5.8v24.0h-5.8zM1176.1 2061.0h5.8v24.0h-5.8zM1185.2 2061.0h5.8v24.0h-5.8zM1194.2 2061.0h5.8v24.0h-5.8zM1203.3 2061.0h5.8v24.0h-5.8zM1212.4 2061.0h5.8v24.0h-5.8zM1221.5 2061.0h5.8v24.0h-5.8zM1230.6 2061.0h5.8v24.0h-5.8zM1239.6 2061.0h5.8v24.0h-5.8zM1248.7 2061.0h5.8v24.0h-5.8zM1257.8 2061.0h5.8v24.0h-5.8zM1266.9 2061.0h5.8v24.0h-5.8zM1276.0 2061.0h5.8v24.0h-5.8zM1285.0 2061.0h5.8v24.0h-5.8zM1294.1 2061.0h5.8v24.0h-5.8zM1303.2 2061.0h5.8v24.0h-5.8zM1312.3 2061.0h5.8v24.0h-5.8zM1321.4 2061.0h5.8v24.0h-5.8zM1330.4 2061.0h5.8v24.0h-5.8zM1339.5 2061.0h5.8v24.0h-5.8zM1348.6 2061.0h5.8v24.0h-5.8zM1357.7 2061.0h5.8v24.0h-5.8zM1366.8 2061.0h5.8v24.0h-5.8zM1375.8 2061.0h5.8v24.0h-5.8zM1384.9 2061.0h5.8v24.0h-5.8zM1394.0 2061.0h5.8v24.0h-5.8zM1403.1 2061.0h5.8v24.0h-5.8zM1412.2 2061.0h5.8v24.0h-5.8zM1421.2 2061.0h5.8v24.0h-5.8zM1430.3 2061.0h5.8v24.0h-5.8zM1439.4 2061.0h5.8v24.0h-5.8zM1448.5 2061.0h5.8v24.0h-5.8zM1457.6 2061.0h5.8v24.0h-5.8zM1466.6 2061.0h5.8v24.0h-5.8zM1498.0 2061.0h5.8v24.0h-5.8zM1507.0 2061.0h5.8v24.0h-5.8zM1516.1 2061.0h5.8v24.0h-5.8zM1525.2 2061.0h5.8v24.0h-5.8zM1534.3 2061.0h5.8v24.0h-5.8zM1543.4 2061.0h5.8v24.0h-5.8zM1552.5 2061.0h5.8v24.0h-5.8zM1561.5 2061.0h5.8v24.0h-5.8zM1570.6 2061.0h5.8v24.0h-5.8zM1579.7 2061.0h5.8v24.0h-5.8zM1588.8 2061.0h5.8v24.0h-5.8zM1597.8 2061.0h5.8v24.0h-5.8zM1606.9 2061.0h5.8v24.0h-5.8zM1616.0 2061.0h5.8v24.0h-5.8zM1625.1 2061.0h5.8v24.0h-5.8zM1634.2 2061.0h5.8v24.0h-5.8zM1643.2 2061.0h5.8v24.0h-5.8zM1652.3 2061.0h5.8v24.0h-5.8zM1661.4 2061.0h5.8v24.0h-5.8zM1670.5 2061.0h5.8v24.0h-5.8zM1679.6 2061.0h5.8v24.0h-5.8zM1688.7 2061.0h5.8v24.0h-5.8zM1697.7 2061.0h5.8v24.0h-5.8zM1706.8 2061.0h5.8v24.0h-5.8zM1715.9 2061.0h5.8v24.0h-5.8zM1725.0 2061.0h5.8v24.0h-5.8zM1734.0 2061.0h5.8v24.0h-5.8zM1743.1 2061.0h5.8v24.0h-5.8zM1752.2 2061.0h5.8v24.0h-5.8zM1761.3 2061.0h5.8v24.0h-5.8zM1770.4 2061.0h5.8v24.0h-5.8zM1798.8 2061.0h5.8v24.0h-5.8zM1807.8 2061.0h5.8v24.0h-5.8zM1816.8 2061.0h5.8v24.0h-5.8z"/>
<path fill="#ec1c24" d="M894.6 2061.0h5.8v24.0h-5.8zM903.7 2061.0h5.8v24.0h-5.8z"/>
<path fill="#0f8040" d="M576.8 2069.1h5.8v7.8h-5.8zM585.9 2069.1h5.8v7.8h-5.8zM822.0 2069.1h5.8v7.8h-5.8zM876.4 2069.1h5.8v7.8h-5.8zM912.8 2069.1h5.8v7.8h-5.8zM921.8 2069.1h5.8v7.8h-5.8zM930.9 2069.1h5.8v7.8h-5.8zM940.0 2069.1h5.8v7.8h-5.8zM949.1 2069.1h5.8v7.8h-5.8z"/>
<text x="152.5" y="2108.7" font-size="15.5" text-anchor="end" font-style="italic" fill="#2b2b2b" textLength="59.9" lengthAdjust="spacingAndGlyphs">TGFBR2</text>
<path fill="#d4d5d7" d="M168.2 2091.9h5.8v24.0h-5.8zM177.3 2091.9h5.8v24.0h-5.8zM186.4 2091.9h5.8v24.0h-5.8zM195.4 2091.9h5.8v24.0h-5.8zM204.5 2091.9h5.8v24.0h-5.8zM213.6 2091.9h5.8v24.0h-5.8zM222.7 2091.9h5.8v24.0h-5.8zM231.8 2091.9h5.8v24.0h-5.8zM240.8 2091.9h5.8v24.0h-5.8zM249.9 2091.9h5.8v24.0h-5.8zM259.0 2091.9h5.8v24.0h-5.8zM268.1 2091.9h5.8v24.0h-5.8zM277.2 2091.9h5.8v24.0h-5.8zM286.2 2091.9h5.8v24.0h-5.8zM295.3 2091.9h5.8v24.0h-5.8zM304.4 2091.9h5.8v24.0h-5.8zM313.5 2091.9h5.8v24.0h-5.8zM322.6 2091.9h5.8v24.0h-5.8zM331.6 2091.9h5.8v24.0h-5.8zM340.7 2091.9h5.8v24.0h-5.8zM349.8 2091.9h5.8v24.0h-5.8zM358.9 2091.9h5.8v24.0h-5.8zM368.0 2091.9h5.8v24.0h-5.8zM377.0 2091.9h5.8v24.0h-5.8zM386.1 2091.9h5.8v24.0h-5.8zM395.2 2091.9h5.8v24.0h-5.8zM404.3 2091.9h5.8v24.0h-5.8zM422.4 2091.9h5.8v24.0h-5.8zM431.5 2091.9h5.8v24.0h-5.8zM440.6 2091.9h5.8v24.0h-5.8zM449.7 2091.9h5.8v24.0h-5.8zM458.8 2091.9h5.8v24.0h-5.8zM467.8 2091.9h5.8v24.0h-5.8zM476.9 2091.9h5.8v24.0h-5.8zM486.0 2091.9h5.8v24.0h-5.8zM495.1 2091.9h5.8v24.0h-5.8zM504.2 2091.9h5.8v24.0h-5.8zM513.2 2091.9h5.8v24.0h-5.8zM522.3 2091.9h5.8v24.0h-5.8zM531.4 2091.9h5.8v24.0h-5.8zM540.5 2091.9h5.8v24.0h-5.8zM549.6 2091.9h5.8v24.0h-5.8zM558.6 2091.9h5.8v24.0h-5.8zM567.7 2091.9h5.8v24.0h-5.8zM576.8 2091.9h5.8v24.0h-5.8zM585.9 2091.9h5.8v24.0h-5.8zM631.3 2091.9h5.8v24.0h-5.8zM640.4 2091.9h5.8v24.0h-5.8zM649.4 2091.9h5.8v24.0h-5.8zM658.5 2091.9h5.8v24.0h-5.8zM667.6 2091.9h5.8v24.0h-5.8zM676.7 2091.9h5.8v24.0h-5.8zM685.8 2091.9h5.8v24.0h-5.8zM694.8 2091.9h5.8v24.0h-5.8zM703.9 2091.9h5.8v24.0h-5.8zM713.0 2091.9h5.8v24.0h-5.8zM722.1 2091.9h5.8v24.0h-5.8zM731.2 2091.9h5.8v24.0h-5.8zM740.2 2091.9h5.8v24.0h-5.8zM749.3 2091.9h5.8v24.0h-5.8zM758.4 2091.9h5.8v24.0h-5.8zM767.5 2091.9h5.8v24.0h-5.8zM776.6 2091.9h5.8v24.0h-5.8zM785.6 2091.9h5.8v24.0h-5.8zM794.7 2091.9h5.8v24.0h-5.8zM803.8 2091.9h5.8v24.0h-5.8zM812.9 2091.9h5.8v24.0h-5.8zM822.0 2091.9h5.8v24.0h-5.8zM831.0 2091.9h5.8v24.0h-5.8zM840.1 2091.9h5.8v24.0h-5.8zM849.2 2091.9h5.8v24.0h-5.8zM858.3 2091.9h5.8v24.0h-5.8zM867.4 2091.9h5.8v24.0h-5.8zM876.4 2091.9h5.8v24.0h-5.8zM885.5 2091.9h5.8v24.0h-5.8zM894.6 2091.9h5.8v24.0h-5.8zM903.7 2091.9h5.8v24.0h-5.8zM912.8 2091.9h5.8v24.0h-5.8zM921.8 2091.9h5.8v24.0h-5.8zM930.9 2091.9h5.8v24.0h-5.8zM940.0 2091.9h5.8v24.0h-5.8zM949.1 2091.9h5.8v24.0h-5.8zM967.2 2091.9h5.8v24.0h-5.8zM976.3 2091.9h5.8v24.0h-5.8zM985.4 2091.9h5.8v24.0h-5.8zM994.5 2091.9h5.8v24.0h-5.8zM1003.6 2091.9h5.8v24.0h-5.8zM1012.6 2091.9h5.8v24.0h-5.8zM1021.7 2091.9h5.8v24.0h-5.8zM1030.8 2091.9h5.8v24.0h-5.8zM1039.9 2091.9h5.8v24.0h-5.8zM1049.0 2091.9h5.8v24.0h-5.8zM1058.0 2091.9h5.8v24.0h-5.8zM1067.1 2091.9h5.8v24.0h-5.8zM1076.2 2091.9h5.8v24.0h-5.8zM1085.3 2091.9h5.8v24.0h-5.8zM1094.4 2091.9h5.8v24.0h-5.8zM1103.4 2091.9h5.8v24.0h-5.8zM1112.5 2091.9h5.8v24.0h-5.8zM1121.6 2091.9h5.8v24.0h-5.8zM1130.7 2091.9h5.8v24.0h-5.8zM1139.8 2091.9h5.8v24.0h-5.8zM1148.8 2091.9h5.8v24.0h-5.8zM1157.9 2091.9h5.8v24.0h-5.8zM1167.0 2091.9h5.8v24.0h-5.8zM1176.1 2091.9h5.8v24.0h-5.8zM1185.2 2091.9h5.8v24.0h-5.8zM1194.2 2091.9h5.8v24.0h-5.8zM1203.3 2091.9h5.8v24.0h-5.8zM1212.4 2091.9h5.8v24.0h-5.8zM1221.5 2091.9h5.8v24.0h-5.8zM1230.6 2091.9h5.8v24.0h-5.8zM1239.6 2091.9h5.8v24.0h-5.8zM1248.7 2091.9h5.8v24.0h-5.8zM1257.8 2091.9h5.8v24.0h-5.8zM1266.9 2091.9h5.8v24.0h-5.8zM1276.0 2091.9h5.8v24.0h-5.8zM1285.0 2091.9h5.8v24.0h-5.8zM1294.1 2091.9h5.8v24.0h-5.8zM1303.2 2091.9h5.8v24.0h-5.8zM1312.3 2091.9h5.8v24.0h-5.8zM1321.4 2091.9h5.8v24.0h-5.8zM1330.4 2091.9h5.8v24.0h-5.8zM1339.5 2091.9h5.8v24.0h-5.8zM1348.6 2091.9h5.8v24.0h-5.8zM1357.7 2091.9h5.8v24.0h-5.8zM1366.8 2091.9h5.8v24.0h-5.8zM1375.8 2091.9h5.8v24.0h-5.8zM1384.9 2091.9h5.8v24.0h-5.8zM1394.0 2091.9h5.8v24.0h-5.8zM1403.1 2091.9h5.8v24.0h-5.8zM1412.2 2091.9h5.8v24.0h-5.8zM1421.2 2091.9h5.8v24.0h-5.8zM1430.3 2091.9h5.8v24.0h-5.8zM1439.4 2091.9h5.8v24.0h-5.8zM1448.5 2091.9h5.8v24.0h-5.8zM1457.6 2091.9h5.8v24.0h-5.8zM1466.6 2091.9h5.8v24.0h-5.8zM1498.0 2091.9h5.8v24.0h-5.8zM1507.0 2091.9h5.8v24.0h-5.8zM1516.1 2091.9h5.8v24.0h-5.8zM1525.2 2091.9h5.8v24.0h-5.8zM1534.3 2091.9h5.8v24.0h-5.8zM1543.4 2091.9h5.8v24.0h-5.8zM1552.5 2091.9h5.8v24.0h-5.8zM1561.5 2091.9h5.8v24.0h-5.8zM1570.6 2091.9h5.8v24.0h-5.8zM1579.7 2091.9h5.8v24.0h-5.8zM1588.8 2091.9h5.8v24.0h-5.8zM1597.8 2091.9h5.8v24.0h-5.8zM1606.9 2091.9h5.8v24.0h-5.8zM1616.0 2091.9h5.8v24.0h-5.8zM1625.1 2091.9h5.8v24.0h-5.8zM1634.2 2091.9h5.8v24.0h-5.8zM1643.2 2091.9h5.8v24.0h-5.8zM1652.3 2091.9h5.8v24.0h-5.8zM1661.4 2091.9h5.8v24.0h-5.8zM1670.5 2091.9h5.8v24.0h-5.8zM1679.6 2091.9h5.8v24.0h-5.8zM1688.7 2091.9h5.8v24.0h-5.8zM1697.7 2091.9h5.8v24.0h-5.8zM1706.8 2091.9h5.8v24.0h-5.8zM1715.9 2091.9h5.8v24.0h-5.8zM1725.0 2091.9h5.8v24.0h-5.8zM1734.0 2091.9h5.8v24.0h-5.8zM1743.1 2091.9h5.8v24.0h-5.8zM1752.2 2091.9h5.8v24.0h-5.8zM1761.3 2091.9h5.8v24.0h-5.8zM1770.4 2091.9h5.8v24.0h-5.8zM1798.8 2091.9h5.8v24.0h-5.8zM1807.8 2091.9h5.8v24.0h-5.8zM1816.8 2091.9h5.8v24.0h-5.8z"/>
<path fill="#3a54a4" d="M413.4 2091.9h5.8v24.0h-5.8zM595.0 2091.9h5.8v24.0h-5.8zM604.0 2091.9h5.8v24.0h-5.8zM613.1 2091.9h5.8v24.0h-5.8zM622.2 2091.9h5.8v24.0h-5.8zM958.2 2091.9h5.8v24.0h-5.8z"/>
<path fill="#0f8040" d="M631.3 2100.0h5.8v7.8h-5.8zM985.4 2100.0h5.8v7.8h-5.8z"/>
<path fill="#231f20" d="M349.8 2100.0h5.8v7.8h-5.8zM967.2 2100.0h5.8v7.8h-5.8zM976.3 2100.0h5.8v7.8h-5.8z"/>
<text x="152.5" y="2139.6" font-size="15.5" text-anchor="end" font-style="italic" fill="#2b2b2b" textLength="62.6" lengthAdjust="spacingAndGlyphs">CREBBP</text>
<path fill="#d4d5d7" d="M168.2 2122.8h5.8v24.0h-5.8zM177.3 2122.8h5.8v24.0h-5.8zM186.4 2122.8h5.8v24.0h-5.8zM195.4 2122.8h5.8v24.0h-5.8zM204.5 2122.8h5.8v24.0h-5.8zM213.6 2122.8h5.8v24.0h-5.8zM222.7 2122.8h5.8v24.0h-5.8zM231.8 2122.8h5.8v24.0h-5.8zM240.8 2122.8h5.8v24.0h-5.8zM249.9 2122.8h5.8v24.0h-5.8zM259.0 2122.8h5.8v24.0h-5.8zM268.1 2122.8h5.8v24.0h-5.8zM277.2 2122.8h5.8v24.0h-5.8zM286.2 2122.8h5.8v24.0h-5.8zM295.3 2122.8h5.8v24.0h-5.8zM304.4 2122.8h5.8v24.0h-5.8zM313.5 2122.8h5.8v24.0h-5.8zM322.6 2122.8h5.8v24.0h-5.8zM331.6 2122.8h5.8v24.0h-5.8zM340.7 2122.8h5.8v24.0h-5.8zM349.8 2122.8h5.8v24.0h-5.8zM358.9 2122.8h5.8v24.0h-5.8zM368.0 2122.8h5.8v24.0h-5.8zM377.0 2122.8h5.8v24.0h-5.8zM386.1 2122.8h5.8v24.0h-5.8zM395.2 2122.8h5.8v24.0h-5.8zM404.3 2122.8h5.8v24.0h-5.8zM413.4 2122.8h5.8v24.0h-5.8zM422.4 2122.8h5.8v24.0h-5.8zM431.5 2122.8h5.8v24.0h-5.8zM440.6 2122.8h5.8v24.0h-5.8zM449.7 2122.8h5.8v24.0h-5.8zM458.8 2122.8h5.8v24.0h-5.8zM467.8 2122.8h5.8v24.0h-5.8zM476.9 2122.8h5.8v24.0h-5.8zM486.0 2122.8h5.8v24.0h-5.8zM495.1 2122.8h5.8v24.0h-5.8zM504.2 2122.8h5.8v24.0h-5.8zM513.2 2122.8h5.8v24.0h-5.8zM522.3 2122.8h5.8v24.0h-5.8zM531.4 2122.8h5.8v24.0h-5.8zM540.5 2122.8h5.8v24.0h-5.8zM549.6 2122.8h5.8v24.0h-5.8zM558.6 2122.8h5.8v24.0h-5.8zM567.7 2122.8h5.8v24.0h-5.8zM576.8 2122.8h5.8v24.0h-5.8zM585.9 2122.8h5.8v24.0h-5.8zM595.0 2122.8h5.8v24.0h-5.8zM604.0 2122.8h5.8v24.0h-5.8zM613.1 2122.8h5.8v24.0h-5.8zM622.2 2122.8h5.8v24.0h-5.8zM631.3 2122.8h5.8v24.0h-5.8zM640.4 2122.8h5.8v24.0h-5.8zM649.4 2122.8h5.8v24.0h-5.8zM658.5 2122.8h5.8v24.0h-5.8zM667.6 2122.8h5.8v24.0h-5.8zM676.7 2122.8h5.8v24.0h-5.8zM685.8 2122.8h5.8v24.0h-5.8zM694.8 2122.8h5.8v24.0h-5.8zM703.9 2122.8h5.8v24.0h-5.8zM713.0 2122.8h5.8v24.0h-5.8zM722.1 2122.8h5.8v24.0h-5.8zM731.2 2122.8h5.8v24.0h-5.8zM740.2 2122.8h5.8v24.0h-5.8zM749.3 2122.8h5.8v24.0h-5.8zM758.4 2122.8h5.8v24.0h-5.8zM767.5 2122.8h5.8v24.0h-5.8zM776.6 2122.8h5.8v24.0h-5.8zM785.6 2122.8h5.8v24.0h-5.8zM794.7 2122.8h5.8v24.0h-5.8zM803.8 2122.8h5.8v24.0h-5.8zM812.9 2122.8h5.8v24.0h-5.8zM822.0 2122.8h5.8v24.0h-5.8zM831.0 2122.8h5.8v24.0h-5.8zM840.1 2122.8h5.8v24.0h-5.8zM849.2 2122.8h5.8v24.0h-5.8zM858.3 2122.8h5.8v24.0h-5.8zM867.4 2122.8h5.8v24.0h-5.8zM876.4 2122.8h5.8v24.0h-5.8zM885.5 2122.8h5.8v24.0h-5.8zM894.6 2122.8h5.8v24.0h-5.8zM903.7 2122.8h5.8v24.0h-5.8zM912.8 2122.8h5.8v24.0h-5.8zM921.8 2122.8h5.8v24.0h-5.8zM930.9 2122.8h5.8v24.0h-5.8zM940.0 2122.8h5.8v24.0h-5.8zM949.1 2122.8h5.8v24.0h-5.8zM958.2 2122.8h5.8v24.0h-5.8zM967.2 2122.8h5.8v24.0h-5.8zM976.3 2122.8h5.8v24.0h-5.8zM985.4 2122.8h5.8v24.0h-5.8zM994.5 2122.8h5.8v24.0h-5.8zM1003.6 2122.8h5.8v24.0h-5.8zM1012.6 2122.8h5.8v24.0h-5.8zM1021.7 2122.8h5.8v24.0h-5.8zM1030.8 2122.8h5.8v24.0h-5.8zM1039.9 2122.8h5.8v24.0h-5.8zM1049.0 2122.8h5.8v24.0h-5.8zM1058.0 2122.8h5.8v24.0h-5.8zM1067.1 2122.8h5.8v24.0h-5.8zM1076.2 2122.8h5.8v24.0h-5.8zM1085.3 2122.8h5.8v24.0h-5.8zM1094.4 2122.8h5.8v24.0h-5.8zM1103.4 2122.8h5.8v24.0h-5.8zM1112.5 2122.8h5.8v24.0h-5.8zM1121.6 2122.8h5.8v24.0h-5.8zM1130.7 2122.8h5.8v24.0h-5.8zM1139.8 2122.8h5.8v24.0h-5.8zM1148.8 2122.8h5.8v24.0h-5.8zM1157.9 2122.8h5.8v24.0h-5.8zM1167.0 2122.8h5.8v24.0h-5.8zM1176.1 2122.8h5.8v24.0h-5.8zM1185.2 2122.8h5.8v24.0h-5.8zM1194.2 2122.8h5.8v24.0h-5.8zM1203.3 2122.8h5.8v24.0h-5.8zM1212.4 2122.8h5.8v24.0h-5.8zM1221.5 2122.8h5.8v24.0h-5.8zM1230.6 2122.8h5.8v24.0h-5.8zM1239.6 2122.8h5.8v24.0h-5.8zM1248.7 2122.8h5.8v24.0h-5.8zM1257.8 2122.8h5.8v24.0h-5.8zM1266.9 2122.8h5.8v24.0h-5.8zM1276.0 2122.8h5.8v24.0h-5.8zM1285.0 2122.8h5.8v24.0h-5.8zM1294.1 2122.8h5.8v24.0h-5.8zM1303.2 2122.8h5.8v24.0h-5.8zM1312.3 2122.8h5.8v24.0h-5.8zM1321.4 2122.8h5.8v24.0h-5.8zM1330.4 2122.8h5.8v24.0h-5.8zM1339.5 2122.8h5.8v24.0h-5.8zM1348.6 2122.8h5.8v24.0h-5.8zM1357.7 2122.8h5.8v24.0h-5.8zM1366.8 2122.8h5.8v24.0h-5.8zM1375.8 2122.8h5.8v24.0h-5.8zM1384.9 2122.8h5.8v24.0h-5.8zM1394.0 2122.8h5.8v24.0h-5.8zM1403.1 2122.8h5.8v24.0h-5.8zM1412.2 2122.8h5.8v24.0h-5.8zM1421.2 2122.8h5.8v24.0h-5.8zM1430.3 2122.8h5.8v24.0h-5.8zM1439.4 2122.8h5.8v24.0h-5.8zM1448.5 2122.8h5.8v24.0h-5.8zM1457.6 2122.8h5.8v24.0h-5.8zM1466.6 2122.8h5.8v24.0h-5.8zM1498.0 2122.8h5.8v24.0h-5.8zM1507.0 2122.8h5.8v24.0h-5.8zM1516.1 2122.8h5.8v24.0h-5.8zM1525.2 2122.8h5.8v24.0h-5.8zM1534.3 2122.8h5.8v24.0h-5.8zM1543.4 2122.8h5.8v24.0h-5.8zM1552.5 2122.8h5.8v24.0h-5.8zM1561.5 2122.8h5.8v24.0h-5.8zM1570.6 2122.8h5.8v24.0h-5.8zM1579.7 2122.8h5.8v24.0h-5.8zM1588.8 2122.8h5.8v24.0h-5.8zM1597.8 2122.8h5.8v24.0h-5.8zM1606.9 2122.8h5.8v24.0h-5.8zM1616.0 2122.8h5.8v24.0h-5.8zM1625.1 2122.8h5.8v24.0h-5.8zM1634.2 2122.8h5.8v24.0h-5.8zM1643.2 2122.8h5.8v24.0h-5.8zM1652.3 2122.8h5.8v24.0h-5.8zM1661.4 2122.8h5.8v24.0h-5.8zM1670.5 2122.8h5.8v24.0h-5.8zM1679.6 2122.8h5.8v24.0h-5.8zM1688.7 2122.8h5.8v24.0h-5.8zM1697.7 2122.8h5.8v24.0h-5.8zM1706.8 2122.8h5.8v24.0h-5.8zM1715.9 2122.8h5.8v24.0h-5.8zM1725.0 2122.8h5.8v24.0h-5.8zM1734.0 2122.8h5.8v24.0h-5.8zM1743.1 2122.8h5.8v24.0h-5.8zM1752.2 2122.8h5.8v24.0h-5.8zM1761.3 2122.8h5.8v24.0h-5.8zM1770.4 2122.8h5.8v24.0h-5.8zM1798.8 2122.8h5.8v24.0h-5.8zM1807.8 2122.8h5.8v24.0h-5.8zM1816.8 2122.8h5.8v24.0h-5.8z"/>
<path fill="#0f8040" d="M249.9 2130.9h5.8v7.8h-5.8zM422.4 2130.9h5.8v7.8h-5.8zM431.5 2130.9h5.8v7.8h-5.8zM531.4 2130.9h5.8v7.8h-5.8zM640.4 2130.9h5.8v7.8h-5.8zM649.4 2130.9h5.8v7.8h-5.8zM867.4 2130.9h5.8v7.8h-5.8zM1012.6 2130.9h5.8v7.8h-5.8z"/>
<path fill="#231f20" d="M322.6 2130.9h5.8v7.8h-5.8zM994.5 2130.9h5.8v7.8h-5.8zM1003.6 2130.9h5.8v7.8h-5.8zM1543.4 2130.9h5.8v7.8h-5.8zM1652.3 2130.9h5.8v7.8h-5.8z"/>
<text x="152.5" y="2170.6" font-size="15.5" text-anchor="end" font-style="italic" fill="#2b2b2b" textLength="45.6" lengthAdjust="spacingAndGlyphs">EP300</text>
<path fill="#d4d5d7" d="M168.2 2153.8h5.8v24.0h-5.8zM177.3 2153.8h5.8v24.0h-5.8zM186.4 2153.8h5.8v24.0h-5.8zM195.4 2153.8h5.8v24.0h-5.8zM204.5 2153.8h5.8v24.0h-5.8zM213.6 2153.8h5.8v24.0h-5.8zM222.7 2153.8h5.8v24.0h-5.8zM231.8 2153.8h5.8v24.0h-5.8zM240.8 2153.8h5.8v24.0h-5.8zM249.9 2153.8h5.8v24.0h-5.8zM259.0 2153.8h5.8v24.0h-5.8zM268.1 2153.8h5.8v24.0h-5.8zM277.2 2153.8h5.8v24.0h-5.8zM286.2 2153.8h5.8v24.0h-5.8zM295.3 2153.8h5.8v24.0h-5.8zM304.4 2153.8h5.8v24.0h-5.8zM313.5 2153.8h5.8v24.0h-5.8zM322.6 2153.8h5.8v24.0h-5.8zM331.6 2153.8h5.8v24.0h-5.8zM340.7 2153.8h5.8v24.0h-5.8zM349.8 2153.8h5.8v24.0h-5.8zM358.9 2153.8h5.8v24.0h-5.8zM368.0 2153.8h5.8v24.0h-5.8zM377.0 2153.8h5.8v24.0h-5.8zM386.1 2153.8h5.8v24.0h-5.8zM395.2 2153.8h5.8v24.0h-5.8zM404.3 2153.8h5.8v24.0h-5.8zM413.4 2153.8h5.8v24.0h-5.8zM422.4 2153.8h5.8v24.0h-5.8zM431.5 2153.8h5.8v24.0h-5.8zM440.6 2153.8h5.8v24.0h-5.8zM449.7 2153.8h5.8v24.0h-5.8zM458.8 2153.8h5.8v24.0h-5.8zM467.8 2153.8h5.8v24.0h-5.8zM476.9 2153.8h5.8v24.0h-5.8zM486.0 2153.8h5.8v24.0h-5.8zM495.1 2153.8h5.8v24.0h-5.8zM504.2 2153.8h5.8v24.0h-5.8zM513.2 2153.8h5.8v24.0h-5.8zM522.3 2153.8h5.8v24.0h-5.8zM531.4 2153.8h5.8v24.0h-5.8zM540.5 2153.8h5.8v24.0h-5.8zM549.6 2153.8h5.8v24.0h-5.8zM558.6 2153.8h5.8v24.0h-5.8zM567.7 2153.8h5.8v24.0h-5.8zM576.8 2153.8h5.8v24.0h-5.8zM585.9 2153.8h5.8v24.0h-5.8zM595.0 2153.8h5.8v24.0h-5.8zM604.0 2153.8h5.8v24.0h-5.8zM613.1 2153.8h5.8v24.0h-5.8zM622.2 2153.8h5.8v24.0h-5.8zM631.3 2153.8h5.8v24.0h-5.8zM640.4 2153.8h5.8v24.0h-5.8zM649.4 2153.8h5.8v24.0h-5.8zM667.6 2153.8h5.8v24.0h-5.8zM676.7 2153.8h5.8v24.0h-5.8zM685.8 2153.8h5.8v24.0h-5.8zM694.8 2153.8h5.8v24.0h-5.8zM703.9 2153.8h5.8v24.0h-5.8zM713.0 2153.8h5.8v24.0h-5.8zM722.1 2153.8h5.8v24.0h-5.8zM731.2 2153.8h5.8v24.0h-5.8zM740.2 2153.8h5.8v24.0h-5.8zM749.3 2153.8h5.8v24.0h-5.8zM758.4 2153.8h5.8v24.0h-5.8zM767.5 2153.8h5.8v24.0h-5.8zM776.6 2153.8h5.8v24.0h-5.8zM785.6 2153.8h5.8v24.0h-5.8zM794.7 2153.8h5.8v24.0h-5.8zM803.8 2153.8h5.8v24.0h-5.8zM812.9 2153.8h5.8v24.0h-5.8zM822.0 2153.8h5.8v24.0h-5.8zM831.0 2153.8h5.8v24.0h-5.8zM840.1 2153.8h5.8v24.0h-5.8zM849.2 2153.8h5.8v24.0h-5.8zM858.3 2153.8h5.8v24.0h-5.8zM867.4 2153.8h5.8v24.0h-5.8zM876.4 2153.8h5.8v24.0h-5.8zM885.5 2153.8h5.8v24.0h-5.8zM894.6 2153.8h5.8v24.0h-5.8zM903.7 2153.8h5.8v24.0h-5.8zM912.8 2153.8h5.8v24.0h-5.8zM921.8 2153.8h5.8v24.0h-5.8zM930.9 2153.8h5.8v24.0h-5.8zM940.0 2153.8h5.8v24.0h-5.8zM949.1 2153.8h5.8v24.0h-5.8zM958.2 2153.8h5.8v24.0h-5.8zM967.2 2153.8h5.8v24.0h-5.8zM976.3 2153.8h5.8v24.0h-5.8zM985.4 2153.8h5.8v24.0h-5.8zM994.5 2153.8h5.8v24.0h-5.8zM1003.6 2153.8h5.8v24.0h-5.8zM1012.6 2153.8h5.8v24.0h-5.8zM1030.8 2153.8h5.8v24.0h-5.8zM1039.9 2153.8h5.8v24.0h-5.8zM1049.0 2153.8h5.8v24.0h-5.8zM1058.0 2153.8h5.8v24.0h-5.8zM1067.1 2153.8h5.8v24.0h-5.8zM1076.2 2153.8h5.8v24.0h-5.8zM1085.3 2153.8h5.8v24.0h-5.8zM1094.4 2153.8h5.8v24.0h-5.8zM1103.4 2153.8h5.8v24.0h-5.8zM1112.5 2153.8h5.8v24.0h-5.8zM1121.6 2153.8h5.8v24.0h-5.8zM1130.7 2153.8h5.8v24.0h-5.8zM1139.8 2153.8h5.8v24.0h-5.8zM1148.8 2153.8h5.8v24.0h-5.8zM1157.9 2153.8h5.8v24.0h-5.8zM1167.0 2153.8h5.8v24.0h-5.8zM1176.1 2153.8h5.8v24.0h-5.8zM1185.2 2153.8h5.8v24.0h-5.8zM1194.2 2153.8h5.8v24.0h-5.8zM1203.3 2153.8h5.8v24.0h-5.8zM1212.4 2153.8h5.8v24.0h-5.8zM1221.5 2153.8h5.8v24.0h-5.8zM1230.6 2153.8h5.8v24.0h-5.8zM1239.6 2153.8h5.8v24.0h-5.8zM1248.7 2153.8h5.8v24.0h-5.8zM1257.8 2153.8h5.8v24.0h-5.8zM1266.9 2153.8h5.8v24.0h-5.8zM1276.0 2153.8h5.8v24.0h-5.8zM1285.0 2153.8h5.8v24.0h-5.8zM1294.1 2153.8h5.8v24.0h-5.8zM1303.2 2153.8h5.8v24.0h-5.8zM1312.3 2153.8h5.8v24.0h-5.8zM1321.4 2153.8h5.8v24.0h-5.8zM1330.4 2153.8h5.8v24.0h-5.8zM1339.5 2153.8h5.8v24.0h-5.8zM1348.6 2153.8h5.8v24.0h-5.8zM1357.7 2153.8h5.8v24.0h-5.8zM1366.8 2153.8h5.8v24.0h-5.8zM1375.8 2153.8h5.8v24.0h-5.8zM1384.9 2153.8h5.8v24.0h-5.8zM1394.0 2153.8h5.8v24.0h-5.8zM1403.1 2153.8h5.8v24.0h-5.8zM1412.2 2153.8h5.8v24.0h-5.8zM1421.2 2153.8h5.8v24.0h-5.8zM1430.3 2153.8h5.8v24.0h-5.8zM1439.4 2153.8h5.8v24.0h-5.8zM1448.5 2153.8h5.8v24.0h-5.8zM1457.6 2153.8h5.8v24.0h-5.8zM1466.6 2153.8h5.8v24.0h-5.8zM1498.0 2153.8h5.8v24.0h-5.8zM1507.0 2153.8h5.8v24.0h-5.8zM1516.1 2153.8h5.8v24.0h-5.8zM1525.2 2153.8h5.8v24.0h-5.8zM1534.3 2153.8h5.8v24.0h-5.8zM1543.4 2153.8h5.8v24.0h-5.8zM1552.5 2153.8h5.8v24.0h-5.8zM1561.5 2153.8h5.8v24.0h-5.8zM1570.6 2153.8h5.8v24.0h-5.8zM1579.7 2153.8h5.8v24.0h-5.8zM1588.8 2153.8h5.8v24.0h-5.8zM1597.8 2153.8h5.8v24.0h-5.8zM1616.0 2153.8h5.8v24.0h-5.8zM1625.1 2153.8h5.8v24.0h-5.8zM1634.2 2153.8h5.8v24.0h-5.8zM1643.2 2153.8h5.8v24.0h-5.8zM1652.3 2153.8h5.8v24.0h-5.8zM1661.4 2153.8h5.8v24.0h-5.8zM1670.5 2153.8h5.8v24.0h-5.8zM1679.6 2153.8h5.8v24.0h-5.8zM1688.7 2153.8h5.8v24.0h-5.8zM1697.7 2153.8h5.8v24.0h-5.8zM1706.8 2153.8h5.8v24.0h-5.8zM1715.9 2153.8h5.8v24.0h-5.8zM1725.0 2153.8h5.8v24.0h-5.8zM1734.0 2153.8h5.8v24.0h-5.8zM1743.1 2153.8h5.8v24.0h-5.8zM1752.2 2153.8h5.8v24.0h-5.8zM1761.3 2153.8h5.8v24.0h-5.8zM1770.4 2153.8h5.8v24.0h-5.8zM1798.8 2153.8h5.8v24.0h-5.8zM1807.8 2153.8h5.8v24.0h-5.8zM1816.8 2153.8h5.8v24.0h-5.8z"/>
<path fill="#3a54a4" d="M658.5 2153.8h5.8v24.0h-5.8zM1021.7 2153.8h5.8v24.0h-5.8zM1606.9 2153.8h5.8v24.0h-5.8z"/>
<path fill="#0f8040" d="M268.1 2161.9h5.8v7.8h-5.8zM322.6 2161.9h5.8v7.8h-5.8zM540.5 2161.9h5.8v7.8h-5.8zM595.0 2161.9h5.8v7.8h-5.8zM685.8 2161.9h5.8v7.8h-5.8zM794.7 2161.9h5.8v7.8h-5.8zM1030.8 2161.9h5.8v7.8h-5.8zM1049.0 2161.9h5.8v7.8h-5.8zM1058.0 2161.9h5.8v7.8h-5.8z"/>
<path fill="#231f20" d="M249.9 2161.9h5.8v7.8h-5.8zM259.0 2161.9h5.8v7.8h-5.8zM404.3 2161.9h5.8v7.8h-5.8zM667.6 2161.9h5.8v7.8h-5.8zM676.7 2161.9h5.8v7.8h-5.8zM822.0 2161.9h5.8v7.8h-5.8zM831.0 2161.9h5.8v7.8h-5.8zM1039.9 2161.9h5.8v7.8h-5.8zM1543.4 2161.9h5.8v7.8h-5.8zM1706.8 2161.9h5.8v7.8h-5.8z"/>
<text x="152.5" y="2201.5" font-size="15.5" text-anchor="end" font-style="italic" fill="#2b2b2b" textLength="52.4" lengthAdjust="spacingAndGlyphs">SMAD4</text>
<path fill="#d4d5d7" d="M168.2 2184.7h5.8v24.0h-5.8zM177.3 2184.7h5.8v24.0h-5.8zM186.4 2184.7h5.8v24.0h-5.8zM195.4 2184.7h5.8v24.0h-5.8zM204.5 2184.7h5.8v24.0h-5.8zM213.6 2184.7h5.8v24.0h-5.8zM222.7 2184.7h5.8v24.0h-5.8zM231.8 2184.7h5.8v24.0h-5.8zM240.8 2184.7h5.8v24.0h-5.8zM249.9 2184.7h5.8v24.0h-5.8zM259.0 2184.7h5.8v24.0h-5.8zM268.1 2184.7h5.8v24.0h-5.8zM277.2 2184.7h5.8v24.0h-5.8zM286.2 2184.7h5.8v24.0h-5.8zM295.3 2184.7h5.8v24.0h-5.8zM304.4 2184.7h5.8v24.0h-5.8zM313.5 2184.7h5.8v24.0h-5.8zM322.6 2184.7h5.8v24.0h-5.8zM331.6 2184.7h5.8v24.0h-5.8zM340.7 2184.7h5.8v24.0h-5.8zM349.8 2184.7h5.8v24.0h-5.8zM358.9 2184.7h5.8v24.0h-5.8zM368.0 2184.7h5.8v24.0h-5.8zM377.0 2184.7h5.8v24.0h-5.8zM386.1 2184.7h5.8v24.0h-5.8zM395.2 2184.7h5.8v24.0h-5.8zM404.3 2184.7h5.8v24.0h-5.8zM413.4 2184.7h5.8v24.0h-5.8zM422.4 2184.7h5.8v24.0h-5.8zM431.5 2184.7h5.8v24.0h-5.8zM440.6 2184.7h5.8v24.0h-5.8zM449.7 2184.7h5.8v24.0h-5.8zM458.8 2184.7h5.8v24.0h-5.8zM467.8 2184.7h5.8v24.0h-5.8zM476.9 2184.7h5.8v24.0h-5.8zM486.0 2184.7h5.8v24.0h-5.8zM495.1 2184.7h5.8v24.0h-5.8zM504.2 2184.7h5.8v24.0h-5.8zM513.2 2184.7h5.8v24.0h-5.8zM522.3 2184.7h5.8v24.0h-5.8zM531.4 2184.7h5.8v24.0h-5.8zM540.5 2184.7h5.8v24.0h-5.8zM549.6 2184.7h5.8v24.0h-5.8zM558.6 2184.7h5.8v24.0h-5.8zM567.7 2184.7h5.8v24.0h-5.8zM576.8 2184.7h5.8v24.0h-5.8zM585.9 2184.7h5.8v24.0h-5.8zM595.0 2184.7h5.8v24.0h-5.8zM604.0 2184.7h5.8v24.0h-5.8zM613.1 2184.7h5.8v24.0h-5.8zM622.2 2184.7h5.8v24.0h-5.8zM631.3 2184.7h5.8v24.0h-5.8zM640.4 2184.7h5.8v24.0h-5.8zM649.4 2184.7h5.8v24.0h-5.8zM658.5 2184.7h5.8v24.0h-5.8zM667.6 2184.7h5.8v24.0h-5.8zM676.7 2184.7h5.8v24.0h-5.8zM685.8 2184.7h5.8v24.0h-5.8zM694.8 2184.7h5.8v24.0h-5.8zM703.9 2184.7h5.8v24.0h-5.8zM713.0 2184.7h5.8v24.0h-5.8zM722.1 2184.7h5.8v24.0h-5.8zM731.2 2184.7h5.8v24.0h-5.8zM740.2 2184.7h5.8v24.0h-5.8zM749.3 2184.7h5.8v24.0h-5.8zM758.4 2184.7h5.8v24.0h-5.8zM767.5 2184.7h5.8v24.0h-5.8zM776.6 2184.7h5.8v24.0h-5.8zM785.6 2184.7h5.8v24.0h-5.8zM794.7 2184.7h5.8v24.0h-5.8zM803.8 2184.7h5.8v24.0h-5.8zM812.9 2184.7h5.8v24.0h-5.8zM822.0 2184.7h5.8v24.0h-5.8zM831.0 2184.7h5.8v24.0h-5.8zM840.1 2184.7h5.8v24.0h-5.8zM849.2 2184.7h5.8v24.0h-5.8zM858.3 2184.7h5.8v24.0h-5.8zM867.4 2184.7h5.8v24.0h-5.8zM876.4 2184.7h5.8v24.0h-5.8zM885.5 2184.7h5.8v24.0h-5.8zM894.6 2184.7h5.8v24.0h-5.8zM903.7 2184.7h5.8v24.0h-5.8zM912.8 2184.7h5.8v24.0h-5.8zM921.8 2184.7h5.8v24.0h-5.8zM930.9 2184.7h5.8v24.0h-5.8zM940.0 2184.7h5.8v24.0h-5.8zM949.1 2184.7h5.8v24.0h-5.8zM958.2 2184.7h5.8v24.0h-5.8zM967.2 2184.7h5.8v24.0h-5.8zM976.3 2184.7h5.8v24.0h-5.8zM985.4 2184.7h5.8v24.0h-5.8zM994.5 2184.7h5.8v24.0h-5.8zM1003.6 2184.7h5.8v24.0h-5.8zM1012.6 2184.7h5.8v24.0h-5.8zM1021.7 2184.7h5.8v24.0h-5.8zM1030.8 2184.7h5.8v24.0h-5.8zM1039.9 2184.7h5.8v24.0h-5.8zM1049.0 2184.7h5.8v24.0h-5.8zM1058.0 2184.7h5.8v24.0h-5.8zM1076.2 2184.7h5.8v24.0h-5.8zM1085.3 2184.7h5.8v24.0h-5.8zM1094.4 2184.7h5.8v24.0h-5.8zM1103.4 2184.7h5.8v24.0h-5.8zM1112.5 2184.7h5.8v24.0h-5.8zM1121.6 2184.7h5.8v24.0h-5.8zM1130.7 2184.7h5.8v24.0h-5.8zM1139.8 2184.7h5.8v24.0h-5.8zM1148.8 2184.7h5.8v24.0h-5.8zM1157.9 2184.7h5.8v24.0h-5.8zM1167.0 2184.7h5.8v24.0h-5.8zM1176.1 2184.7h5.8v24.0h-5.8zM1185.2 2184.7h5.8v24.0h-5.8zM1194.2 2184.7h5.8v24.0h-5.8zM1203.3 2184.7h5.8v24.0h-5.8zM1212.4 2184.7h5.8v24.0h-5.8zM1221.5 2184.7h5.8v24.0h-5.8zM1230.6 2184.7h5.8v24.0h-5.8zM1239.6 2184.7h5.8v24.0h-5.8zM1248.7 2184.7h5.8v24.0h-5.8zM1257.8 2184.7h5.8v24.0h-5.8zM1266.9 2184.7h5.8v24.0h-5.8zM1276.0 2184.7h5.8v24.0h-5.8zM1285.0 2184.7h5.8v24.0h-5.8zM1294.1 2184.7h5.8v24.0h-5.8zM1303.2 2184.7h5.8v24.0h-5.8zM1312.3 2184.7h5.8v24.0h-5.8zM1321.4 2184.7h5.8v24.0h-5.8zM1330.4 2184.7h5.8v24.0h-5.8zM1339.5 2184.7h5.8v24.0h-5.8zM1348.6 2184.7h5.8v24.0h-5.8zM1357.7 2184.7h5.8v24.0h-5.8zM1366.8 2184.7h5.8v24.0h-5.8zM1375.8 2184.7h5.8v24.0h-5.8zM1384.9 2184.7h5.8v24.0h-5.8zM1394.0 2184.7h5.8v24.0h-5.8zM1403.1 2184.7h5.8v24.0h-5.8zM1412.2 2184.7h5.8v24.0h-5.8zM1421.2 2184.7h5.8v24.0h-5.8zM1430.3 2184.7h5.8v24.0h-5.8zM1439.4 2184.7h5.8v24.0h-5.8zM1448.5 2184.7h5.8v24.0h-5.8zM1457.6 2184.7h5.8v24.0h-5.8zM1466.6 2184.7h5.8v24.0h-5.8zM1507.0 2184.7h5.8v24.0h-5.8zM1516.1 2184.7h5.8v24.0h-5.8zM1525.2 2184.7h5.8v24.0h-5.8zM1534.3 2184.7h5.8v24.0h-5.8zM1543.4 2184.7h5.8v24.0h-5.8zM1552.5 2184.7h5.8v24.0h-5.8zM1561.5 2184.7h5.8v24.0h-5.8zM1570.6 2184.7h5.8v24.0h-5.8zM1579.7 2184.7h5.8v24.0h-5.8zM1588.8 2184.7h5.8v24.0h-5.8zM1597.8 2184.7h5.8v24.0h-5.8zM1606.9 2184.7h5.8v24.0h-5.8zM1625.1 2184.7h5.8v24.0h-5.8zM1634.2 2184.7h5.8v24.0h-5.8zM1643.2 2184.7h5.8v24.0h-5.8zM1652.3 2184.7h5.8v24.0h-5.8zM1661.4 2184.7h5.8v24.0h-5.8zM1670.5 2184.7h5.8v24.0h-5.8zM1679.6 2184.7h5.8v24.0h-5.8zM1688.7 2184.7h5.8v24.0h-5.8zM1697.7 2184.7h5.8v24.0h-5.8zM1706.8 2184.7h5.8v24.0h-5.8zM1715.9 2184.7h5.8v24.0h-5.8zM1725.0 2184.7h5.8v24.0h-5.8zM1734.0 2184.7h5.8v24.0h-5.8zM1743.1 2184.7h5.8v24.0h-5.8zM1752.2 2184.7h5.8v24.0h-5.8zM1761.3 2184.7h5.8v24.0h-5.8zM1770.4 2184.7h5.8v24.0h-5.8zM1798.8 2184.7h5.8v24.0h-5.8zM1807.8 2184.7h5.8v24.0h-5.8zM1816.8 2184.7h5.8v24.0h-5.8z"/>
<path fill="#3a54a4" d="M1067.1 2184.7h5.8v24.0h-5.8zM1498.0 2184.7h5.8v24.0h-5.8zM1616.0 2184.7h5.8v24.0h-5.8z"/>
<path fill="#0f8040" d="M277.2 2192.8h5.8v7.8h-5.8zM558.6 2192.8h5.8v7.8h-5.8zM1030.8 2192.8h5.8v7.8h-5.8zM1507.0 2192.8h5.8v7.8h-5.8zM1525.2 2192.8h5.8v7.8h-5.8z"/>
<path fill="#231f20" d="M576.8 2192.8h5.8v7.8h-5.8zM1076.2 2192.8h5.8v7.8h-5.8z"/>
<text x="152.5" y="2232.4" font-size="15.5" text-anchor="end" font-style="italic" fill="#2b2b2b" textLength="65.8" lengthAdjust="spacingAndGlyphs">miR-200a</text>
<path fill="#d4d5d7" d="M168.2 2215.6h5.8v24.0h-5.8zM177.3 2215.6h5.8v24.0h-5.8zM195.4 2215.6h5.8v24.0h-5.8zM204.5 2215.6h5.8v24.0h-5.8zM213.6 2215.6h5.8v24.0h-5.8zM222.7 2215.6h5.8v24.0h-5.8zM231.8 2215.6h5.8v24.0h-5.8zM240.8 2215.6h5.8v24.0h-5.8zM249.9 2215.6h5.8v24.0h-5.8zM268.1 2215.6h5.8v24.0h-5.8zM277.2 2215.6h5.8v24.0h-5.8zM286.2 2215.6h5.8v24.0h-5.8zM295.3 2215.6h5.8v24.0h-5.8zM304.4 2215.6h5.8v24.0h-5.8zM313.5 2215.6h5.8v24.0h-5.8zM322.6 2215.6h5.8v24.0h-5.8zM331.6 2215.6h5.8v24.0h-5.8zM340.7 2215.6h5.8v24.0h-5.8zM349.8 2215.6h5.8v24.0h-5.8zM358.9 2215.6h5.8v24.0h-5.8zM368.0 2215.6h5.8v24.0h-5.8zM377.0 2215.6h5.8v24.0h-5.8zM386.1 2215.6h5.8v24.0h-5.8zM395.2 2215.6h5.8v24.0h-5.8zM404.3 2215.6h5.8v24.0h-5.8zM422.4 2215.6h5.8v24.0h-5.8zM431.5 2215.6h5.8v24.0h-5.8zM449.7 2215.6h5.8v24.0h-5.8zM458.8 2215.6h5.8v24.0h-5.8zM467.8 2215.6h5.8v24.0h-5.8zM476.9 2215.6h5.8v24.0h-5.8zM486.0 2215.6h5.8v24.0h-5.8zM495.1 2215.6h5.8v24.0h-5.8zM504.2 2215.6h5.8v24.0h-5.8zM513.2 2215.6h5.8v24.0h-5.8zM522.3 2215.6h5.8v24.0h-5.8zM531.4 2215.6h5.8v24.0h-5.8zM540.5 2215.6h5.8v24.0h-5.8zM549.6 2215.6h5.8v24.0h-5.8zM558.6 2215.6h5.8v24.0h-5.8zM567.7 2215.6h5.8v24.0h-5.8zM576.8 2215.6h5.8v24.0h-5.8zM585.9 2215.6h5.8v24.0h-5.8zM595.0 2215.6h5.8v24.0h-5.8zM604.0 2215.6h5.8v24.0h-5.8zM613.1 2215.6h5.8v24.0h-5.8zM622.2 2215.6h5.8v24.0h-5.8zM631.3 2215.6h5.8v24.0h-5.8zM640.4 2215.6h5.8v24.0h-5.8zM649.4 2215.6h5.8v24.0h-5.8zM658.5 2215.6h5.8v24.0h-5.8zM667.6 2215.6h5.8v24.0h-5.8zM676.7 2215.6h5.8v24.0h-5.8zM685.8 2215.6h5.8v24.0h-5.8zM694.8 2215.6h5.8v24.0h-5.8zM703.9 2215.6h5.8v24.0h-5.8zM713.0 2215.6h5.8v24.0h-5.8zM722.1 2215.6h5.8v24.0h-5.8zM731.2 2215.6h5.8v24.0h-5.8zM740.2 2215.6h5.8v24.0h-5.8zM749.3 2215.6h5.8v24.0h-5.8zM758.4 2215.6h5.8v24.0h-5.8zM767.5 2215.6h5.8v24.0h-5.8zM776.6 2215.6h5.8v24.0h-5.8zM785.6 2215.6h5.8v24.0h-5.8zM794.7 2215.6h5.8v24.0h-5.8zM803.8 2215.6h5.8v24.0h-5.8zM812.9 2215.6h5.8v24.0h-5.8zM822.0 2215.6h5.8v24.0h-5.8zM831.0 2215.6h5.8v24.0h-5.8zM840.1 2215.6h5.8v24.0h-5.8zM849.2 2215.6h5.8v24.0h-5.8zM867.4 2215.6h5.8v24.0h-5.8zM876.4 2215.6h5.8v24.0h-5.8zM885.5 2215.6h5.8v24.0h-5.8zM930.9 2215.6h5.8v24.0h-5.8zM940.0 2215.6h5.8v24.0h-5.8zM949.1 2215.6h5.8v24.0h-5.8zM958.2 2215.6h5.8v24.0h-5.8zM967.2 2215.6h5.8v24.0h-5.8zM976.3 2215.6h5.8v24.0h-5.8zM985.4 2215.6h5.8v24.0h-5.8zM994.5 2215.6h5.8v24.0h-5.8zM1003.6 2215.6h5.8v24.0h-5.8zM1012.6 2215.6h5.8v24.0h-5.8zM1021.7 2215.6h5.8v24.0h-5.8zM1030.8 2215.6h5.8v24.0h-5.8zM1039.9 2215.6h5.8v24.0h-5.8zM1049.0 2215.6h5.8v24.0h-5.8zM1058.0 2215.6h5.8v24.0h-5.8zM1076.2 2215.6h5.8v24.0h-5.8zM1148.8 2215.6h5.8v24.0h-5.8zM1157.9 2215.6h5.8v24.0h-5.8zM1167.0 2215.6h5.8v24.0h-5.8zM1176.1 2215.6h5.8v24.0h-5.8zM1185.2 2215.6h5.8v24.0h-5.8zM1194.2 2215.6h5.8v24.0h-5.8zM1203.3 2215.6h5.8v24.0h-5.8zM1212.4 2215.6h5.8v24.0h-5.8zM1221.5 2215.6h5.8v24.0h-5.8zM1230.6 2215.6h5.8v24.0h-5.8zM1239.6 2215.6h5.8v24.0h-5.8zM1248.7 2215.6h5.8v24.0h-5.8zM1257.8 2215.6h5.8v24.0h-5.8zM1266.9 2215.6h5.8v24.0h-5.8zM1276.0 2215.6h5.8v24.0h-5.8zM1285.0 2215.6h5.8v24.0h-5.8zM1294.1 2215.6h5.8v24.0h-5.8zM1303.2 2215.6h5.8v24.0h-5.8zM1312.3 2215.6h5.8v24.0h-5.8zM1321.4 2215.6h5.8v24.0h-5.8zM1330.4 2215.6h5.8v24.0h-5.8zM1339.5 2215.6h5.8v24.0h-5.8zM1348.6 2215.6h5.8v24.0h-5.8zM1357.7 2215.6h5.8v24.0h-5.8zM1366.8 2215.6h5.8v24.0h-5.8zM1375.8 2215.6h5.8v24.0h-5.8zM1384.9 2215.6h5.8v24.0h-5.8zM1394.0 2215.6h5.8v24.0h-5.8zM1403.1 2215.6h5.8v24.0h-5.8zM1412.2 2215.6h5.8v24.0h-5.8zM1421.2 2215.6h5.8v24.0h-5.8zM1430.3 2215.6h5.8v24.0h-5.8zM1439.4 2215.6h5.8v24.0h-5.8zM1448.5 2215.6h5.8v24.0h-5.8zM1457.6 2215.6h5.8v24.0h-5.8zM1466.6 2215.6h5.8v24.0h-5.8zM1498.0 2215.6h5.8v24.0h-5.8zM1507.0 2215.6h5.8v24.0h-5.8zM1516.1 2215.6h5.8v24.0h-5.8zM1525.2 2215.6h5.8v24.0h-5.8zM1534.3 2215.6h5.8v24.0h-5.8zM1543.4 2215.6h5.8v24.0h-5.8zM1552.5 2215.6h5.8v24.0h-5.8zM1561.5 2215.6h5.8v24.0h-5.8zM1570.6 2215.6h5.8v24.0h-5.8zM1579.7 2215.6h5.8v24.0h-5.8zM1588.8 2215.6h5.8v24.0h-5.8zM1597.8 2215.6h5.8v24.0h-5.8zM1606.9 2215.6h5.8v24.0h-5.8zM1616.0 2215.6h5.8v24.0h-5.8zM1625.1 2215.6h5.8v24.0h-5.8zM1634.2 2215.6h5.8v24.0h-5.8zM1643.2 2215.6h5.8v24.0h-5.8zM1652.3 2215.6h5.8v24.0h-5.8zM1661.4 2215.6h5.8v24.0h-5.8zM1670.5 2215.6h5.8v24.0h-5.8zM1679.6 2215.6h5.8v24.0h-5.8zM1688.7 2215.6h5.8v24.0h-5.8zM1697.7 2215.6h5.8v24.0h-5.8zM1706.8 2215.6h5.8v24.0h-5.8zM1715.9 2215.6h5.8v24.0h-5.8zM1725.0 2215.6h5.8v24.0h-5.8zM1734.0 2215.6h5.8v24.0h-5.8zM1743.1 2215.6h5.8v24.0h-5.8zM1752.2 2215.6h5.8v24.0h-5.8zM1761.3 2215.6h5.8v24.0h-5.8zM1770.4 2215.6h5.8v24.0h-5.8zM1798.8 2215.6h5.8v24.0h-5.8zM1807.8 2215.6h5.8v24.0h-5.8zM1816.8 2215.6h5.8v24.0h-5.8z"/>
<path fill="#5ec8dc" d="M186.4 2215.6h5.8v24.0h-5.8zM259.0 2215.6h5.8v24.0h-5.8zM413.4 2215.6h5.8v24.0h-5.8zM440.6 2215.6h5.8v24.0h-5.8zM858.3 2215.6h5.8v24.0h-5.8zM894.6 2215.6h5.8v24.0h-5.8zM903.7 2215.6h5.8v24.0h-5.8zM912.8 2215.6h5.8v24.0h-5.8zM921.8 2215.6h5.8v24.0h-5.8zM1067.1 2215.6h5.8v24.0h-5.8zM1085.3 2215.6h5.8v24.0h-5.8zM1094.4 2215.6h5.8v24.0h-5.8zM1103.4 2215.6h5.8v24.0h-5.8zM1112.5 2215.6h5.8v24.0h-5.8zM1121.6 2215.6h5.8v24.0h-5.8zM1130.7 2215.6h5.8v24.0h-5.8zM1139.8 2215.6h5.8v24.0h-5.8z"/>
<text x="152.5" y="2263.3" font-size="15.5" text-anchor="end" font-style="italic" fill="#2b2b2b" textLength="65.8" lengthAdjust="spacingAndGlyphs">miR-200b</text>
<path fill="#d4d5d7" d="M168.2 2246.5h5.8v24.0h-5.8zM177.3 2246.5h5.8v24.0h-5.8zM195.4 2246.5h5.8v24.0h-5.8zM204.5 2246.5h5.8v24.0h-5.8zM213.6 2246.5h5.8v24.0h-5.8zM222.7 2246.5h5.8v24.0h-5.8zM231.8 2246.5h5.8v24.0h-5.8zM240.8 2246.5h5.8v24.0h-5.8zM249.9 2246.5h5.8v24.0h-5.8zM268.1 2246.5h5.8v24.0h-5.8zM277.2 2246.5h5.8v24.0h-5.8zM286.2 2246.5h5.8v24.0h-5.8zM295.3 2246.5h5.8v24.0h-5.8zM304.4 2246.5h5.8v24.0h-5.8zM313.5 2246.5h5.8v24.0h-5.8zM322.6 2246.5h5.8v24.0h-5.8zM331.6 2246.5h5.8v24.0h-5.8zM340.7 2246.5h5.8v24.0h-5.8zM349.8 2246.5h5.8v24.0h-5.8zM358.9 2246.5h5.8v24.0h-5.8zM368.0 2246.5h5.8v24.0h-5.8zM377.0 2246.5h5.8v24.0h-5.8zM386.1 2246.5h5.8v24.0h-5.8zM395.2 2246.5h5.8v24.0h-5.8zM404.3 2246.5h5.8v24.0h-5.8zM422.4 2246.5h5.8v24.0h-5.8zM431.5 2246.5h5.8v24.0h-5.8zM449.7 2246.5h5.8v24.0h-5.8zM458.8 2246.5h5.8v24.0h-5.8zM467.8 2246.5h5.8v24.0h-5.8zM476.9 2246.5h5.8v24.0h-5.8zM486.0 2246.5h5.8v24.0h-5.8zM495.1 2246.5h5.8v24.0h-5.8zM504.2 2246.5h5.8v24.0h-5.8zM513.2 2246.5h5.8v24.0h-5.8zM522.3 2246.5h5.8v24.0h-5.8zM531.4 2246.5h5.8v24.0h-5.8zM540.5 2246.5h5.8v24.0h-5.8zM549.6 2246.5h5.8v24.0h-5.8zM558.6 2246.5h5.8v24.0h-5.8zM567.7 2246.5h5.8v24.0h-5.8zM576.8 2246.5h5.8v24.0h-5.8zM585.9 2246.5h5.8v24.0h-5.8zM595.0 2246.5h5.8v24.0h-5.8zM604.0 2246.5h5.8v24.0h-5.8zM613.1 2246.5h5.8v24.0h-5.8zM622.2 2246.5h5.8v24.0h-5.8zM631.3 2246.5h5.8v24.0h-5.8zM640.4 2246.5h5.8v24.0h-5.8zM649.4 2246.5h5.8v24.0h-5.8zM658.5 2246.5h5.8v24.0h-5.8zM667.6 2246.5h5.8v24.0h-5.8zM676.7 2246.5h5.8v24.0h-5.8zM685.8 2246.5h5.8v24.0h-5.8zM703.9 2246.5h5.8v24.0h-5.8zM713.0 2246.5h5.8v24.0h-5.8zM722.1 2246.5h5.8v24.0h-5.8zM731.2 2246.5h5.8v24.0h-5.8zM740.2 2246.5h5.8v24.0h-5.8zM749.3 2246.5h5.8v24.0h-5.8zM758.4 2246.5h5.8v24.0h-5.8zM767.5 2246.5h5.8v24.0h-5.8zM776.6 2246.5h5.8v24.0h-5.8zM785.6 2246.5h5.8v24.0h-5.8zM794.7 2246.5h5.8v24.0h-5.8zM803.8 2246.5h5.8v24.0h-5.8zM812.9 2246.5h5.8v24.0h-5.8zM822.0 2246.5h5.8v24.0h-5.8zM831.0 2246.5h5.8v24.0h-5.8zM840.1 2246.5h5.8v24.0h-5.8zM849.2 2246.5h5.8v24.0h-5.8zM867.4 2246.5h5.8v24.0h-5.8zM876.4 2246.5h5.8v24.0h-5.8zM885.5 2246.5h5.8v24.0h-5.8zM930.9 2246.5h5.8v24.0h-5.8zM940.0 2246.5h5.8v24.0h-5.8zM949.1 2246.5h5.8v24.0h-5.8zM958.2 2246.5h5.8v24.0h-5.8zM967.2 2246.5h5.8v24.0h-5.8zM976.3 2246.5h5.8v24.0h-5.8zM985.4 2246.5h5.8v24.0h-5.8zM994.5 2246.5h5.8v24.0h-5.8zM1003.6 2246.5h5.8v24.0h-5.8zM1012.6 2246.5h5.8v24.0h-5.8zM1021.7 2246.5h5.8v24.0h-5.8zM1030.8 2246.5h5.8v24.0h-5.8zM1049.0 2246.5h5.8v24.0h-5.8zM1058.0 2246.5h5.8v24.0h-5.8zM1157.9 2246.5h5.8v24.0h-5.8zM1167.0 2246.5h5.8v24.0h-5.8zM1176.1 2246.5h5.8v24.0h-5.8zM1185.2 2246.5h5.8v24.0h-5.8zM1194.2 2246.5h5.8v24.0h-5.8zM1203.3 2246.5h5.8v24.0h-5.8zM1212.4 2246.5h5.8v24.0h-5.8zM1221.5 2246.5h5.8v24.0h-5.8zM1230.6 2246.5h5.8v24.0h-5.8zM1239.6 2246.5h5.8v24.0h-5.8zM1248.7 2246.5h5.8v24.0h-5.8zM1257.8 2246.5h5.8v24.0h-5.8zM1266.9 2246.5h5.8v24.0h-5.8zM1276.0 2246.5h5.8v24.0h-5.8zM1285.0 2246.5h5.8v24.0h-5.8zM1294.1 2246.5h5.8v24.0h-5.8zM1303.2 2246.5h5.8v24.0h-5.8zM1312.3 2246.5h5.8v24.0h-5.8zM1321.4 2246.5h5.8v24.0h-5.8zM1330.4 2246.5h5.8v24.0h-5.8zM1339.5 2246.5h5.8v24.0h-5.8zM1348.6 2246.5h5.8v24.0h-5.8zM1357.7 2246.5h5.8v24.0h-5.8zM1366.8 2246.5h5.8v24.0h-5.8zM1375.8 2246.5h5.8v24.0h-5.8zM1384.9 2246.5h5.8v24.0h-5.8zM1394.0 2246.5h5.8v24.0h-5.8zM1403.1 2246.5h5.8v24.0h-5.8zM1412.2 2246.5h5.8v24.0h-5.8zM1421.2 2246.5h5.8v24.0h-5.8zM1430.3 2246.5h5.8v24.0h-5.8zM1439.4 2246.5h5.8v24.0h-5.8zM1448.5 2246.5h5.8v24.0h-5.8zM1457.6 2246.5h5.8v24.0h-5.8zM1466.6 2246.5h5.8v24.0h-5.8zM1498.0 2246.5h5.8v24.0h-5.8zM1507.0 2246.5h5.8v24.0h-5.8zM1516.1 2246.5h5.8v24.0h-5.8zM1525.2 2246.5h5.8v24.0h-5.8zM1534.3 2246.5h5.8v24.0h-5.8zM1543.4 2246.5h5.8v24.0h-5.8zM1552.5 2246.5h5.8v24.0h-5.8zM1561.5 2246.5h5.8v24.0h-5.8zM1570.6 2246.5h5.8v24.0h-5.8zM1579.7 2246.5h5.8v24.0h-5.8zM1588.8 2246.5h5.8v24.0h-5.8zM1597.8 2246.5h5.8v24.0h-5.8zM1606.9 2246.5h5.8v24.0h-5.8zM1616.0 2246.5h5.8v24.0h-5.8zM1625.1 2246.5h5.8v24.0h-5.8zM1634.2 2246.5h5.8v24.0h-5.8zM1643.2 2246.5h5.8v24.0h-5.8zM1652.3 2246.5h5.8v24.0h-5.8zM1661.4 2246.5h5.8v24.0h-5.8zM1670.5 2246.5h5.8v24.0h-5.8zM1679.6 2246.5h5.8v24.0h-5.8zM1688.7 2246.5h5.8v24.0h-5.8zM1697.7 2246.5h5.8v24.0h-5.8zM1706.8 2246.5h5.8v24.0h-5.8zM1715.9 2246.5h5.8v24.0h-5.8zM1725.0 2246.5h5.8v24.0h-5.8zM1734.0 2246.5h5.8v24.0h-5.8zM1743.1 2246.5h5.8v24.0h-5.8zM1752.2 2246.5h5.8v24.0h-5.8zM1761.3 2246.5h5.8v24.0h-5.8zM1770.4 2246.5h5.8v24.0h-5.8zM1798.8 2246.5h5.8v24.0h-5.8zM1807.8 2246.5h5.8v24.0h-5.8zM1816.8 2246.5h5.8v24.0h-5.8z"/>
<path fill="#5ec8dc" d="M186.4 2246.5h5.8v24.0h-5.8zM259.0 2246.5h5.8v24.0h-5.8zM413.4 2246.5h5.8v24.0h-5.8zM440.6 2246.5h5.8v24.0h-5.8zM694.8 2246.5h5.8v24.0h-5.8zM858.3 2246.5h5.8v24.0h-5.8zM894.6 2246.5h5.8v24.0h-5.8zM903.7 2246.5h5.8v24.0h-5.8zM912.8 2246.5h5.8v24.0h-5.8zM921.8 2246.5h5.8v24.0h-5.8zM1039.9 2246.5h5.8v24.0h-5.8zM1067.1 2246.5h5.8v24.0h-5.8zM1076.2 2246.5h5.8v24.0h-5.8zM1085.3 2246.5h5.8v24.0h-5.8zM1094.4 2246.5h5.8v24.0h-5.8zM1103.4 2246.5h5.8v24.0h-5.8zM1112.5 2246.5h5.8v24.0h-5.8zM1121.6 2246.5h5.8v24.0h-5.8zM1130.7 2246.5h5.8v24.0h-5.8zM1139.8 2246.5h5.8v24.0h-5.8zM1148.8 2246.5h5.8v24.0h-5.8z"/>
<text x="173.4" y="2332.2" font-size="19" fill="#9a9a9a" stroke="#9a9a9a" stroke-width="0.3" textLength="140.6" lengthAdjust="spacingAndGlyphs">genetic alteration</text>
<rect x="365.60" y="2307.60" width="8.60" height="36.30" fill="#ec1c24"/>
<text x="393.0" y="2332.2" font-size="19" stroke="#231f20" stroke-width="0.3" textLength="105.8" lengthAdjust="spacingAndGlyphs">Amplification</text>
<rect x="546.50" y="2307.60" width="8.60" height="36.30" fill="#3a54a4"/>
<text x="573.0" y="2332.2" font-size="19" stroke="#231f20" stroke-width="0.3" textLength="115.0" lengthAdjust="spacingAndGlyphs">Deep Deletion</text>
<rect x="750.40" y="2307.60" width="8.40" height="36.30" fill="#d4d5d7"/>
<rect x="750.40" y="2320.50" width="8.40" height="10.50" fill="#0f8040"/>
<text x="777.3" y="2332.2" font-size="19" stroke="#231f20" stroke-width="0.3" textLength="149.3" lengthAdjust="spacingAndGlyphs">Missense Mutation</text>
<rect x="981.25" y="2307.60" width="8.30" height="36.30" fill="#d4d5d7"/>
<rect x="981.25" y="2320.50" width="8.30" height="10.50" fill="#231f20"/>
<text x="1007.0" y="2332.2" font-size="19" stroke="#231f20" stroke-width="0.3" textLength="164.9" lengthAdjust="spacingAndGlyphs">Truncating Mutation</text>
<rect x="1233.60" y="2307.60" width="8.60" height="36.30" fill="#5ec8dc"/>
<text x="1259.8" y="2332.2" font-size="19" stroke="#231f20" stroke-width="0.3" textLength="98.4" lengthAdjust="spacingAndGlyphs">miR- altered</text>
<rect x="1507.90" y="2309.00" width="69.20" height="16.80" fill="#4cc8f4"/>
<rect x="1507.90" y="2340.30" width="69.20" height="16.30" fill="#808285"/>
<rect x="1507.90" y="2372.70" width="69.20" height="16.70" fill="#c6b99d"/>
<text x="1591.6" y="2323.1" font-size="21" stroke="#231f20" stroke-width="0.3" textLength="193.1" lengthAdjust="spacingAndGlyphs">Squamous (n=144)</text>
<text x="1591.6" y="2356.0" font-size="21" stroke="#231f20" stroke-width="0.3" textLength="242.9" lengthAdjust="spacingAndGlyphs">Adenocarcinoma (n=31)</text>
<text x="1591.6" y="2388.3" font-size="21" stroke="#231f20" stroke-width="0.3" textLength="229.9" lengthAdjust="spacingAndGlyphs">Adenosquamous (n=3)</text>
</svg>
</body></html>
